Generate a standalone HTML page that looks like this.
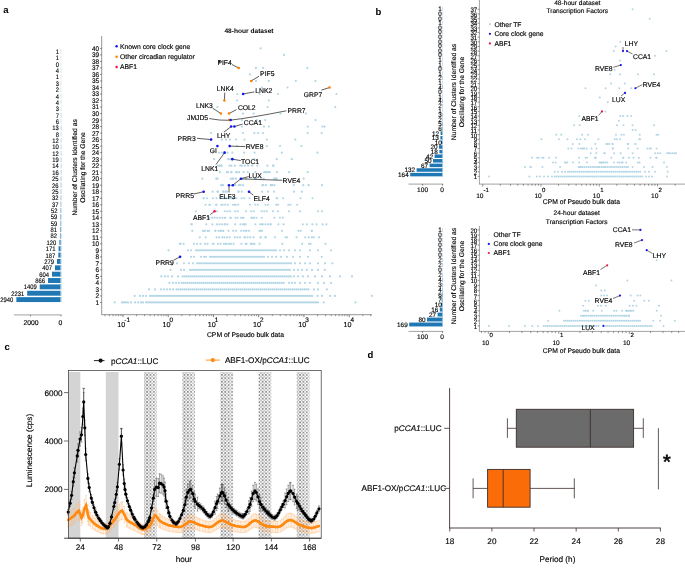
<!DOCTYPE html>
<html><head><meta charset="utf-8"><style>
html,body{margin:0;padding:0;background:#fff;}
svg{display:block;font-family:"Liberation Sans", sans-serif;will-change:transform;text-rendering:geometricPrecision;}
</style></head><body>
<svg width="685" height="570" viewBox="0 0 685 570">
<rect width="685" height="570" fill="#fff"/>
<text x="3.30" y="13.20" font-size="9.5" text-anchor="start" font-weight="bold" fill="#000" >a</text>
<text x="375.50" y="15.30" font-size="9.5" text-anchor="start" font-weight="bold" fill="#000" >b</text>
<text x="4.60" y="349.50" font-size="9.5" text-anchor="start" font-weight="bold" fill="#000" >c</text>
<text x="367.40" y="358.20" font-size="9.5" text-anchor="start" font-weight="bold" fill="#000" >d</text>
<rect x="61.18" y="49.11" width="0.02" height="4.90" fill="#1f77b4" />
<line x1="60.80" y1="49.26" x2="60.80" y2="53.86" stroke="#d6e6f3" stroke-width="0.8" />
<text x="58.98" y="54.01" font-size="6.6" text-anchor="end" font-weight="normal" fill="#000" stroke="#000" stroke-width="0.14" textLength="3.2" lengthAdjust="spacingAndGlyphs" >1</text>
<rect x="61.18" y="55.47" width="0.02" height="4.90" fill="#1f77b4" />
<line x1="60.80" y1="55.62" x2="60.80" y2="60.22" stroke="#d6e6f3" stroke-width="0.8" />
<text x="58.98" y="60.37" font-size="6.6" text-anchor="end" font-weight="normal" fill="#000" stroke="#000" stroke-width="0.14" textLength="3.2" lengthAdjust="spacingAndGlyphs" >1</text>
<line x1="60.80" y1="61.98" x2="60.80" y2="66.58" stroke="#d6e6f3" stroke-width="0.8" />
<text x="59.00" y="66.73" font-size="6.6" text-anchor="end" font-weight="normal" fill="#000" stroke="#000" stroke-width="0.14" textLength="3.2" lengthAdjust="spacingAndGlyphs" >0</text>
<rect x="61.14" y="68.19" width="0.06" height="4.90" fill="#1f77b4" />
<line x1="60.80" y1="68.34" x2="60.80" y2="72.94" stroke="#d6e6f3" stroke-width="0.8" />
<text x="58.94" y="73.09" font-size="6.6" text-anchor="end" font-weight="normal" fill="#000" stroke="#000" stroke-width="0.14" textLength="3.2" lengthAdjust="spacingAndGlyphs" >4</text>
<rect x="61.18" y="74.55" width="0.02" height="4.90" fill="#1f77b4" />
<line x1="60.80" y1="74.70" x2="60.80" y2="79.30" stroke="#d6e6f3" stroke-width="0.8" />
<text x="58.98" y="79.45" font-size="6.6" text-anchor="end" font-weight="normal" fill="#000" stroke="#000" stroke-width="0.14" textLength="3.2" lengthAdjust="spacingAndGlyphs" >1</text>
<rect x="61.15" y="80.91" width="0.05" height="4.90" fill="#1f77b4" />
<line x1="60.80" y1="81.06" x2="60.80" y2="85.66" stroke="#d6e6f3" stroke-width="0.8" />
<text x="58.95" y="85.81" font-size="6.6" text-anchor="end" font-weight="normal" fill="#000" stroke="#000" stroke-width="0.14" textLength="3.2" lengthAdjust="spacingAndGlyphs" >3</text>
<rect x="61.17" y="87.27" width="0.03" height="4.90" fill="#1f77b4" />
<line x1="60.80" y1="87.42" x2="60.80" y2="92.02" stroke="#d6e6f3" stroke-width="0.8" />
<text x="58.97" y="92.17" font-size="6.6" text-anchor="end" font-weight="normal" fill="#000" stroke="#000" stroke-width="0.14" textLength="3.2" lengthAdjust="spacingAndGlyphs" >2</text>
<rect x="61.14" y="93.63" width="0.06" height="4.90" fill="#1f77b4" />
<line x1="60.80" y1="93.78" x2="60.80" y2="98.38" stroke="#d6e6f3" stroke-width="0.8" />
<text x="58.94" y="98.53" font-size="6.6" text-anchor="end" font-weight="normal" fill="#000" stroke="#000" stroke-width="0.14" textLength="3.2" lengthAdjust="spacingAndGlyphs" >4</text>
<rect x="61.14" y="99.99" width="0.06" height="4.90" fill="#1f77b4" />
<line x1="60.80" y1="100.14" x2="60.80" y2="104.74" stroke="#d6e6f3" stroke-width="0.8" />
<text x="58.94" y="104.89" font-size="6.6" text-anchor="end" font-weight="normal" fill="#000" stroke="#000" stroke-width="0.14" textLength="3.2" lengthAdjust="spacingAndGlyphs" >4</text>
<rect x="61.15" y="106.35" width="0.05" height="4.90" fill="#1f77b4" />
<line x1="60.80" y1="106.50" x2="60.80" y2="111.10" stroke="#d6e6f3" stroke-width="0.8" />
<text x="58.95" y="111.25" font-size="6.6" text-anchor="end" font-weight="normal" fill="#000" stroke="#000" stroke-width="0.14" textLength="3.2" lengthAdjust="spacingAndGlyphs" >3</text>
<rect x="61.09" y="112.71" width="0.11" height="4.90" fill="#1f77b4" />
<line x1="60.80" y1="112.86" x2="60.80" y2="117.46" stroke="#d6e6f3" stroke-width="0.8" />
<text x="58.89" y="117.61" font-size="6.6" text-anchor="end" font-weight="normal" fill="#000" stroke="#000" stroke-width="0.14" textLength="3.2" lengthAdjust="spacingAndGlyphs" >7</text>
<rect x="61.11" y="119.07" width="0.09" height="4.90" fill="#1f77b4" />
<line x1="60.80" y1="119.22" x2="60.80" y2="123.82" stroke="#d6e6f3" stroke-width="0.8" />
<text x="58.91" y="123.97" font-size="6.6" text-anchor="end" font-weight="normal" fill="#000" stroke="#000" stroke-width="0.14" textLength="3.2" lengthAdjust="spacingAndGlyphs" >6</text>
<rect x="61.00" y="125.43" width="0.20" height="4.90" fill="#1f77b4" />
<line x1="60.80" y1="125.58" x2="60.80" y2="130.18" stroke="#d6e6f3" stroke-width="0.8" />
<text x="58.80" y="130.33" font-size="6.6" text-anchor="end" font-weight="normal" fill="#000" stroke="#000" stroke-width="0.14" textLength="6.5" lengthAdjust="spacingAndGlyphs" >13</text>
<rect x="61.08" y="131.79" width="0.12" height="4.90" fill="#1f77b4" />
<line x1="60.80" y1="131.94" x2="60.80" y2="136.54" stroke="#d6e6f3" stroke-width="0.8" />
<text x="58.88" y="136.69" font-size="6.6" text-anchor="end" font-weight="normal" fill="#000" stroke="#000" stroke-width="0.14" textLength="3.2" lengthAdjust="spacingAndGlyphs" >8</text>
<rect x="61.02" y="138.15" width="0.18" height="4.90" fill="#1f77b4" />
<line x1="60.80" y1="138.30" x2="60.80" y2="142.90" stroke="#d6e6f3" stroke-width="0.8" />
<text x="58.82" y="143.05" font-size="6.6" text-anchor="end" font-weight="normal" fill="#000" stroke="#000" stroke-width="0.14" textLength="6.5" lengthAdjust="spacingAndGlyphs" >12</text>
<rect x="61.05" y="144.51" width="0.15" height="4.90" fill="#1f77b4" />
<line x1="60.80" y1="144.66" x2="60.80" y2="149.26" stroke="#d6e6f3" stroke-width="0.8" />
<text x="58.85" y="149.41" font-size="6.6" text-anchor="end" font-weight="normal" fill="#000" stroke="#000" stroke-width="0.14" textLength="6.5" lengthAdjust="spacingAndGlyphs" >10</text>
<rect x="61.02" y="150.87" width="0.18" height="4.90" fill="#1f77b4" />
<line x1="60.80" y1="151.02" x2="60.80" y2="155.62" stroke="#d6e6f3" stroke-width="0.8" />
<text x="58.82" y="155.77" font-size="6.6" text-anchor="end" font-weight="normal" fill="#000" stroke="#000" stroke-width="0.14" textLength="6.5" lengthAdjust="spacingAndGlyphs" >12</text>
<rect x="60.91" y="157.23" width="0.29" height="4.90" fill="#1f77b4" />
<line x1="60.80" y1="157.38" x2="60.80" y2="161.98" stroke="#d6e6f3" stroke-width="0.8" />
<text x="58.71" y="162.13" font-size="6.6" text-anchor="end" font-weight="normal" fill="#000" stroke="#000" stroke-width="0.14" textLength="6.5" lengthAdjust="spacingAndGlyphs" >19</text>
<rect x="60.99" y="163.59" width="0.21" height="4.90" fill="#1f77b4" />
<line x1="60.80" y1="163.74" x2="60.80" y2="168.34" stroke="#d6e6f3" stroke-width="0.8" />
<text x="58.79" y="168.49" font-size="6.6" text-anchor="end" font-weight="normal" fill="#000" stroke="#000" stroke-width="0.14" textLength="6.5" lengthAdjust="spacingAndGlyphs" >14</text>
<rect x="60.96" y="169.95" width="0.24" height="4.90" fill="#1f77b4" />
<line x1="60.80" y1="170.10" x2="60.80" y2="174.70" stroke="#d6e6f3" stroke-width="0.8" />
<text x="58.76" y="174.85" font-size="6.6" text-anchor="end" font-weight="normal" fill="#000" stroke="#000" stroke-width="0.14" textLength="6.5" lengthAdjust="spacingAndGlyphs" >16</text>
<rect x="60.82" y="176.31" width="0.38" height="4.90" fill="#1f77b4" />
<line x1="60.80" y1="176.46" x2="60.80" y2="181.06" stroke="#d6e6f3" stroke-width="0.8" />
<text x="58.62" y="181.21" font-size="6.6" text-anchor="end" font-weight="normal" fill="#000" stroke="#000" stroke-width="0.14" textLength="6.5" lengthAdjust="spacingAndGlyphs" >25</text>
<rect x="60.80" y="182.67" width="0.40" height="4.90" fill="#1f77b4" />
<line x1="60.80" y1="182.82" x2="60.80" y2="187.42" stroke="#d6e6f3" stroke-width="0.8" />
<text x="58.60" y="187.57" font-size="6.6" text-anchor="end" font-weight="normal" fill="#000" stroke="#000" stroke-width="0.14" textLength="6.5" lengthAdjust="spacingAndGlyphs" >26</text>
<rect x="60.82" y="189.03" width="0.38" height="4.90" fill="#1f77b4" />
<line x1="60.80" y1="189.18" x2="60.80" y2="193.78" stroke="#d6e6f3" stroke-width="0.8" />
<text x="58.62" y="193.93" font-size="6.6" text-anchor="end" font-weight="normal" fill="#000" stroke="#000" stroke-width="0.14" textLength="6.5" lengthAdjust="spacingAndGlyphs" >25</text>
<rect x="60.71" y="195.39" width="0.49" height="4.90" fill="#1f77b4" />
<line x1="60.80" y1="195.54" x2="60.80" y2="200.14" stroke="#d6e6f3" stroke-width="0.8" />
<text x="58.51" y="200.29" font-size="6.6" text-anchor="end" font-weight="normal" fill="#000" stroke="#000" stroke-width="0.14" textLength="6.5" lengthAdjust="spacingAndGlyphs" >32</text>
<rect x="60.64" y="201.75" width="0.56" height="4.90" fill="#1f77b4" />
<line x1="60.80" y1="201.90" x2="60.80" y2="206.50" stroke="#d6e6f3" stroke-width="0.8" />
<text x="58.44" y="206.65" font-size="6.6" text-anchor="end" font-weight="normal" fill="#000" stroke="#000" stroke-width="0.14" textLength="6.5" lengthAdjust="spacingAndGlyphs" >37</text>
<rect x="60.41" y="208.11" width="0.79" height="4.90" fill="#1f77b4" />
<line x1="60.80" y1="208.26" x2="60.80" y2="212.86" stroke="#d6e6f3" stroke-width="0.8" />
<text x="57.41" y="213.01" font-size="6.6" text-anchor="end" font-weight="normal" fill="#000" stroke="#000" stroke-width="0.14" textLength="6.5" lengthAdjust="spacingAndGlyphs" >52</text>
<rect x="60.30" y="214.47" width="0.90" height="4.90" fill="#1f77b4" />
<line x1="60.80" y1="214.62" x2="60.80" y2="219.22" stroke="#d6e6f3" stroke-width="0.8" />
<text x="57.30" y="219.37" font-size="6.6" text-anchor="end" font-weight="normal" fill="#000" stroke="#000" stroke-width="0.14" textLength="6.5" lengthAdjust="spacingAndGlyphs" >59</text>
<rect x="60.30" y="220.83" width="0.90" height="4.90" fill="#1f77b4" />
<line x1="60.80" y1="220.98" x2="60.80" y2="225.58" stroke="#d6e6f3" stroke-width="0.8" />
<text x="57.30" y="225.73" font-size="6.6" text-anchor="end" font-weight="normal" fill="#000" stroke="#000" stroke-width="0.14" textLength="6.5" lengthAdjust="spacingAndGlyphs" >59</text>
<rect x="59.96" y="227.19" width="1.24" height="4.90" fill="#1f77b4" />
<line x1="60.80" y1="227.34" x2="60.80" y2="231.94" stroke="#d6e6f3" stroke-width="0.8" />
<text x="56.96" y="232.09" font-size="6.6" text-anchor="end" font-weight="normal" fill="#000" stroke="#000" stroke-width="0.14" textLength="6.5" lengthAdjust="spacingAndGlyphs" >81</text>
<rect x="59.95" y="233.55" width="1.25" height="4.90" fill="#1f77b4" />
<line x1="60.80" y1="233.70" x2="60.80" y2="238.30" stroke="#d6e6f3" stroke-width="0.8" />
<text x="56.95" y="238.45" font-size="6.6" text-anchor="end" font-weight="normal" fill="#000" stroke="#000" stroke-width="0.14" textLength="6.5" lengthAdjust="spacingAndGlyphs" >82</text>
<rect x="59.37" y="239.91" width="1.83" height="4.90" fill="#1f77b4" />
<line x1="60.80" y1="240.06" x2="60.80" y2="244.66" stroke="#d6e6f3" stroke-width="0.8" />
<text x="56.37" y="244.81" font-size="6.6" text-anchor="end" font-weight="normal" fill="#000" stroke="#000" stroke-width="0.14" textLength="9.8" lengthAdjust="spacingAndGlyphs" >120</text>
<rect x="58.59" y="246.27" width="2.61" height="4.90" fill="#1f77b4" />
<line x1="60.80" y1="246.42" x2="60.80" y2="251.02" stroke="#d6e6f3" stroke-width="0.8" />
<text x="55.59" y="251.17" font-size="6.6" text-anchor="end" font-weight="normal" fill="#000" stroke="#000" stroke-width="0.14" textLength="9.8" lengthAdjust="spacingAndGlyphs" >171</text>
<rect x="58.35" y="252.63" width="2.85" height="4.90" fill="#1f77b4" />
<line x1="60.80" y1="252.78" x2="60.80" y2="257.38" stroke="#d6e6f3" stroke-width="0.8" />
<text x="55.35" y="257.53" font-size="6.6" text-anchor="end" font-weight="normal" fill="#000" stroke="#000" stroke-width="0.14" textLength="9.8" lengthAdjust="spacingAndGlyphs" >187</text>
<rect x="56.95" y="258.99" width="4.25" height="4.90" fill="#1f77b4" />
<line x1="60.80" y1="259.14" x2="60.80" y2="263.74" stroke="#d6e6f3" stroke-width="0.8" />
<text x="53.95" y="263.89" font-size="6.6" text-anchor="end" font-weight="normal" fill="#000" stroke="#000" stroke-width="0.14" textLength="9.8" lengthAdjust="spacingAndGlyphs" >279</text>
<rect x="54.99" y="265.35" width="6.21" height="4.90" fill="#1f77b4" />
<line x1="60.80" y1="265.50" x2="60.80" y2="270.10" stroke="#d6e6f3" stroke-width="0.8" />
<text x="51.99" y="270.25" font-size="6.6" text-anchor="end" font-weight="normal" fill="#000" stroke="#000" stroke-width="0.14" textLength="9.8" lengthAdjust="spacingAndGlyphs" >407</text>
<rect x="51.99" y="271.71" width="9.21" height="4.90" fill="#1f77b4" />
<line x1="60.80" y1="271.86" x2="60.80" y2="276.46" stroke="#d6e6f3" stroke-width="0.8" />
<text x="48.99" y="276.61" font-size="6.6" text-anchor="end" font-weight="normal" fill="#000" stroke="#000" stroke-width="0.14" textLength="9.8" lengthAdjust="spacingAndGlyphs" >604</text>
<rect x="47.99" y="278.07" width="13.21" height="4.90" fill="#1f77b4" />
<line x1="60.80" y1="278.22" x2="60.80" y2="282.82" stroke="#d6e6f3" stroke-width="0.8" />
<text x="44.99" y="282.97" font-size="6.6" text-anchor="end" font-weight="normal" fill="#000" stroke="#000" stroke-width="0.14" textLength="9.8" lengthAdjust="spacingAndGlyphs" >866</text>
<rect x="39.71" y="284.43" width="21.49" height="4.90" fill="#1f77b4" />
<line x1="60.80" y1="284.58" x2="60.80" y2="289.18" stroke="#d6e6f3" stroke-width="0.8" />
<text x="36.71" y="289.33" font-size="6.6" text-anchor="end" font-weight="normal" fill="#000" stroke="#000" stroke-width="0.14" textLength="13.0" lengthAdjust="spacingAndGlyphs" >1409</text>
<rect x="27.18" y="290.79" width="34.02" height="4.90" fill="#1f77b4" />
<line x1="60.80" y1="290.94" x2="60.80" y2="295.54" stroke="#d6e6f3" stroke-width="0.8" />
<text x="24.18" y="295.69" font-size="6.6" text-anchor="end" font-weight="normal" fill="#000" stroke="#000" stroke-width="0.14" textLength="13.0" lengthAdjust="spacingAndGlyphs" >2231</text>
<rect x="16.37" y="297.15" width="44.84" height="4.90" fill="#1f77b4" />
<line x1="60.80" y1="297.30" x2="60.80" y2="301.90" stroke="#d6e6f3" stroke-width="0.8" />
<text x="13.37" y="302.05" font-size="6.6" text-anchor="end" font-weight="normal" fill="#000" stroke="#000" stroke-width="0.14" textLength="13.0" lengthAdjust="spacingAndGlyphs" >2940</text>
<line x1="13.90" y1="314.90" x2="61.50" y2="314.90" stroke="#8a8a8a" stroke-width="0.8" />
<line x1="30.50" y1="314.90" x2="30.50" y2="316.30" stroke="#333" stroke-width="0.6" />
<line x1="61.00" y1="314.90" x2="61.00" y2="316.30" stroke="#333" stroke-width="0.6" />
<text x="31.00" y="325.20" font-size="6.8" text-anchor="middle" font-weight="normal" fill="#000" stroke="#000" stroke-width="0.14" >2000</text>
<text x="60.50" y="325.20" font-size="6.8" text-anchor="middle" font-weight="normal" fill="#000" stroke="#000" stroke-width="0.14" >0</text>
<text transform="translate(76.8,167.4) rotate(-90)" font-size="6.75" text-anchor="middle" fill="#000" stroke="#000" stroke-width="0.14">Number of Clusters Identified as</text>
<text transform="translate(85.4,167.4) rotate(-90)" font-size="6.75" text-anchor="middle" fill="#000" stroke="#000" stroke-width="0.14">Oscillating for the Gene</text>
<line x1="101.70" y1="36.00" x2="101.70" y2="314.70" stroke="#8a8a8a" stroke-width="0.9" />
<line x1="101.30" y1="314.70" x2="372.00" y2="314.70" stroke="#8a8a8a" stroke-width="0.9" />
<line x1="100.10" y1="302.45" x2="101.70" y2="302.45" stroke="#333" stroke-width="0.6" />
<text x="99.20" y="304.90" font-size="6.7" text-anchor="end" font-weight="normal" fill="#000" stroke="#000" stroke-width="0.14" textLength="3.6" lengthAdjust="spacingAndGlyphs" >1</text>
<line x1="100.10" y1="295.94" x2="101.70" y2="295.94" stroke="#333" stroke-width="0.6" />
<text x="99.20" y="298.39" font-size="6.7" text-anchor="end" font-weight="normal" fill="#000" stroke="#000" stroke-width="0.14" textLength="3.6" lengthAdjust="spacingAndGlyphs" >2</text>
<line x1="100.10" y1="289.42" x2="101.70" y2="289.42" stroke="#333" stroke-width="0.6" />
<text x="99.20" y="291.87" font-size="6.7" text-anchor="end" font-weight="normal" fill="#000" stroke="#000" stroke-width="0.14" textLength="3.6" lengthAdjust="spacingAndGlyphs" >3</text>
<line x1="100.10" y1="282.91" x2="101.70" y2="282.91" stroke="#333" stroke-width="0.6" />
<text x="99.20" y="285.36" font-size="6.7" text-anchor="end" font-weight="normal" fill="#000" stroke="#000" stroke-width="0.14" textLength="3.6" lengthAdjust="spacingAndGlyphs" >4</text>
<line x1="100.10" y1="276.39" x2="101.70" y2="276.39" stroke="#333" stroke-width="0.6" />
<text x="99.20" y="278.84" font-size="6.7" text-anchor="end" font-weight="normal" fill="#000" stroke="#000" stroke-width="0.14" textLength="3.6" lengthAdjust="spacingAndGlyphs" >5</text>
<line x1="100.10" y1="269.88" x2="101.70" y2="269.88" stroke="#333" stroke-width="0.6" />
<text x="99.20" y="272.33" font-size="6.7" text-anchor="end" font-weight="normal" fill="#000" stroke="#000" stroke-width="0.14" textLength="3.6" lengthAdjust="spacingAndGlyphs" >6</text>
<line x1="100.10" y1="263.37" x2="101.70" y2="263.37" stroke="#333" stroke-width="0.6" />
<text x="99.20" y="265.82" font-size="6.7" text-anchor="end" font-weight="normal" fill="#000" stroke="#000" stroke-width="0.14" textLength="3.6" lengthAdjust="spacingAndGlyphs" >7</text>
<line x1="100.10" y1="256.85" x2="101.70" y2="256.85" stroke="#333" stroke-width="0.6" />
<text x="99.20" y="259.30" font-size="6.7" text-anchor="end" font-weight="normal" fill="#000" stroke="#000" stroke-width="0.14" textLength="3.6" lengthAdjust="spacingAndGlyphs" >8</text>
<line x1="100.10" y1="250.34" x2="101.70" y2="250.34" stroke="#333" stroke-width="0.6" />
<text x="99.20" y="252.79" font-size="6.7" text-anchor="end" font-weight="normal" fill="#000" stroke="#000" stroke-width="0.14" textLength="3.6" lengthAdjust="spacingAndGlyphs" >9</text>
<line x1="100.10" y1="243.82" x2="101.70" y2="243.82" stroke="#333" stroke-width="0.6" />
<text x="99.20" y="246.27" font-size="6.7" text-anchor="end" font-weight="normal" fill="#000" stroke="#000" stroke-width="0.14" textLength="7.2" lengthAdjust="spacingAndGlyphs" >10</text>
<line x1="100.10" y1="237.31" x2="101.70" y2="237.31" stroke="#333" stroke-width="0.6" />
<text x="99.20" y="239.76" font-size="6.7" text-anchor="end" font-weight="normal" fill="#000" stroke="#000" stroke-width="0.14" textLength="7.2" lengthAdjust="spacingAndGlyphs" >11</text>
<line x1="100.10" y1="230.80" x2="101.70" y2="230.80" stroke="#333" stroke-width="0.6" />
<text x="99.20" y="233.25" font-size="6.7" text-anchor="end" font-weight="normal" fill="#000" stroke="#000" stroke-width="0.14" textLength="7.2" lengthAdjust="spacingAndGlyphs" >12</text>
<line x1="100.10" y1="224.28" x2="101.70" y2="224.28" stroke="#333" stroke-width="0.6" />
<text x="99.20" y="226.73" font-size="6.7" text-anchor="end" font-weight="normal" fill="#000" stroke="#000" stroke-width="0.14" textLength="7.2" lengthAdjust="spacingAndGlyphs" >13</text>
<line x1="100.10" y1="217.77" x2="101.70" y2="217.77" stroke="#333" stroke-width="0.6" />
<text x="99.20" y="220.22" font-size="6.7" text-anchor="end" font-weight="normal" fill="#000" stroke="#000" stroke-width="0.14" textLength="7.2" lengthAdjust="spacingAndGlyphs" >14</text>
<line x1="100.10" y1="211.25" x2="101.70" y2="211.25" stroke="#333" stroke-width="0.6" />
<text x="99.20" y="213.70" font-size="6.7" text-anchor="end" font-weight="normal" fill="#000" stroke="#000" stroke-width="0.14" textLength="7.2" lengthAdjust="spacingAndGlyphs" >15</text>
<line x1="100.10" y1="204.74" x2="101.70" y2="204.74" stroke="#333" stroke-width="0.6" />
<text x="99.20" y="207.19" font-size="6.7" text-anchor="end" font-weight="normal" fill="#000" stroke="#000" stroke-width="0.14" textLength="7.2" lengthAdjust="spacingAndGlyphs" >16</text>
<line x1="100.10" y1="198.23" x2="101.70" y2="198.23" stroke="#333" stroke-width="0.6" />
<text x="99.20" y="200.68" font-size="6.7" text-anchor="end" font-weight="normal" fill="#000" stroke="#000" stroke-width="0.14" textLength="7.2" lengthAdjust="spacingAndGlyphs" >17</text>
<line x1="100.10" y1="191.71" x2="101.70" y2="191.71" stroke="#333" stroke-width="0.6" />
<text x="99.20" y="194.16" font-size="6.7" text-anchor="end" font-weight="normal" fill="#000" stroke="#000" stroke-width="0.14" textLength="7.2" lengthAdjust="spacingAndGlyphs" >18</text>
<line x1="100.10" y1="185.20" x2="101.70" y2="185.20" stroke="#333" stroke-width="0.6" />
<text x="99.20" y="187.65" font-size="6.7" text-anchor="end" font-weight="normal" fill="#000" stroke="#000" stroke-width="0.14" textLength="7.2" lengthAdjust="spacingAndGlyphs" >19</text>
<line x1="100.10" y1="178.68" x2="101.70" y2="178.68" stroke="#333" stroke-width="0.6" />
<text x="99.20" y="181.13" font-size="6.7" text-anchor="end" font-weight="normal" fill="#000" stroke="#000" stroke-width="0.14" textLength="7.2" lengthAdjust="spacingAndGlyphs" >20</text>
<line x1="100.10" y1="172.17" x2="101.70" y2="172.17" stroke="#333" stroke-width="0.6" />
<text x="99.20" y="174.62" font-size="6.7" text-anchor="end" font-weight="normal" fill="#000" stroke="#000" stroke-width="0.14" textLength="7.2" lengthAdjust="spacingAndGlyphs" >21</text>
<line x1="100.10" y1="165.66" x2="101.70" y2="165.66" stroke="#333" stroke-width="0.6" />
<text x="99.20" y="168.11" font-size="6.7" text-anchor="end" font-weight="normal" fill="#000" stroke="#000" stroke-width="0.14" textLength="7.2" lengthAdjust="spacingAndGlyphs" >22</text>
<line x1="100.10" y1="159.14" x2="101.70" y2="159.14" stroke="#333" stroke-width="0.6" />
<text x="99.20" y="161.59" font-size="6.7" text-anchor="end" font-weight="normal" fill="#000" stroke="#000" stroke-width="0.14" textLength="7.2" lengthAdjust="spacingAndGlyphs" >23</text>
<line x1="100.10" y1="152.63" x2="101.70" y2="152.63" stroke="#333" stroke-width="0.6" />
<text x="99.20" y="155.08" font-size="6.7" text-anchor="end" font-weight="normal" fill="#000" stroke="#000" stroke-width="0.14" textLength="7.2" lengthAdjust="spacingAndGlyphs" >24</text>
<line x1="100.10" y1="146.11" x2="101.70" y2="146.11" stroke="#333" stroke-width="0.6" />
<text x="99.20" y="148.56" font-size="6.7" text-anchor="end" font-weight="normal" fill="#000" stroke="#000" stroke-width="0.14" textLength="7.2" lengthAdjust="spacingAndGlyphs" >25</text>
<line x1="100.10" y1="139.60" x2="101.70" y2="139.60" stroke="#333" stroke-width="0.6" />
<text x="99.20" y="142.05" font-size="6.7" text-anchor="end" font-weight="normal" fill="#000" stroke="#000" stroke-width="0.14" textLength="7.2" lengthAdjust="spacingAndGlyphs" >26</text>
<line x1="100.10" y1="133.09" x2="101.70" y2="133.09" stroke="#333" stroke-width="0.6" />
<text x="99.20" y="135.54" font-size="6.7" text-anchor="end" font-weight="normal" fill="#000" stroke="#000" stroke-width="0.14" textLength="7.2" lengthAdjust="spacingAndGlyphs" >27</text>
<line x1="100.10" y1="126.57" x2="101.70" y2="126.57" stroke="#333" stroke-width="0.6" />
<text x="99.20" y="129.02" font-size="6.7" text-anchor="end" font-weight="normal" fill="#000" stroke="#000" stroke-width="0.14" textLength="7.2" lengthAdjust="spacingAndGlyphs" >28</text>
<line x1="100.10" y1="120.06" x2="101.70" y2="120.06" stroke="#333" stroke-width="0.6" />
<text x="99.20" y="122.51" font-size="6.7" text-anchor="end" font-weight="normal" fill="#000" stroke="#000" stroke-width="0.14" textLength="7.2" lengthAdjust="spacingAndGlyphs" >29</text>
<line x1="100.10" y1="113.54" x2="101.70" y2="113.54" stroke="#333" stroke-width="0.6" />
<text x="99.20" y="115.99" font-size="6.7" text-anchor="end" font-weight="normal" fill="#000" stroke="#000" stroke-width="0.14" textLength="7.2" lengthAdjust="spacingAndGlyphs" >30</text>
<line x1="100.10" y1="107.03" x2="101.70" y2="107.03" stroke="#333" stroke-width="0.6" />
<text x="99.20" y="109.48" font-size="6.7" text-anchor="end" font-weight="normal" fill="#000" stroke="#000" stroke-width="0.14" textLength="7.2" lengthAdjust="spacingAndGlyphs" >31</text>
<line x1="100.10" y1="100.52" x2="101.70" y2="100.52" stroke="#333" stroke-width="0.6" />
<text x="99.20" y="102.97" font-size="6.7" text-anchor="end" font-weight="normal" fill="#000" stroke="#000" stroke-width="0.14" textLength="7.2" lengthAdjust="spacingAndGlyphs" >32</text>
<line x1="100.10" y1="94.00" x2="101.70" y2="94.00" stroke="#333" stroke-width="0.6" />
<text x="99.20" y="96.45" font-size="6.7" text-anchor="end" font-weight="normal" fill="#000" stroke="#000" stroke-width="0.14" textLength="7.2" lengthAdjust="spacingAndGlyphs" >33</text>
<line x1="100.10" y1="87.49" x2="101.70" y2="87.49" stroke="#333" stroke-width="0.6" />
<text x="99.20" y="89.94" font-size="6.7" text-anchor="end" font-weight="normal" fill="#000" stroke="#000" stroke-width="0.14" textLength="7.2" lengthAdjust="spacingAndGlyphs" >34</text>
<line x1="100.10" y1="80.97" x2="101.70" y2="80.97" stroke="#333" stroke-width="0.6" />
<text x="99.20" y="83.42" font-size="6.7" text-anchor="end" font-weight="normal" fill="#000" stroke="#000" stroke-width="0.14" textLength="7.2" lengthAdjust="spacingAndGlyphs" >35</text>
<line x1="100.10" y1="74.46" x2="101.70" y2="74.46" stroke="#333" stroke-width="0.6" />
<text x="99.20" y="76.91" font-size="6.7" text-anchor="end" font-weight="normal" fill="#000" stroke="#000" stroke-width="0.14" textLength="7.2" lengthAdjust="spacingAndGlyphs" >36</text>
<line x1="100.10" y1="67.95" x2="101.70" y2="67.95" stroke="#333" stroke-width="0.6" />
<text x="99.20" y="70.40" font-size="6.7" text-anchor="end" font-weight="normal" fill="#000" stroke="#000" stroke-width="0.14" textLength="7.2" lengthAdjust="spacingAndGlyphs" >37</text>
<line x1="100.10" y1="61.43" x2="101.70" y2="61.43" stroke="#333" stroke-width="0.6" />
<text x="99.20" y="63.88" font-size="6.7" text-anchor="end" font-weight="normal" fill="#000" stroke="#000" stroke-width="0.14" textLength="7.2" lengthAdjust="spacingAndGlyphs" >38</text>
<line x1="100.10" y1="54.92" x2="101.70" y2="54.92" stroke="#333" stroke-width="0.6" />
<text x="99.20" y="57.37" font-size="6.7" text-anchor="end" font-weight="normal" fill="#000" stroke="#000" stroke-width="0.14" textLength="7.2" lengthAdjust="spacingAndGlyphs" >39</text>
<line x1="100.10" y1="48.40" x2="101.70" y2="48.40" stroke="#333" stroke-width="0.6" />
<text x="99.20" y="50.85" font-size="6.7" text-anchor="end" font-weight="normal" fill="#000" stroke="#000" stroke-width="0.14" textLength="7.2" lengthAdjust="spacingAndGlyphs" >40</text>
<line x1="104.94" y1="314.70" x2="104.94" y2="316.20" stroke="#333" stroke-width="0.5" />
<line x1="109.33" y1="314.70" x2="109.33" y2="316.20" stroke="#333" stroke-width="0.5" />
<line x1="112.91" y1="314.70" x2="112.91" y2="316.20" stroke="#333" stroke-width="0.5" />
<line x1="115.94" y1="314.70" x2="115.94" y2="316.20" stroke="#333" stroke-width="0.5" />
<line x1="118.56" y1="314.70" x2="118.56" y2="316.20" stroke="#333" stroke-width="0.5" />
<line x1="120.88" y1="314.70" x2="120.88" y2="316.20" stroke="#333" stroke-width="0.5" />
<line x1="122.95" y1="314.70" x2="122.95" y2="317.20" stroke="#333" stroke-width="0.6" />
<line x1="136.57" y1="314.70" x2="136.57" y2="316.20" stroke="#333" stroke-width="0.5" />
<line x1="144.54" y1="314.70" x2="144.54" y2="316.20" stroke="#333" stroke-width="0.5" />
<line x1="150.19" y1="314.70" x2="150.19" y2="316.20" stroke="#333" stroke-width="0.5" />
<line x1="154.58" y1="314.70" x2="154.58" y2="316.20" stroke="#333" stroke-width="0.5" />
<line x1="158.16" y1="314.70" x2="158.16" y2="316.20" stroke="#333" stroke-width="0.5" />
<line x1="161.19" y1="314.70" x2="161.19" y2="316.20" stroke="#333" stroke-width="0.5" />
<line x1="163.81" y1="314.70" x2="163.81" y2="316.20" stroke="#333" stroke-width="0.5" />
<line x1="166.13" y1="314.70" x2="166.13" y2="316.20" stroke="#333" stroke-width="0.5" />
<line x1="168.20" y1="314.70" x2="168.20" y2="317.20" stroke="#333" stroke-width="0.6" />
<line x1="181.82" y1="314.70" x2="181.82" y2="316.20" stroke="#333" stroke-width="0.5" />
<line x1="189.79" y1="314.70" x2="189.79" y2="316.20" stroke="#333" stroke-width="0.5" />
<line x1="195.44" y1="314.70" x2="195.44" y2="316.20" stroke="#333" stroke-width="0.5" />
<line x1="199.83" y1="314.70" x2="199.83" y2="316.20" stroke="#333" stroke-width="0.5" />
<line x1="203.41" y1="314.70" x2="203.41" y2="316.20" stroke="#333" stroke-width="0.5" />
<line x1="206.44" y1="314.70" x2="206.44" y2="316.20" stroke="#333" stroke-width="0.5" />
<line x1="209.06" y1="314.70" x2="209.06" y2="316.20" stroke="#333" stroke-width="0.5" />
<line x1="211.38" y1="314.70" x2="211.38" y2="316.20" stroke="#333" stroke-width="0.5" />
<line x1="213.45" y1="314.70" x2="213.45" y2="317.20" stroke="#333" stroke-width="0.6" />
<line x1="227.07" y1="314.70" x2="227.07" y2="316.20" stroke="#333" stroke-width="0.5" />
<line x1="235.04" y1="314.70" x2="235.04" y2="316.20" stroke="#333" stroke-width="0.5" />
<line x1="240.69" y1="314.70" x2="240.69" y2="316.20" stroke="#333" stroke-width="0.5" />
<line x1="245.08" y1="314.70" x2="245.08" y2="316.20" stroke="#333" stroke-width="0.5" />
<line x1="248.66" y1="314.70" x2="248.66" y2="316.20" stroke="#333" stroke-width="0.5" />
<line x1="251.69" y1="314.70" x2="251.69" y2="316.20" stroke="#333" stroke-width="0.5" />
<line x1="254.31" y1="314.70" x2="254.31" y2="316.20" stroke="#333" stroke-width="0.5" />
<line x1="256.63" y1="314.70" x2="256.63" y2="316.20" stroke="#333" stroke-width="0.5" />
<line x1="258.70" y1="314.70" x2="258.70" y2="317.20" stroke="#333" stroke-width="0.6" />
<line x1="272.32" y1="314.70" x2="272.32" y2="316.20" stroke="#333" stroke-width="0.5" />
<line x1="280.29" y1="314.70" x2="280.29" y2="316.20" stroke="#333" stroke-width="0.5" />
<line x1="285.94" y1="314.70" x2="285.94" y2="316.20" stroke="#333" stroke-width="0.5" />
<line x1="290.33" y1="314.70" x2="290.33" y2="316.20" stroke="#333" stroke-width="0.5" />
<line x1="293.91" y1="314.70" x2="293.91" y2="316.20" stroke="#333" stroke-width="0.5" />
<line x1="296.94" y1="314.70" x2="296.94" y2="316.20" stroke="#333" stroke-width="0.5" />
<line x1="299.56" y1="314.70" x2="299.56" y2="316.20" stroke="#333" stroke-width="0.5" />
<line x1="301.88" y1="314.70" x2="301.88" y2="316.20" stroke="#333" stroke-width="0.5" />
<line x1="303.95" y1="314.70" x2="303.95" y2="317.20" stroke="#333" stroke-width="0.6" />
<line x1="317.57" y1="314.70" x2="317.57" y2="316.20" stroke="#333" stroke-width="0.5" />
<line x1="325.54" y1="314.70" x2="325.54" y2="316.20" stroke="#333" stroke-width="0.5" />
<line x1="331.19" y1="314.70" x2="331.19" y2="316.20" stroke="#333" stroke-width="0.5" />
<line x1="335.58" y1="314.70" x2="335.58" y2="316.20" stroke="#333" stroke-width="0.5" />
<line x1="339.16" y1="314.70" x2="339.16" y2="316.20" stroke="#333" stroke-width="0.5" />
<line x1="342.19" y1="314.70" x2="342.19" y2="316.20" stroke="#333" stroke-width="0.5" />
<line x1="344.81" y1="314.70" x2="344.81" y2="316.20" stroke="#333" stroke-width="0.5" />
<line x1="347.13" y1="314.70" x2="347.13" y2="316.20" stroke="#333" stroke-width="0.5" />
<line x1="349.20" y1="314.70" x2="349.20" y2="317.20" stroke="#333" stroke-width="0.6" />
<line x1="362.82" y1="314.70" x2="362.82" y2="316.20" stroke="#333" stroke-width="0.5" />
<line x1="370.79" y1="314.70" x2="370.79" y2="316.20" stroke="#333" stroke-width="0.5" />
<text x="125.35" y="327.10" font-size="7.2" text-anchor="end" font-weight="normal" fill="#000" stroke="#000" stroke-width="0.14" >10</text>
<text x="124.25" y="321.90" font-size="6.4" text-anchor="start" font-weight="normal" fill="#000" stroke="#000" stroke-width="0.14" >-1</text>
<text x="170.60" y="327.10" font-size="7.2" text-anchor="end" font-weight="normal" fill="#000" stroke="#000" stroke-width="0.14" >10</text>
<text x="169.50" y="321.90" font-size="6.4" text-anchor="start" font-weight="normal" fill="#000" stroke="#000" stroke-width="0.14" >0</text>
<text x="215.85" y="327.10" font-size="7.2" text-anchor="end" font-weight="normal" fill="#000" stroke="#000" stroke-width="0.14" >10</text>
<text x="214.75" y="321.90" font-size="6.4" text-anchor="start" font-weight="normal" fill="#000" stroke="#000" stroke-width="0.14" >1</text>
<text x="261.10" y="327.10" font-size="7.2" text-anchor="end" font-weight="normal" fill="#000" stroke="#000" stroke-width="0.14" >10</text>
<text x="260.00" y="321.90" font-size="6.4" text-anchor="start" font-weight="normal" fill="#000" stroke="#000" stroke-width="0.14" >2</text>
<text x="306.35" y="327.10" font-size="7.2" text-anchor="end" font-weight="normal" fill="#000" stroke="#000" stroke-width="0.14" >10</text>
<text x="305.25" y="321.90" font-size="6.4" text-anchor="start" font-weight="normal" fill="#000" stroke="#000" stroke-width="0.14" >3</text>
<text x="351.60" y="327.10" font-size="7.2" text-anchor="end" font-weight="normal" fill="#000" stroke="#000" stroke-width="0.14" >10</text>
<text x="350.50" y="321.90" font-size="6.4" text-anchor="start" font-weight="normal" fill="#000" stroke="#000" stroke-width="0.14" >4</text>
<text x="245.50" y="337.20" font-size="6.8" text-anchor="middle" font-weight="normal" fill="#000" stroke="#000" stroke-width="0.14" >CPM of Pseudo bulk data</text>
<text x="249.00" y="33.40" font-size="6.6" text-anchor="middle" font-weight="bold" fill="#000" >48-hour dataset</text>
<circle cx="116.60" cy="46.30" r="1.25" fill="#1414e6" />
<text x="120.00" y="48.70" font-size="6.8" text-anchor="start" font-weight="normal" fill="#000" stroke="#000" stroke-width="0.14" >Known core clock gene</text>
<circle cx="116.60" cy="56.70" r="1.25" fill="#ff8000" />
<text x="120.00" y="59.10" font-size="6.8" text-anchor="start" font-weight="normal" fill="#000" stroke="#000" stroke-width="0.14" >Other circadian regulator</text>
<circle cx="116.60" cy="67.00" r="1.25" fill="#f0143c" />
<text x="120.00" y="69.40" font-size="6.8" text-anchor="start" font-weight="normal" fill="#000" stroke="#000" stroke-width="0.14" >ABF1</text>
<circle cx="146.00" cy="302.45" r="1.1" fill="#b3d6e6" />
<circle cx="148.00" cy="302.45" r="1.1" fill="#b3d6e6" />
<circle cx="150.00" cy="302.45" r="1.1" fill="#b3d6e6" />
<circle cx="152.00" cy="302.45" r="1.1" fill="#b3d6e6" />
<circle cx="154.00" cy="302.45" r="1.1" fill="#b3d6e6" />
<circle cx="156.00" cy="302.45" r="1.1" fill="#b3d6e6" />
<circle cx="158.00" cy="302.45" r="1.1" fill="#b3d6e6" />
<circle cx="160.00" cy="302.45" r="1.1" fill="#b3d6e6" />
<circle cx="162.00" cy="302.45" r="1.1" fill="#b3d6e6" />
<circle cx="164.00" cy="302.45" r="1.1" fill="#b3d6e6" />
<circle cx="166.00" cy="302.45" r="1.1" fill="#b3d6e6" />
<circle cx="168.00" cy="302.45" r="1.1" fill="#b3d6e6" />
<circle cx="170.00" cy="302.45" r="1.1" fill="#b3d6e6" />
<circle cx="172.00" cy="302.45" r="1.1" fill="#b3d6e6" />
<circle cx="174.00" cy="302.45" r="1.1" fill="#b3d6e6" />
<circle cx="176.00" cy="302.45" r="1.1" fill="#b3d6e6" />
<circle cx="178.00" cy="302.45" r="1.1" fill="#b3d6e6" />
<circle cx="180.00" cy="302.45" r="1.1" fill="#b3d6e6" />
<circle cx="182.00" cy="302.45" r="1.1" fill="#b3d6e6" />
<circle cx="184.00" cy="302.45" r="1.1" fill="#b3d6e6" />
<circle cx="186.00" cy="302.45" r="1.1" fill="#b3d6e6" />
<circle cx="188.00" cy="302.45" r="1.1" fill="#b3d6e6" />
<circle cx="190.00" cy="302.45" r="1.1" fill="#b3d6e6" />
<circle cx="192.00" cy="302.45" r="1.1" fill="#b3d6e6" />
<circle cx="194.00" cy="302.45" r="1.1" fill="#b3d6e6" />
<circle cx="196.00" cy="302.45" r="1.1" fill="#b3d6e6" />
<circle cx="198.00" cy="302.45" r="1.1" fill="#b3d6e6" />
<circle cx="200.00" cy="302.45" r="1.1" fill="#b3d6e6" />
<circle cx="202.00" cy="302.45" r="1.1" fill="#b3d6e6" />
<circle cx="204.00" cy="302.45" r="1.1" fill="#b3d6e6" />
<circle cx="206.00" cy="302.45" r="1.1" fill="#b3d6e6" />
<circle cx="208.00" cy="302.45" r="1.1" fill="#b3d6e6" />
<circle cx="210.00" cy="302.45" r="1.1" fill="#b3d6e6" />
<circle cx="212.00" cy="302.45" r="1.1" fill="#b3d6e6" />
<circle cx="214.00" cy="302.45" r="1.1" fill="#b3d6e6" />
<circle cx="216.00" cy="302.45" r="1.1" fill="#b3d6e6" />
<circle cx="218.00" cy="302.45" r="1.1" fill="#b3d6e6" />
<circle cx="220.00" cy="302.45" r="1.1" fill="#b3d6e6" />
<circle cx="222.00" cy="302.45" r="1.1" fill="#b3d6e6" />
<circle cx="224.00" cy="302.45" r="1.1" fill="#b3d6e6" />
<circle cx="226.00" cy="302.45" r="1.1" fill="#b3d6e6" />
<circle cx="228.00" cy="302.45" r="1.1" fill="#b3d6e6" />
<circle cx="230.00" cy="302.45" r="1.1" fill="#b3d6e6" />
<circle cx="232.00" cy="302.45" r="1.1" fill="#b3d6e6" />
<circle cx="234.00" cy="302.45" r="1.1" fill="#b3d6e6" />
<circle cx="236.00" cy="302.45" r="1.1" fill="#b3d6e6" />
<circle cx="238.00" cy="302.45" r="1.1" fill="#b3d6e6" />
<circle cx="240.00" cy="302.45" r="1.1" fill="#b3d6e6" />
<circle cx="242.00" cy="302.45" r="1.1" fill="#b3d6e6" />
<circle cx="244.00" cy="302.45" r="1.1" fill="#b3d6e6" />
<circle cx="246.00" cy="302.45" r="1.1" fill="#b3d6e6" />
<circle cx="248.00" cy="302.45" r="1.1" fill="#b3d6e6" />
<circle cx="250.00" cy="302.45" r="1.1" fill="#b3d6e6" />
<circle cx="252.00" cy="302.45" r="1.1" fill="#b3d6e6" />
<circle cx="254.00" cy="302.45" r="1.1" fill="#b3d6e6" />
<circle cx="256.00" cy="302.45" r="1.1" fill="#b3d6e6" />
<circle cx="258.00" cy="302.45" r="1.1" fill="#b3d6e6" />
<circle cx="260.00" cy="302.45" r="1.1" fill="#b3d6e6" />
<circle cx="262.00" cy="302.45" r="1.1" fill="#b3d6e6" />
<circle cx="264.00" cy="302.45" r="1.1" fill="#b3d6e6" />
<circle cx="266.00" cy="302.45" r="1.1" fill="#b3d6e6" />
<circle cx="268.00" cy="302.45" r="1.1" fill="#b3d6e6" />
<circle cx="270.00" cy="302.45" r="1.1" fill="#b3d6e6" />
<circle cx="272.00" cy="302.45" r="1.1" fill="#b3d6e6" />
<circle cx="274.00" cy="302.45" r="1.1" fill="#b3d6e6" />
<circle cx="276.00" cy="302.45" r="1.1" fill="#b3d6e6" />
<circle cx="278.00" cy="302.45" r="1.1" fill="#b3d6e6" />
<circle cx="280.00" cy="302.45" r="1.1" fill="#b3d6e6" />
<circle cx="282.00" cy="302.45" r="1.1" fill="#b3d6e6" />
<circle cx="284.00" cy="302.45" r="1.1" fill="#b3d6e6" />
<circle cx="286.00" cy="302.45" r="1.1" fill="#b3d6e6" />
<circle cx="288.00" cy="302.45" r="1.1" fill="#b3d6e6" />
<circle cx="290.00" cy="302.45" r="1.1" fill="#b3d6e6" />
<circle cx="292.00" cy="302.45" r="1.1" fill="#b3d6e6" />
<circle cx="294.00" cy="302.45" r="1.1" fill="#b3d6e6" />
<circle cx="296.00" cy="302.45" r="1.1" fill="#b3d6e6" />
<circle cx="298.00" cy="302.45" r="1.1" fill="#b3d6e6" />
<circle cx="300.00" cy="302.45" r="1.1" fill="#b3d6e6" />
<circle cx="302.00" cy="302.45" r="1.1" fill="#b3d6e6" />
<circle cx="304.00" cy="302.45" r="1.1" fill="#b3d6e6" />
<circle cx="306.00" cy="302.45" r="1.1" fill="#b3d6e6" />
<circle cx="308.00" cy="302.45" r="1.1" fill="#b3d6e6" />
<circle cx="310.00" cy="302.45" r="1.1" fill="#b3d6e6" />
<circle cx="312.00" cy="302.45" r="1.1" fill="#b3d6e6" />
<circle cx="314.00" cy="302.45" r="1.1" fill="#b3d6e6" />
<circle cx="316.00" cy="302.45" r="1.1" fill="#b3d6e6" />
<circle cx="318.00" cy="302.45" r="1.1" fill="#b3d6e6" />
<circle cx="114.70" cy="302.45" r="1.1" fill="#b3d6e6" />
<circle cx="122.00" cy="302.45" r="1.1" fill="#b3d6e6" />
<circle cx="124.00" cy="302.45" r="1.1" fill="#b3d6e6" />
<circle cx="126.00" cy="302.45" r="1.1" fill="#b3d6e6" />
<circle cx="128.00" cy="302.45" r="1.1" fill="#b3d6e6" />
<circle cx="131.00" cy="302.45" r="1.1" fill="#b3d6e6" />
<circle cx="135.00" cy="302.45" r="1.1" fill="#b3d6e6" />
<circle cx="138.00" cy="302.45" r="1.1" fill="#b3d6e6" />
<circle cx="141.00" cy="302.45" r="1.1" fill="#b3d6e6" />
<circle cx="143.00" cy="302.45" r="1.1" fill="#b3d6e6" />
<circle cx="323.80" cy="302.45" r="1.1" fill="#b3d6e6" />
<circle cx="355.50" cy="302.45" r="1.1" fill="#b3d6e6" />
<circle cx="150.00" cy="295.94" r="1.1" fill="#b3d6e6" />
<circle cx="152.00" cy="295.94" r="1.1" fill="#b3d6e6" />
<circle cx="154.00" cy="295.94" r="1.1" fill="#b3d6e6" />
<circle cx="156.00" cy="295.94" r="1.1" fill="#b3d6e6" />
<circle cx="158.00" cy="295.94" r="1.1" fill="#b3d6e6" />
<circle cx="160.00" cy="295.94" r="1.1" fill="#b3d6e6" />
<circle cx="162.00" cy="295.94" r="1.1" fill="#b3d6e6" />
<circle cx="164.00" cy="295.94" r="1.1" fill="#b3d6e6" />
<circle cx="166.00" cy="295.94" r="1.1" fill="#b3d6e6" />
<circle cx="168.00" cy="295.94" r="1.1" fill="#b3d6e6" />
<circle cx="170.00" cy="295.94" r="1.1" fill="#b3d6e6" />
<circle cx="172.00" cy="295.94" r="1.1" fill="#b3d6e6" />
<circle cx="174.00" cy="295.94" r="1.1" fill="#b3d6e6" />
<circle cx="176.00" cy="295.94" r="1.1" fill="#b3d6e6" />
<circle cx="178.00" cy="295.94" r="1.1" fill="#b3d6e6" />
<circle cx="180.00" cy="295.94" r="1.1" fill="#b3d6e6" />
<circle cx="182.00" cy="295.94" r="1.1" fill="#b3d6e6" />
<circle cx="184.00" cy="295.94" r="1.1" fill="#b3d6e6" />
<circle cx="186.00" cy="295.94" r="1.1" fill="#b3d6e6" />
<circle cx="188.00" cy="295.94" r="1.1" fill="#b3d6e6" />
<circle cx="190.00" cy="295.94" r="1.1" fill="#b3d6e6" />
<circle cx="192.00" cy="295.94" r="1.1" fill="#b3d6e6" />
<circle cx="194.00" cy="295.94" r="1.1" fill="#b3d6e6" />
<circle cx="196.00" cy="295.94" r="1.1" fill="#b3d6e6" />
<circle cx="198.00" cy="295.94" r="1.1" fill="#b3d6e6" />
<circle cx="200.00" cy="295.94" r="1.1" fill="#b3d6e6" />
<circle cx="202.00" cy="295.94" r="1.1" fill="#b3d6e6" />
<circle cx="204.00" cy="295.94" r="1.1" fill="#b3d6e6" />
<circle cx="206.00" cy="295.94" r="1.1" fill="#b3d6e6" />
<circle cx="208.00" cy="295.94" r="1.1" fill="#b3d6e6" />
<circle cx="210.00" cy="295.94" r="1.1" fill="#b3d6e6" />
<circle cx="212.00" cy="295.94" r="1.1" fill="#b3d6e6" />
<circle cx="214.00" cy="295.94" r="1.1" fill="#b3d6e6" />
<circle cx="216.00" cy="295.94" r="1.1" fill="#b3d6e6" />
<circle cx="218.00" cy="295.94" r="1.1" fill="#b3d6e6" />
<circle cx="220.00" cy="295.94" r="1.1" fill="#b3d6e6" />
<circle cx="222.00" cy="295.94" r="1.1" fill="#b3d6e6" />
<circle cx="224.00" cy="295.94" r="1.1" fill="#b3d6e6" />
<circle cx="226.00" cy="295.94" r="1.1" fill="#b3d6e6" />
<circle cx="228.00" cy="295.94" r="1.1" fill="#b3d6e6" />
<circle cx="230.00" cy="295.94" r="1.1" fill="#b3d6e6" />
<circle cx="232.00" cy="295.94" r="1.1" fill="#b3d6e6" />
<circle cx="234.00" cy="295.94" r="1.1" fill="#b3d6e6" />
<circle cx="236.00" cy="295.94" r="1.1" fill="#b3d6e6" />
<circle cx="238.00" cy="295.94" r="1.1" fill="#b3d6e6" />
<circle cx="240.00" cy="295.94" r="1.1" fill="#b3d6e6" />
<circle cx="242.00" cy="295.94" r="1.1" fill="#b3d6e6" />
<circle cx="244.00" cy="295.94" r="1.1" fill="#b3d6e6" />
<circle cx="246.00" cy="295.94" r="1.1" fill="#b3d6e6" />
<circle cx="248.00" cy="295.94" r="1.1" fill="#b3d6e6" />
<circle cx="250.00" cy="295.94" r="1.1" fill="#b3d6e6" />
<circle cx="252.00" cy="295.94" r="1.1" fill="#b3d6e6" />
<circle cx="254.00" cy="295.94" r="1.1" fill="#b3d6e6" />
<circle cx="256.00" cy="295.94" r="1.1" fill="#b3d6e6" />
<circle cx="258.00" cy="295.94" r="1.1" fill="#b3d6e6" />
<circle cx="260.00" cy="295.94" r="1.1" fill="#b3d6e6" />
<circle cx="262.00" cy="295.94" r="1.1" fill="#b3d6e6" />
<circle cx="264.00" cy="295.94" r="1.1" fill="#b3d6e6" />
<circle cx="266.00" cy="295.94" r="1.1" fill="#b3d6e6" />
<circle cx="268.00" cy="295.94" r="1.1" fill="#b3d6e6" />
<circle cx="270.00" cy="295.94" r="1.1" fill="#b3d6e6" />
<circle cx="272.00" cy="295.94" r="1.1" fill="#b3d6e6" />
<circle cx="274.00" cy="295.94" r="1.1" fill="#b3d6e6" />
<circle cx="276.00" cy="295.94" r="1.1" fill="#b3d6e6" />
<circle cx="278.00" cy="295.94" r="1.1" fill="#b3d6e6" />
<circle cx="280.00" cy="295.94" r="1.1" fill="#b3d6e6" />
<circle cx="282.00" cy="295.94" r="1.1" fill="#b3d6e6" />
<circle cx="284.00" cy="295.94" r="1.1" fill="#b3d6e6" />
<circle cx="286.00" cy="295.94" r="1.1" fill="#b3d6e6" />
<circle cx="288.00" cy="295.94" r="1.1" fill="#b3d6e6" />
<circle cx="290.00" cy="295.94" r="1.1" fill="#b3d6e6" />
<circle cx="292.00" cy="295.94" r="1.1" fill="#b3d6e6" />
<circle cx="294.00" cy="295.94" r="1.1" fill="#b3d6e6" />
<circle cx="296.00" cy="295.94" r="1.1" fill="#b3d6e6" />
<circle cx="298.00" cy="295.94" r="1.1" fill="#b3d6e6" />
<circle cx="300.00" cy="295.94" r="1.1" fill="#b3d6e6" />
<circle cx="302.00" cy="295.94" r="1.1" fill="#b3d6e6" />
<circle cx="304.00" cy="295.94" r="1.1" fill="#b3d6e6" />
<circle cx="306.00" cy="295.94" r="1.1" fill="#b3d6e6" />
<circle cx="308.00" cy="295.94" r="1.1" fill="#b3d6e6" />
<circle cx="310.00" cy="295.94" r="1.1" fill="#b3d6e6" />
<circle cx="312.00" cy="295.94" r="1.1" fill="#b3d6e6" />
<circle cx="134.70" cy="295.94" r="1.1" fill="#b3d6e6" />
<circle cx="140.00" cy="295.94" r="1.1" fill="#b3d6e6" />
<circle cx="143.00" cy="295.94" r="1.1" fill="#b3d6e6" />
<circle cx="146.00" cy="295.94" r="1.1" fill="#b3d6e6" />
<circle cx="317.70" cy="295.94" r="1.1" fill="#b3d6e6" />
<circle cx="322.00" cy="295.94" r="1.1" fill="#b3d6e6" />
<circle cx="330.00" cy="295.94" r="1.1" fill="#b3d6e6" />
<circle cx="335.00" cy="295.94" r="1.1" fill="#b3d6e6" />
<circle cx="371.80" cy="295.94" r="1.1" fill="#b3d6e6" />
<circle cx="176.60" cy="289.42" r="1.1" fill="#b3d6e6" />
<circle cx="178.60" cy="289.42" r="1.1" fill="#b3d6e6" />
<circle cx="180.60" cy="289.42" r="1.1" fill="#b3d6e6" />
<circle cx="182.60" cy="289.42" r="1.1" fill="#b3d6e6" />
<circle cx="184.60" cy="289.42" r="1.1" fill="#b3d6e6" />
<circle cx="186.60" cy="289.42" r="1.1" fill="#b3d6e6" />
<circle cx="188.60" cy="289.42" r="1.1" fill="#b3d6e6" />
<circle cx="190.60" cy="289.42" r="1.1" fill="#b3d6e6" />
<circle cx="192.60" cy="289.42" r="1.1" fill="#b3d6e6" />
<circle cx="194.60" cy="289.42" r="1.1" fill="#b3d6e6" />
<circle cx="196.60" cy="289.42" r="1.1" fill="#b3d6e6" />
<circle cx="198.60" cy="289.42" r="1.1" fill="#b3d6e6" />
<circle cx="200.60" cy="289.42" r="1.1" fill="#b3d6e6" />
<circle cx="202.60" cy="289.42" r="1.1" fill="#b3d6e6" />
<circle cx="204.60" cy="289.42" r="1.1" fill="#b3d6e6" />
<circle cx="206.60" cy="289.42" r="1.1" fill="#b3d6e6" />
<circle cx="208.60" cy="289.42" r="1.1" fill="#b3d6e6" />
<circle cx="210.60" cy="289.42" r="1.1" fill="#b3d6e6" />
<circle cx="212.60" cy="289.42" r="1.1" fill="#b3d6e6" />
<circle cx="214.60" cy="289.42" r="1.1" fill="#b3d6e6" />
<circle cx="216.60" cy="289.42" r="1.1" fill="#b3d6e6" />
<circle cx="218.60" cy="289.42" r="1.1" fill="#b3d6e6" />
<circle cx="220.60" cy="289.42" r="1.1" fill="#b3d6e6" />
<circle cx="222.60" cy="289.42" r="1.1" fill="#b3d6e6" />
<circle cx="224.60" cy="289.42" r="1.1" fill="#b3d6e6" />
<circle cx="226.60" cy="289.42" r="1.1" fill="#b3d6e6" />
<circle cx="228.60" cy="289.42" r="1.1" fill="#b3d6e6" />
<circle cx="230.60" cy="289.42" r="1.1" fill="#b3d6e6" />
<circle cx="232.60" cy="289.42" r="1.1" fill="#b3d6e6" />
<circle cx="234.60" cy="289.42" r="1.1" fill="#b3d6e6" />
<circle cx="236.60" cy="289.42" r="1.1" fill="#b3d6e6" />
<circle cx="238.60" cy="289.42" r="1.1" fill="#b3d6e6" />
<circle cx="240.60" cy="289.42" r="1.1" fill="#b3d6e6" />
<circle cx="242.60" cy="289.42" r="1.1" fill="#b3d6e6" />
<circle cx="244.60" cy="289.42" r="1.1" fill="#b3d6e6" />
<circle cx="246.60" cy="289.42" r="1.1" fill="#b3d6e6" />
<circle cx="248.60" cy="289.42" r="1.1" fill="#b3d6e6" />
<circle cx="250.60" cy="289.42" r="1.1" fill="#b3d6e6" />
<circle cx="252.60" cy="289.42" r="1.1" fill="#b3d6e6" />
<circle cx="254.60" cy="289.42" r="1.1" fill="#b3d6e6" />
<circle cx="256.60" cy="289.42" r="1.1" fill="#b3d6e6" />
<circle cx="258.60" cy="289.42" r="1.1" fill="#b3d6e6" />
<circle cx="260.60" cy="289.42" r="1.1" fill="#b3d6e6" />
<circle cx="262.60" cy="289.42" r="1.1" fill="#b3d6e6" />
<circle cx="264.60" cy="289.42" r="1.1" fill="#b3d6e6" />
<circle cx="266.60" cy="289.42" r="1.1" fill="#b3d6e6" />
<circle cx="268.60" cy="289.42" r="1.1" fill="#b3d6e6" />
<circle cx="270.60" cy="289.42" r="1.1" fill="#b3d6e6" />
<circle cx="272.60" cy="289.42" r="1.1" fill="#b3d6e6" />
<circle cx="274.60" cy="289.42" r="1.1" fill="#b3d6e6" />
<circle cx="276.60" cy="289.42" r="1.1" fill="#b3d6e6" />
<circle cx="278.60" cy="289.42" r="1.1" fill="#b3d6e6" />
<circle cx="280.60" cy="289.42" r="1.1" fill="#b3d6e6" />
<circle cx="282.60" cy="289.42" r="1.1" fill="#b3d6e6" />
<circle cx="284.60" cy="289.42" r="1.1" fill="#b3d6e6" />
<circle cx="286.60" cy="289.42" r="1.1" fill="#b3d6e6" />
<circle cx="288.60" cy="289.42" r="1.1" fill="#b3d6e6" />
<circle cx="290.60" cy="289.42" r="1.1" fill="#b3d6e6" />
<circle cx="292.60" cy="289.42" r="1.1" fill="#b3d6e6" />
<circle cx="294.60" cy="289.42" r="1.1" fill="#b3d6e6" />
<circle cx="296.60" cy="289.42" r="1.1" fill="#b3d6e6" />
<circle cx="298.60" cy="289.42" r="1.1" fill="#b3d6e6" />
<circle cx="300.60" cy="289.42" r="1.1" fill="#b3d6e6" />
<circle cx="302.60" cy="289.42" r="1.1" fill="#b3d6e6" />
<circle cx="304.60" cy="289.42" r="1.1" fill="#b3d6e6" />
<circle cx="306.60" cy="289.42" r="1.1" fill="#b3d6e6" />
<circle cx="308.60" cy="289.42" r="1.1" fill="#b3d6e6" />
<circle cx="149.00" cy="289.42" r="1.1" fill="#b3d6e6" />
<circle cx="155.00" cy="289.42" r="1.1" fill="#b3d6e6" />
<circle cx="161.00" cy="289.42" r="1.1" fill="#b3d6e6" />
<circle cx="164.00" cy="289.42" r="1.1" fill="#b3d6e6" />
<circle cx="167.00" cy="289.42" r="1.1" fill="#b3d6e6" />
<circle cx="170.00" cy="289.42" r="1.1" fill="#b3d6e6" />
<circle cx="173.00" cy="289.42" r="1.1" fill="#b3d6e6" />
<circle cx="314.00" cy="289.42" r="1.1" fill="#b3d6e6" />
<circle cx="318.00" cy="289.42" r="1.1" fill="#b3d6e6" />
<circle cx="326.90" cy="289.42" r="1.1" fill="#b3d6e6" />
<circle cx="181.70" cy="282.91" r="1.1" fill="#b3d6e6" />
<circle cx="183.70" cy="282.91" r="1.1" fill="#b3d6e6" />
<circle cx="185.70" cy="282.91" r="1.1" fill="#b3d6e6" />
<circle cx="187.70" cy="282.91" r="1.1" fill="#b3d6e6" />
<circle cx="189.70" cy="282.91" r="1.1" fill="#b3d6e6" />
<circle cx="191.70" cy="282.91" r="1.1" fill="#b3d6e6" />
<circle cx="193.70" cy="282.91" r="1.1" fill="#b3d6e6" />
<circle cx="195.70" cy="282.91" r="1.1" fill="#b3d6e6" />
<circle cx="197.70" cy="282.91" r="1.1" fill="#b3d6e6" />
<circle cx="199.70" cy="282.91" r="1.1" fill="#b3d6e6" />
<circle cx="201.70" cy="282.91" r="1.1" fill="#b3d6e6" />
<circle cx="203.70" cy="282.91" r="1.1" fill="#b3d6e6" />
<circle cx="205.70" cy="282.91" r="1.1" fill="#b3d6e6" />
<circle cx="207.70" cy="282.91" r="1.1" fill="#b3d6e6" />
<circle cx="209.70" cy="282.91" r="1.1" fill="#b3d6e6" />
<circle cx="211.70" cy="282.91" r="1.1" fill="#b3d6e6" />
<circle cx="213.70" cy="282.91" r="1.1" fill="#b3d6e6" />
<circle cx="215.70" cy="282.91" r="1.1" fill="#b3d6e6" />
<circle cx="217.70" cy="282.91" r="1.1" fill="#b3d6e6" />
<circle cx="219.70" cy="282.91" r="1.1" fill="#b3d6e6" />
<circle cx="221.70" cy="282.91" r="1.1" fill="#b3d6e6" />
<circle cx="223.70" cy="282.91" r="1.1" fill="#b3d6e6" />
<circle cx="225.70" cy="282.91" r="1.1" fill="#b3d6e6" />
<circle cx="227.70" cy="282.91" r="1.1" fill="#b3d6e6" />
<circle cx="229.70" cy="282.91" r="1.1" fill="#b3d6e6" />
<circle cx="231.70" cy="282.91" r="1.1" fill="#b3d6e6" />
<circle cx="233.70" cy="282.91" r="1.1" fill="#b3d6e6" />
<circle cx="235.70" cy="282.91" r="1.1" fill="#b3d6e6" />
<circle cx="237.70" cy="282.91" r="1.1" fill="#b3d6e6" />
<circle cx="239.70" cy="282.91" r="1.1" fill="#b3d6e6" />
<circle cx="241.70" cy="282.91" r="1.1" fill="#b3d6e6" />
<circle cx="243.70" cy="282.91" r="1.1" fill="#b3d6e6" />
<circle cx="245.70" cy="282.91" r="1.1" fill="#b3d6e6" />
<circle cx="247.70" cy="282.91" r="1.1" fill="#b3d6e6" />
<circle cx="249.70" cy="282.91" r="1.1" fill="#b3d6e6" />
<circle cx="251.70" cy="282.91" r="1.1" fill="#b3d6e6" />
<circle cx="253.70" cy="282.91" r="1.1" fill="#b3d6e6" />
<circle cx="255.70" cy="282.91" r="1.1" fill="#b3d6e6" />
<circle cx="257.70" cy="282.91" r="1.1" fill="#b3d6e6" />
<circle cx="259.70" cy="282.91" r="1.1" fill="#b3d6e6" />
<circle cx="261.70" cy="282.91" r="1.1" fill="#b3d6e6" />
<circle cx="263.70" cy="282.91" r="1.1" fill="#b3d6e6" />
<circle cx="265.70" cy="282.91" r="1.1" fill="#b3d6e6" />
<circle cx="267.70" cy="282.91" r="1.1" fill="#b3d6e6" />
<circle cx="269.70" cy="282.91" r="1.1" fill="#b3d6e6" />
<circle cx="271.70" cy="282.91" r="1.1" fill="#b3d6e6" />
<circle cx="273.70" cy="282.91" r="1.1" fill="#b3d6e6" />
<circle cx="275.70" cy="282.91" r="1.1" fill="#b3d6e6" />
<circle cx="277.70" cy="282.91" r="1.1" fill="#b3d6e6" />
<circle cx="279.70" cy="282.91" r="1.1" fill="#b3d6e6" />
<circle cx="281.70" cy="282.91" r="1.1" fill="#b3d6e6" />
<circle cx="283.70" cy="282.91" r="1.1" fill="#b3d6e6" />
<circle cx="169.50" cy="282.91" r="1.1" fill="#b3d6e6" />
<circle cx="173.00" cy="282.91" r="1.1" fill="#b3d6e6" />
<circle cx="176.00" cy="282.91" r="1.1" fill="#b3d6e6" />
<circle cx="179.00" cy="282.91" r="1.1" fill="#b3d6e6" />
<circle cx="289.00" cy="282.91" r="1.1" fill="#b3d6e6" />
<circle cx="292.00" cy="282.91" r="1.1" fill="#b3d6e6" />
<circle cx="295.00" cy="282.91" r="1.1" fill="#b3d6e6" />
<circle cx="300.00" cy="282.91" r="1.1" fill="#b3d6e6" />
<circle cx="305.00" cy="282.91" r="1.1" fill="#b3d6e6" />
<circle cx="310.00" cy="282.91" r="1.1" fill="#b3d6e6" />
<circle cx="318.00" cy="282.91" r="1.1" fill="#b3d6e6" />
<circle cx="324.00" cy="282.91" r="1.1" fill="#b3d6e6" />
<circle cx="331.00" cy="282.91" r="1.1" fill="#b3d6e6" />
<circle cx="182.80" cy="276.39" r="1.1" fill="#b3d6e6" />
<circle cx="184.80" cy="276.39" r="1.1" fill="#b3d6e6" />
<circle cx="186.80" cy="276.39" r="1.1" fill="#b3d6e6" />
<circle cx="188.80" cy="276.39" r="1.1" fill="#b3d6e6" />
<circle cx="190.80" cy="276.39" r="1.1" fill="#b3d6e6" />
<circle cx="192.80" cy="276.39" r="1.1" fill="#b3d6e6" />
<circle cx="194.80" cy="276.39" r="1.1" fill="#b3d6e6" />
<circle cx="196.80" cy="276.39" r="1.1" fill="#b3d6e6" />
<circle cx="198.80" cy="276.39" r="1.1" fill="#b3d6e6" />
<circle cx="200.80" cy="276.39" r="1.1" fill="#b3d6e6" />
<circle cx="202.80" cy="276.39" r="1.1" fill="#b3d6e6" />
<circle cx="204.80" cy="276.39" r="1.1" fill="#b3d6e6" />
<circle cx="206.80" cy="276.39" r="1.1" fill="#b3d6e6" />
<circle cx="208.80" cy="276.39" r="1.1" fill="#b3d6e6" />
<circle cx="210.80" cy="276.39" r="1.1" fill="#b3d6e6" />
<circle cx="212.80" cy="276.39" r="1.1" fill="#b3d6e6" />
<circle cx="214.80" cy="276.39" r="1.1" fill="#b3d6e6" />
<circle cx="216.80" cy="276.39" r="1.1" fill="#b3d6e6" />
<circle cx="218.80" cy="276.39" r="1.1" fill="#b3d6e6" />
<circle cx="220.80" cy="276.39" r="1.1" fill="#b3d6e6" />
<circle cx="222.80" cy="276.39" r="1.1" fill="#b3d6e6" />
<circle cx="224.80" cy="276.39" r="1.1" fill="#b3d6e6" />
<circle cx="226.80" cy="276.39" r="1.1" fill="#b3d6e6" />
<circle cx="228.80" cy="276.39" r="1.1" fill="#b3d6e6" />
<circle cx="230.80" cy="276.39" r="1.1" fill="#b3d6e6" />
<circle cx="232.80" cy="276.39" r="1.1" fill="#b3d6e6" />
<circle cx="234.80" cy="276.39" r="1.1" fill="#b3d6e6" />
<circle cx="236.80" cy="276.39" r="1.1" fill="#b3d6e6" />
<circle cx="238.80" cy="276.39" r="1.1" fill="#b3d6e6" />
<circle cx="240.80" cy="276.39" r="1.1" fill="#b3d6e6" />
<circle cx="242.80" cy="276.39" r="1.1" fill="#b3d6e6" />
<circle cx="244.80" cy="276.39" r="1.1" fill="#b3d6e6" />
<circle cx="246.80" cy="276.39" r="1.1" fill="#b3d6e6" />
<circle cx="248.80" cy="276.39" r="1.1" fill="#b3d6e6" />
<circle cx="250.80" cy="276.39" r="1.1" fill="#b3d6e6" />
<circle cx="252.80" cy="276.39" r="1.1" fill="#b3d6e6" />
<circle cx="254.80" cy="276.39" r="1.1" fill="#b3d6e6" />
<circle cx="256.80" cy="276.39" r="1.1" fill="#b3d6e6" />
<circle cx="258.80" cy="276.39" r="1.1" fill="#b3d6e6" />
<circle cx="260.80" cy="276.39" r="1.1" fill="#b3d6e6" />
<circle cx="262.80" cy="276.39" r="1.1" fill="#b3d6e6" />
<circle cx="264.80" cy="276.39" r="1.1" fill="#b3d6e6" />
<circle cx="266.80" cy="276.39" r="1.1" fill="#b3d6e6" />
<circle cx="268.80" cy="276.39" r="1.1" fill="#b3d6e6" />
<circle cx="270.80" cy="276.39" r="1.1" fill="#b3d6e6" />
<circle cx="272.80" cy="276.39" r="1.1" fill="#b3d6e6" />
<circle cx="274.80" cy="276.39" r="1.1" fill="#b3d6e6" />
<circle cx="276.80" cy="276.39" r="1.1" fill="#b3d6e6" />
<circle cx="278.80" cy="276.39" r="1.1" fill="#b3d6e6" />
<circle cx="280.80" cy="276.39" r="1.1" fill="#b3d6e6" />
<circle cx="282.80" cy="276.39" r="1.1" fill="#b3d6e6" />
<circle cx="284.80" cy="276.39" r="1.1" fill="#b3d6e6" />
<circle cx="286.80" cy="276.39" r="1.1" fill="#b3d6e6" />
<circle cx="288.80" cy="276.39" r="1.1" fill="#b3d6e6" />
<circle cx="290.80" cy="276.39" r="1.1" fill="#b3d6e6" />
<circle cx="161.30" cy="276.39" r="1.1" fill="#b3d6e6" />
<circle cx="165.00" cy="276.39" r="1.1" fill="#b3d6e6" />
<circle cx="168.00" cy="276.39" r="1.1" fill="#b3d6e6" />
<circle cx="172.00" cy="276.39" r="1.1" fill="#b3d6e6" />
<circle cx="178.00" cy="276.39" r="1.1" fill="#b3d6e6" />
<circle cx="294.00" cy="276.39" r="1.1" fill="#b3d6e6" />
<circle cx="298.00" cy="276.39" r="1.1" fill="#b3d6e6" />
<circle cx="303.00" cy="276.39" r="1.1" fill="#b3d6e6" />
<circle cx="308.00" cy="276.39" r="1.1" fill="#b3d6e6" />
<circle cx="315.00" cy="276.39" r="1.1" fill="#b3d6e6" />
<circle cx="322.00" cy="276.39" r="1.1" fill="#b3d6e6" />
<circle cx="330.00" cy="276.39" r="1.1" fill="#b3d6e6" />
<circle cx="340.00" cy="276.39" r="1.1" fill="#b3d6e6" />
<circle cx="352.00" cy="276.39" r="1.1" fill="#b3d6e6" />
<circle cx="190.00" cy="269.88" r="1.1" fill="#b3d6e6" />
<circle cx="192.00" cy="269.88" r="1.1" fill="#b3d6e6" />
<circle cx="194.00" cy="269.88" r="1.1" fill="#b3d6e6" />
<circle cx="196.00" cy="269.88" r="1.1" fill="#b3d6e6" />
<circle cx="198.00" cy="269.88" r="1.1" fill="#b3d6e6" />
<circle cx="200.00" cy="269.88" r="1.1" fill="#b3d6e6" />
<circle cx="202.00" cy="269.88" r="1.1" fill="#b3d6e6" />
<circle cx="204.00" cy="269.88" r="1.1" fill="#b3d6e6" />
<circle cx="206.00" cy="269.88" r="1.1" fill="#b3d6e6" />
<circle cx="208.00" cy="269.88" r="1.1" fill="#b3d6e6" />
<circle cx="210.00" cy="269.88" r="1.1" fill="#b3d6e6" />
<circle cx="212.00" cy="269.88" r="1.1" fill="#b3d6e6" />
<circle cx="214.00" cy="269.88" r="1.1" fill="#b3d6e6" />
<circle cx="216.00" cy="269.88" r="1.1" fill="#b3d6e6" />
<circle cx="218.00" cy="269.88" r="1.1" fill="#b3d6e6" />
<circle cx="220.00" cy="269.88" r="1.1" fill="#b3d6e6" />
<circle cx="222.00" cy="269.88" r="1.1" fill="#b3d6e6" />
<circle cx="224.00" cy="269.88" r="1.1" fill="#b3d6e6" />
<circle cx="226.00" cy="269.88" r="1.1" fill="#b3d6e6" />
<circle cx="228.00" cy="269.88" r="1.1" fill="#b3d6e6" />
<circle cx="230.00" cy="269.88" r="1.1" fill="#b3d6e6" />
<circle cx="232.00" cy="269.88" r="1.1" fill="#b3d6e6" />
<circle cx="234.00" cy="269.88" r="1.1" fill="#b3d6e6" />
<circle cx="236.00" cy="269.88" r="1.1" fill="#b3d6e6" />
<circle cx="238.00" cy="269.88" r="1.1" fill="#b3d6e6" />
<circle cx="240.00" cy="269.88" r="1.1" fill="#b3d6e6" />
<circle cx="242.00" cy="269.88" r="1.1" fill="#b3d6e6" />
<circle cx="244.00" cy="269.88" r="1.1" fill="#b3d6e6" />
<circle cx="246.00" cy="269.88" r="1.1" fill="#b3d6e6" />
<circle cx="248.00" cy="269.88" r="1.1" fill="#b3d6e6" />
<circle cx="250.00" cy="269.88" r="1.1" fill="#b3d6e6" />
<circle cx="252.00" cy="269.88" r="1.1" fill="#b3d6e6" />
<circle cx="254.00" cy="269.88" r="1.1" fill="#b3d6e6" />
<circle cx="256.00" cy="269.88" r="1.1" fill="#b3d6e6" />
<circle cx="258.00" cy="269.88" r="1.1" fill="#b3d6e6" />
<circle cx="260.00" cy="269.88" r="1.1" fill="#b3d6e6" />
<circle cx="262.00" cy="269.88" r="1.1" fill="#b3d6e6" />
<circle cx="264.00" cy="269.88" r="1.1" fill="#b3d6e6" />
<circle cx="266.00" cy="269.88" r="1.1" fill="#b3d6e6" />
<circle cx="268.00" cy="269.88" r="1.1" fill="#b3d6e6" />
<circle cx="270.00" cy="269.88" r="1.1" fill="#b3d6e6" />
<circle cx="272.00" cy="269.88" r="1.1" fill="#b3d6e6" />
<circle cx="274.00" cy="269.88" r="1.1" fill="#b3d6e6" />
<circle cx="276.00" cy="269.88" r="1.1" fill="#b3d6e6" />
<circle cx="278.00" cy="269.88" r="1.1" fill="#b3d6e6" />
<circle cx="280.00" cy="269.88" r="1.1" fill="#b3d6e6" />
<circle cx="282.00" cy="269.88" r="1.1" fill="#b3d6e6" />
<circle cx="284.00" cy="269.88" r="1.1" fill="#b3d6e6" />
<circle cx="286.00" cy="269.88" r="1.1" fill="#b3d6e6" />
<circle cx="288.00" cy="269.88" r="1.1" fill="#b3d6e6" />
<circle cx="290.00" cy="269.88" r="1.1" fill="#b3d6e6" />
<circle cx="170.50" cy="269.88" r="1.1" fill="#b3d6e6" />
<circle cx="181.00" cy="269.88" r="1.1" fill="#b3d6e6" />
<circle cx="184.00" cy="269.88" r="1.1" fill="#b3d6e6" />
<circle cx="294.00" cy="269.88" r="1.1" fill="#b3d6e6" />
<circle cx="298.00" cy="269.88" r="1.1" fill="#b3d6e6" />
<circle cx="302.00" cy="269.88" r="1.1" fill="#b3d6e6" />
<circle cx="307.00" cy="269.88" r="1.1" fill="#b3d6e6" />
<circle cx="312.00" cy="269.88" r="1.1" fill="#b3d6e6" />
<circle cx="318.00" cy="269.88" r="1.1" fill="#b3d6e6" />
<circle cx="324.80" cy="269.88" r="1.1" fill="#b3d6e6" />
<circle cx="197.00" cy="263.37" r="1.1" fill="#b3d6e6" />
<circle cx="199.00" cy="263.37" r="1.1" fill="#b3d6e6" />
<circle cx="201.00" cy="263.37" r="1.1" fill="#b3d6e6" />
<circle cx="203.00" cy="263.37" r="1.1" fill="#b3d6e6" />
<circle cx="205.00" cy="263.37" r="1.1" fill="#b3d6e6" />
<circle cx="207.00" cy="263.37" r="1.1" fill="#b3d6e6" />
<circle cx="209.00" cy="263.37" r="1.1" fill="#b3d6e6" />
<circle cx="211.00" cy="263.37" r="1.1" fill="#b3d6e6" />
<circle cx="213.00" cy="263.37" r="1.1" fill="#b3d6e6" />
<circle cx="215.00" cy="263.37" r="1.1" fill="#b3d6e6" />
<circle cx="217.00" cy="263.37" r="1.1" fill="#b3d6e6" />
<circle cx="219.00" cy="263.37" r="1.1" fill="#b3d6e6" />
<circle cx="221.00" cy="263.37" r="1.1" fill="#b3d6e6" />
<circle cx="223.00" cy="263.37" r="1.1" fill="#b3d6e6" />
<circle cx="225.00" cy="263.37" r="1.1" fill="#b3d6e6" />
<circle cx="227.00" cy="263.37" r="1.1" fill="#b3d6e6" />
<circle cx="229.00" cy="263.37" r="1.1" fill="#b3d6e6" />
<circle cx="231.00" cy="263.37" r="1.1" fill="#b3d6e6" />
<circle cx="233.00" cy="263.37" r="1.1" fill="#b3d6e6" />
<circle cx="235.00" cy="263.37" r="1.1" fill="#b3d6e6" />
<circle cx="237.00" cy="263.37" r="1.1" fill="#b3d6e6" />
<circle cx="239.00" cy="263.37" r="1.1" fill="#b3d6e6" />
<circle cx="241.00" cy="263.37" r="1.1" fill="#b3d6e6" />
<circle cx="243.00" cy="263.37" r="1.1" fill="#b3d6e6" />
<circle cx="245.00" cy="263.37" r="1.1" fill="#b3d6e6" />
<circle cx="247.00" cy="263.37" r="1.1" fill="#b3d6e6" />
<circle cx="249.00" cy="263.37" r="1.1" fill="#b3d6e6" />
<circle cx="251.00" cy="263.37" r="1.1" fill="#b3d6e6" />
<circle cx="253.00" cy="263.37" r="1.1" fill="#b3d6e6" />
<circle cx="255.00" cy="263.37" r="1.1" fill="#b3d6e6" />
<circle cx="257.00" cy="263.37" r="1.1" fill="#b3d6e6" />
<circle cx="259.00" cy="263.37" r="1.1" fill="#b3d6e6" />
<circle cx="261.00" cy="263.37" r="1.1" fill="#b3d6e6" />
<circle cx="263.00" cy="263.37" r="1.1" fill="#b3d6e6" />
<circle cx="265.00" cy="263.37" r="1.1" fill="#b3d6e6" />
<circle cx="267.00" cy="263.37" r="1.1" fill="#b3d6e6" />
<circle cx="269.00" cy="263.37" r="1.1" fill="#b3d6e6" />
<circle cx="271.00" cy="263.37" r="1.1" fill="#b3d6e6" />
<circle cx="273.00" cy="263.37" r="1.1" fill="#b3d6e6" />
<circle cx="275.00" cy="263.37" r="1.1" fill="#b3d6e6" />
<circle cx="277.00" cy="263.37" r="1.1" fill="#b3d6e6" />
<circle cx="279.00" cy="263.37" r="1.1" fill="#b3d6e6" />
<circle cx="281.00" cy="263.37" r="1.1" fill="#b3d6e6" />
<circle cx="283.00" cy="263.37" r="1.1" fill="#b3d6e6" />
<circle cx="285.00" cy="263.37" r="1.1" fill="#b3d6e6" />
<circle cx="287.00" cy="263.37" r="1.1" fill="#b3d6e6" />
<circle cx="289.00" cy="263.37" r="1.1" fill="#b3d6e6" />
<circle cx="291.00" cy="263.37" r="1.1" fill="#b3d6e6" />
<circle cx="177.00" cy="263.37" r="1.1" fill="#b3d6e6" />
<circle cx="184.00" cy="263.37" r="1.1" fill="#b3d6e6" />
<circle cx="189.00" cy="263.37" r="1.1" fill="#b3d6e6" />
<circle cx="193.00" cy="263.37" r="1.1" fill="#b3d6e6" />
<circle cx="295.00" cy="263.37" r="1.1" fill="#b3d6e6" />
<circle cx="300.00" cy="263.37" r="1.1" fill="#b3d6e6" />
<circle cx="305.00" cy="263.37" r="1.1" fill="#b3d6e6" />
<circle cx="310.00" cy="263.37" r="1.1" fill="#b3d6e6" />
<circle cx="318.00" cy="263.37" r="1.1" fill="#b3d6e6" />
<circle cx="325.00" cy="263.37" r="1.1" fill="#b3d6e6" />
<circle cx="332.40" cy="263.37" r="1.1" fill="#b3d6e6" />
<circle cx="210.00" cy="256.85" r="1.1" fill="#b3d6e6" />
<circle cx="212.00" cy="256.85" r="1.1" fill="#b3d6e6" />
<circle cx="214.00" cy="256.85" r="1.1" fill="#b3d6e6" />
<circle cx="216.00" cy="256.85" r="1.1" fill="#b3d6e6" />
<circle cx="218.00" cy="256.85" r="1.1" fill="#b3d6e6" />
<circle cx="220.00" cy="256.85" r="1.1" fill="#b3d6e6" />
<circle cx="222.00" cy="256.85" r="1.1" fill="#b3d6e6" />
<circle cx="224.00" cy="256.85" r="1.1" fill="#b3d6e6" />
<circle cx="226.00" cy="256.85" r="1.1" fill="#b3d6e6" />
<circle cx="228.00" cy="256.85" r="1.1" fill="#b3d6e6" />
<circle cx="230.00" cy="256.85" r="1.1" fill="#b3d6e6" />
<circle cx="232.00" cy="256.85" r="1.1" fill="#b3d6e6" />
<circle cx="234.00" cy="256.85" r="1.1" fill="#b3d6e6" />
<circle cx="236.00" cy="256.85" r="1.1" fill="#b3d6e6" />
<circle cx="238.00" cy="256.85" r="1.1" fill="#b3d6e6" />
<circle cx="240.00" cy="256.85" r="1.1" fill="#b3d6e6" />
<circle cx="242.00" cy="256.85" r="1.1" fill="#b3d6e6" />
<circle cx="244.00" cy="256.85" r="1.1" fill="#b3d6e6" />
<circle cx="246.00" cy="256.85" r="1.1" fill="#b3d6e6" />
<circle cx="248.00" cy="256.85" r="1.1" fill="#b3d6e6" />
<circle cx="250.00" cy="256.85" r="1.1" fill="#b3d6e6" />
<circle cx="252.00" cy="256.85" r="1.1" fill="#b3d6e6" />
<circle cx="254.00" cy="256.85" r="1.1" fill="#b3d6e6" />
<circle cx="256.00" cy="256.85" r="1.1" fill="#b3d6e6" />
<circle cx="258.00" cy="256.85" r="1.1" fill="#b3d6e6" />
<circle cx="260.00" cy="256.85" r="1.1" fill="#b3d6e6" />
<circle cx="262.00" cy="256.85" r="1.1" fill="#b3d6e6" />
<circle cx="264.00" cy="256.85" r="1.1" fill="#b3d6e6" />
<circle cx="191.00" cy="256.85" r="1.1" fill="#b3d6e6" />
<circle cx="194.00" cy="256.85" r="1.1" fill="#b3d6e6" />
<circle cx="201.00" cy="256.85" r="1.1" fill="#b3d6e6" />
<circle cx="204.00" cy="256.85" r="1.1" fill="#b3d6e6" />
<circle cx="206.00" cy="256.85" r="1.1" fill="#b3d6e6" />
<circle cx="268.00" cy="256.85" r="1.1" fill="#b3d6e6" />
<circle cx="272.00" cy="256.85" r="1.1" fill="#b3d6e6" />
<circle cx="276.00" cy="256.85" r="1.1" fill="#b3d6e6" />
<circle cx="281.00" cy="256.85" r="1.1" fill="#b3d6e6" />
<circle cx="287.00" cy="256.85" r="1.1" fill="#b3d6e6" />
<circle cx="293.00" cy="256.85" r="1.1" fill="#b3d6e6" />
<circle cx="300.00" cy="256.85" r="1.1" fill="#b3d6e6" />
<circle cx="308.00" cy="256.85" r="1.1" fill="#b3d6e6" />
<circle cx="321.70" cy="256.85" r="1.1" fill="#b3d6e6" />
<circle cx="196.00" cy="250.34" r="1.1" fill="#b3d6e6" />
<circle cx="198.00" cy="250.34" r="1.1" fill="#b3d6e6" />
<circle cx="200.00" cy="250.34" r="1.1" fill="#b3d6e6" />
<circle cx="202.00" cy="250.34" r="1.1" fill="#b3d6e6" />
<circle cx="204.00" cy="250.34" r="1.1" fill="#b3d6e6" />
<circle cx="206.00" cy="250.34" r="1.1" fill="#b3d6e6" />
<circle cx="208.00" cy="250.34" r="1.1" fill="#b3d6e6" />
<circle cx="210.00" cy="250.34" r="1.1" fill="#b3d6e6" />
<circle cx="212.00" cy="250.34" r="1.1" fill="#b3d6e6" />
<circle cx="214.00" cy="250.34" r="1.1" fill="#b3d6e6" />
<circle cx="216.00" cy="250.34" r="1.1" fill="#b3d6e6" />
<circle cx="218.00" cy="250.34" r="1.1" fill="#b3d6e6" />
<circle cx="220.00" cy="250.34" r="1.1" fill="#b3d6e6" />
<circle cx="222.00" cy="250.34" r="1.1" fill="#b3d6e6" />
<circle cx="224.00" cy="250.34" r="1.1" fill="#b3d6e6" />
<circle cx="226.00" cy="250.34" r="1.1" fill="#b3d6e6" />
<circle cx="228.00" cy="250.34" r="1.1" fill="#b3d6e6" />
<circle cx="230.00" cy="250.34" r="1.1" fill="#b3d6e6" />
<circle cx="232.00" cy="250.34" r="1.1" fill="#b3d6e6" />
<circle cx="234.00" cy="250.34" r="1.1" fill="#b3d6e6" />
<circle cx="236.00" cy="250.34" r="1.1" fill="#b3d6e6" />
<circle cx="238.00" cy="250.34" r="1.1" fill="#b3d6e6" />
<circle cx="240.00" cy="250.34" r="1.1" fill="#b3d6e6" />
<circle cx="242.00" cy="250.34" r="1.1" fill="#b3d6e6" />
<circle cx="244.00" cy="250.34" r="1.1" fill="#b3d6e6" />
<circle cx="246.00" cy="250.34" r="1.1" fill="#b3d6e6" />
<circle cx="248.00" cy="250.34" r="1.1" fill="#b3d6e6" />
<circle cx="250.00" cy="250.34" r="1.1" fill="#b3d6e6" />
<circle cx="252.00" cy="250.34" r="1.1" fill="#b3d6e6" />
<circle cx="254.00" cy="250.34" r="1.1" fill="#b3d6e6" />
<circle cx="256.00" cy="250.34" r="1.1" fill="#b3d6e6" />
<circle cx="258.00" cy="250.34" r="1.1" fill="#b3d6e6" />
<circle cx="260.00" cy="250.34" r="1.1" fill="#b3d6e6" />
<circle cx="262.00" cy="250.34" r="1.1" fill="#b3d6e6" />
<circle cx="264.00" cy="250.34" r="1.1" fill="#b3d6e6" />
<circle cx="266.00" cy="250.34" r="1.1" fill="#b3d6e6" />
<circle cx="268.00" cy="250.34" r="1.1" fill="#b3d6e6" />
<circle cx="270.00" cy="250.34" r="1.1" fill="#b3d6e6" />
<circle cx="272.00" cy="250.34" r="1.1" fill="#b3d6e6" />
<circle cx="274.00" cy="250.34" r="1.1" fill="#b3d6e6" />
<circle cx="276.00" cy="250.34" r="1.1" fill="#b3d6e6" />
<circle cx="168.50" cy="250.34" r="1.1" fill="#b3d6e6" />
<circle cx="188.00" cy="250.34" r="1.1" fill="#b3d6e6" />
<circle cx="191.00" cy="250.34" r="1.1" fill="#b3d6e6" />
<circle cx="280.00" cy="250.34" r="1.1" fill="#b3d6e6" />
<circle cx="284.00" cy="250.34" r="1.1" fill="#b3d6e6" />
<circle cx="289.00" cy="250.34" r="1.1" fill="#b3d6e6" />
<circle cx="295.00" cy="250.34" r="1.1" fill="#b3d6e6" />
<circle cx="300.00" cy="250.34" r="1.1" fill="#b3d6e6" />
<circle cx="310.00" cy="250.34" r="1.1" fill="#b3d6e6" />
<circle cx="318.00" cy="250.34" r="1.1" fill="#b3d6e6" />
<circle cx="331.00" cy="250.34" r="1.1" fill="#b3d6e6" />
<circle cx="205.00" cy="243.82" r="1.1" fill="#b3d6e6" />
<circle cx="207.60" cy="243.82" r="1.1" fill="#b3d6e6" />
<circle cx="212.80" cy="243.82" r="1.1" fill="#b3d6e6" />
<circle cx="218.00" cy="243.82" r="1.1" fill="#b3d6e6" />
<circle cx="220.60" cy="243.82" r="1.1" fill="#b3d6e6" />
<circle cx="225.80" cy="243.82" r="1.1" fill="#b3d6e6" />
<circle cx="228.40" cy="243.82" r="1.1" fill="#b3d6e6" />
<circle cx="231.00" cy="243.82" r="1.1" fill="#b3d6e6" />
<circle cx="233.60" cy="243.82" r="1.1" fill="#b3d6e6" />
<circle cx="241.40" cy="243.82" r="1.1" fill="#b3d6e6" />
<circle cx="246.60" cy="243.82" r="1.1" fill="#b3d6e6" />
<circle cx="251.80" cy="243.82" r="1.1" fill="#b3d6e6" />
<circle cx="254.40" cy="243.82" r="1.1" fill="#b3d6e6" />
<circle cx="259.60" cy="243.82" r="1.1" fill="#b3d6e6" />
<circle cx="253.97" cy="243.82" r="1.1" fill="#b3d6e6" />
<circle cx="308.95" cy="243.82" r="1.1" fill="#b3d6e6" />
<circle cx="282.27" cy="243.82" r="1.1" fill="#b3d6e6" />
<circle cx="213.64" cy="243.82" r="1.1" fill="#b3d6e6" />
<circle cx="310.53" cy="243.82" r="1.1" fill="#b3d6e6" />
<circle cx="250.68" cy="243.82" r="1.1" fill="#b3d6e6" />
<circle cx="183.61" cy="243.82" r="1.1" fill="#b3d6e6" />
<circle cx="180.52" cy="243.82" r="1.1" fill="#b3d6e6" />
<circle cx="251.49" cy="243.82" r="1.1" fill="#b3d6e6" />
<circle cx="245.54" cy="243.82" r="1.1" fill="#b3d6e6" />
<circle cx="223.90" cy="243.82" r="1.1" fill="#b3d6e6" />
<circle cx="200.46" cy="243.82" r="1.1" fill="#b3d6e6" />
<circle cx="230.01" cy="243.82" r="1.1" fill="#b3d6e6" />
<circle cx="225.96" cy="243.82" r="1.1" fill="#b3d6e6" />
<circle cx="302.17" cy="243.82" r="1.1" fill="#b3d6e6" />
<circle cx="180.25" cy="243.82" r="1.1" fill="#b3d6e6" />
<circle cx="180.00" cy="243.82" r="1.1" fill="#b3d6e6" />
<circle cx="194.00" cy="243.82" r="1.1" fill="#b3d6e6" />
<circle cx="197.00" cy="243.82" r="1.1" fill="#b3d6e6" />
<circle cx="325.40" cy="243.82" r="1.1" fill="#b3d6e6" />
<circle cx="216.60" cy="237.31" r="1.1" fill="#b3d6e6" />
<circle cx="219.20" cy="237.31" r="1.1" fill="#b3d6e6" />
<circle cx="224.40" cy="237.31" r="1.1" fill="#b3d6e6" />
<circle cx="227.00" cy="237.31" r="1.1" fill="#b3d6e6" />
<circle cx="229.60" cy="237.31" r="1.1" fill="#b3d6e6" />
<circle cx="234.80" cy="237.31" r="1.1" fill="#b3d6e6" />
<circle cx="237.40" cy="237.31" r="1.1" fill="#b3d6e6" />
<circle cx="240.00" cy="237.31" r="1.1" fill="#b3d6e6" />
<circle cx="245.00" cy="237.31" r="1.1" fill="#b3d6e6" />
<circle cx="247.60" cy="237.31" r="1.1" fill="#b3d6e6" />
<circle cx="250.20" cy="237.31" r="1.1" fill="#b3d6e6" />
<circle cx="260.60" cy="237.31" r="1.1" fill="#b3d6e6" />
<circle cx="265.80" cy="237.31" r="1.1" fill="#b3d6e6" />
<circle cx="260.71" cy="237.31" r="1.1" fill="#b3d6e6" />
<circle cx="222.43" cy="237.31" r="1.1" fill="#b3d6e6" />
<circle cx="244.30" cy="237.31" r="1.1" fill="#b3d6e6" />
<circle cx="313.77" cy="237.31" r="1.1" fill="#b3d6e6" />
<circle cx="305.20" cy="237.31" r="1.1" fill="#b3d6e6" />
<circle cx="296.59" cy="237.31" r="1.1" fill="#b3d6e6" />
<circle cx="275.00" cy="237.31" r="1.1" fill="#b3d6e6" />
<circle cx="308.68" cy="237.31" r="1.1" fill="#b3d6e6" />
<circle cx="311.93" cy="237.31" r="1.1" fill="#b3d6e6" />
<circle cx="265.27" cy="237.31" r="1.1" fill="#b3d6e6" />
<circle cx="285.57" cy="237.31" r="1.1" fill="#b3d6e6" />
<circle cx="205.70" cy="237.31" r="1.1" fill="#b3d6e6" />
<circle cx="287.10" cy="237.31" r="1.1" fill="#b3d6e6" />
<circle cx="253.54" cy="237.31" r="1.1" fill="#b3d6e6" />
<circle cx="199.80" cy="237.31" r="1.1" fill="#b3d6e6" />
<circle cx="319.00" cy="237.31" r="1.1" fill="#b3d6e6" />
<circle cx="205.00" cy="230.80" r="1.1" fill="#b3d6e6" />
<circle cx="207.60" cy="230.80" r="1.1" fill="#b3d6e6" />
<circle cx="215.40" cy="230.80" r="1.1" fill="#b3d6e6" />
<circle cx="220.60" cy="230.80" r="1.1" fill="#b3d6e6" />
<circle cx="223.20" cy="230.80" r="1.1" fill="#b3d6e6" />
<circle cx="228.40" cy="230.80" r="1.1" fill="#b3d6e6" />
<circle cx="236.00" cy="230.80" r="1.1" fill="#b3d6e6" />
<circle cx="241.20" cy="230.80" r="1.1" fill="#b3d6e6" />
<circle cx="243.80" cy="230.80" r="1.1" fill="#b3d6e6" />
<circle cx="246.40" cy="230.80" r="1.1" fill="#b3d6e6" />
<circle cx="249.00" cy="230.80" r="1.1" fill="#b3d6e6" />
<circle cx="259.40" cy="230.80" r="1.1" fill="#b3d6e6" />
<circle cx="262.00" cy="230.80" r="1.1" fill="#b3d6e6" />
<circle cx="218.64" cy="230.80" r="1.1" fill="#b3d6e6" />
<circle cx="300.78" cy="230.80" r="1.1" fill="#b3d6e6" />
<circle cx="311.58" cy="230.80" r="1.1" fill="#b3d6e6" />
<circle cx="246.16" cy="230.80" r="1.1" fill="#b3d6e6" />
<circle cx="209.01" cy="230.80" r="1.1" fill="#b3d6e6" />
<circle cx="215.33" cy="230.80" r="1.1" fill="#b3d6e6" />
<circle cx="203.16" cy="230.80" r="1.1" fill="#b3d6e6" />
<circle cx="233.23" cy="230.80" r="1.1" fill="#b3d6e6" />
<circle cx="203.20" cy="230.80" r="1.1" fill="#b3d6e6" />
<circle cx="220.92" cy="230.80" r="1.1" fill="#b3d6e6" />
<circle cx="223.23" cy="230.80" r="1.1" fill="#b3d6e6" />
<circle cx="260.48" cy="230.80" r="1.1" fill="#b3d6e6" />
<circle cx="298.50" cy="230.80" r="1.1" fill="#b3d6e6" />
<circle cx="282.03" cy="230.80" r="1.1" fill="#b3d6e6" />
<circle cx="192.30" cy="230.80" r="1.1" fill="#b3d6e6" />
<circle cx="312.00" cy="230.80" r="1.1" fill="#b3d6e6" />
<circle cx="217.00" cy="224.28" r="1.1" fill="#b3d6e6" />
<circle cx="219.60" cy="224.28" r="1.1" fill="#b3d6e6" />
<circle cx="222.20" cy="224.28" r="1.1" fill="#b3d6e6" />
<circle cx="224.80" cy="224.28" r="1.1" fill="#b3d6e6" />
<circle cx="227.40" cy="224.28" r="1.1" fill="#b3d6e6" />
<circle cx="235.20" cy="224.28" r="1.1" fill="#b3d6e6" />
<circle cx="240.40" cy="224.28" r="1.1" fill="#b3d6e6" />
<circle cx="243.00" cy="224.28" r="1.1" fill="#b3d6e6" />
<circle cx="245.60" cy="224.28" r="1.1" fill="#b3d6e6" />
<circle cx="260.20" cy="224.28" r="1.1" fill="#b3d6e6" />
<circle cx="262.80" cy="224.28" r="1.1" fill="#b3d6e6" />
<circle cx="265.40" cy="224.28" r="1.1" fill="#b3d6e6" />
<circle cx="268.00" cy="224.28" r="1.1" fill="#b3d6e6" />
<circle cx="270.60" cy="224.28" r="1.1" fill="#b3d6e6" />
<circle cx="278.40" cy="224.28" r="1.1" fill="#b3d6e6" />
<circle cx="312.34" cy="224.28" r="1.1" fill="#b3d6e6" />
<circle cx="255.40" cy="224.28" r="1.1" fill="#b3d6e6" />
<circle cx="270.75" cy="224.28" r="1.1" fill="#b3d6e6" />
<circle cx="191.62" cy="224.28" r="1.1" fill="#b3d6e6" />
<circle cx="244.38" cy="224.28" r="1.1" fill="#b3d6e6" />
<circle cx="316.54" cy="224.28" r="1.1" fill="#b3d6e6" />
<circle cx="302.89" cy="224.28" r="1.1" fill="#b3d6e6" />
<circle cx="306.92" cy="224.28" r="1.1" fill="#b3d6e6" />
<circle cx="322.66" cy="224.28" r="1.1" fill="#b3d6e6" />
<circle cx="225.09" cy="224.28" r="1.1" fill="#b3d6e6" />
<circle cx="206.30" cy="224.28" r="1.1" fill="#b3d6e6" />
<circle cx="212.41" cy="224.28" r="1.1" fill="#b3d6e6" />
<circle cx="262.01" cy="224.28" r="1.1" fill="#b3d6e6" />
<circle cx="283.54" cy="224.28" r="1.1" fill="#b3d6e6" />
<circle cx="191.60" cy="224.28" r="1.1" fill="#b3d6e6" />
<circle cx="326.40" cy="224.28" r="1.1" fill="#b3d6e6" />
<circle cx="212.00" cy="217.77" r="1.1" fill="#b3d6e6" />
<circle cx="214.60" cy="217.77" r="1.1" fill="#b3d6e6" />
<circle cx="217.20" cy="217.77" r="1.1" fill="#b3d6e6" />
<circle cx="219.80" cy="217.77" r="1.1" fill="#b3d6e6" />
<circle cx="222.40" cy="217.77" r="1.1" fill="#b3d6e6" />
<circle cx="225.00" cy="217.77" r="1.1" fill="#b3d6e6" />
<circle cx="230.20" cy="217.77" r="1.1" fill="#b3d6e6" />
<circle cx="235.40" cy="217.77" r="1.1" fill="#b3d6e6" />
<circle cx="241.00" cy="217.77" r="1.1" fill="#b3d6e6" />
<circle cx="243.60" cy="217.77" r="1.1" fill="#b3d6e6" />
<circle cx="251.40" cy="217.77" r="1.1" fill="#b3d6e6" />
<circle cx="254.00" cy="217.77" r="1.1" fill="#b3d6e6" />
<circle cx="261.80" cy="217.77" r="1.1" fill="#b3d6e6" />
<circle cx="251.93" cy="217.77" r="1.1" fill="#b3d6e6" />
<circle cx="237.41" cy="217.77" r="1.1" fill="#b3d6e6" />
<circle cx="225.16" cy="217.77" r="1.1" fill="#b3d6e6" />
<circle cx="253.28" cy="217.77" r="1.1" fill="#b3d6e6" />
<circle cx="209.28" cy="217.77" r="1.1" fill="#b3d6e6" />
<circle cx="230.96" cy="217.77" r="1.1" fill="#b3d6e6" />
<circle cx="242.82" cy="217.77" r="1.1" fill="#b3d6e6" />
<circle cx="279.94" cy="217.77" r="1.1" fill="#b3d6e6" />
<circle cx="256.52" cy="217.77" r="1.1" fill="#b3d6e6" />
<circle cx="274.34" cy="217.77" r="1.1" fill="#b3d6e6" />
<circle cx="208.50" cy="217.77" r="1.1" fill="#b3d6e6" />
<circle cx="283.00" cy="217.77" r="1.1" fill="#b3d6e6" />
<circle cx="217.00" cy="211.25" r="1.1" fill="#b3d6e6" />
<circle cx="224.80" cy="211.25" r="1.1" fill="#b3d6e6" />
<circle cx="227.40" cy="211.25" r="1.1" fill="#b3d6e6" />
<circle cx="230.00" cy="211.25" r="1.1" fill="#b3d6e6" />
<circle cx="235.20" cy="211.25" r="1.1" fill="#b3d6e6" />
<circle cx="237.80" cy="211.25" r="1.1" fill="#b3d6e6" />
<circle cx="246.00" cy="211.25" r="1.1" fill="#b3d6e6" />
<circle cx="251.20" cy="211.25" r="1.1" fill="#b3d6e6" />
<circle cx="253.80" cy="211.25" r="1.1" fill="#b3d6e6" />
<circle cx="261.60" cy="211.25" r="1.1" fill="#b3d6e6" />
<circle cx="264.20" cy="211.25" r="1.1" fill="#b3d6e6" />
<circle cx="266.80" cy="211.25" r="1.1" fill="#b3d6e6" />
<circle cx="196.00" cy="211.25" r="1.1" fill="#b3d6e6" />
<circle cx="289.00" cy="211.25" r="1.1" fill="#b3d6e6" />
<circle cx="300.00" cy="211.25" r="1.1" fill="#b3d6e6" />
<circle cx="318.00" cy="211.25" r="1.1" fill="#b3d6e6" />
<circle cx="322.00" cy="211.25" r="1.1" fill="#b3d6e6" />
<circle cx="273.00" cy="211.25" r="1.1" fill="#b3d6e6" />
<circle cx="278.00" cy="211.25" r="1.1" fill="#b3d6e6" />
<circle cx="222.60" cy="204.74" r="1.1" fill="#b3d6e6" />
<circle cx="225.20" cy="204.74" r="1.1" fill="#b3d6e6" />
<circle cx="227.80" cy="204.74" r="1.1" fill="#b3d6e6" />
<circle cx="233.00" cy="204.74" r="1.1" fill="#b3d6e6" />
<circle cx="235.60" cy="204.74" r="1.1" fill="#b3d6e6" />
<circle cx="238.20" cy="204.74" r="1.1" fill="#b3d6e6" />
<circle cx="250.00" cy="204.74" r="1.1" fill="#b3d6e6" />
<circle cx="255.20" cy="204.74" r="1.1" fill="#b3d6e6" />
<circle cx="257.80" cy="204.74" r="1.1" fill="#b3d6e6" />
<circle cx="265.60" cy="204.74" r="1.1" fill="#b3d6e6" />
<circle cx="268.20" cy="204.74" r="1.1" fill="#b3d6e6" />
<circle cx="276.18" cy="204.74" r="1.1" fill="#b3d6e6" />
<circle cx="216.41" cy="204.74" r="1.1" fill="#b3d6e6" />
<circle cx="234.81" cy="204.74" r="1.1" fill="#b3d6e6" />
<circle cx="221.36" cy="204.74" r="1.1" fill="#b3d6e6" />
<circle cx="278.07" cy="204.74" r="1.1" fill="#b3d6e6" />
<circle cx="216.07" cy="204.74" r="1.1" fill="#b3d6e6" />
<circle cx="209.36" cy="204.74" r="1.1" fill="#b3d6e6" />
<circle cx="209.98" cy="204.74" r="1.1" fill="#b3d6e6" />
<circle cx="205.50" cy="204.74" r="1.1" fill="#b3d6e6" />
<circle cx="288.40" cy="204.74" r="1.1" fill="#b3d6e6" />
<circle cx="290.40" cy="204.74" r="1.1" fill="#b3d6e6" />
<circle cx="297.20" cy="204.74" r="1.1" fill="#b3d6e6" />
<circle cx="220.90" cy="198.23" r="1.1" fill="#b3d6e6" />
<circle cx="223.50" cy="198.23" r="1.1" fill="#b3d6e6" />
<circle cx="226.10" cy="198.23" r="1.1" fill="#b3d6e6" />
<circle cx="228.70" cy="198.23" r="1.1" fill="#b3d6e6" />
<circle cx="231.30" cy="198.23" r="1.1" fill="#b3d6e6" />
<circle cx="233.90" cy="198.23" r="1.1" fill="#b3d6e6" />
<circle cx="236.50" cy="198.23" r="1.1" fill="#b3d6e6" />
<circle cx="241.70" cy="198.23" r="1.1" fill="#b3d6e6" />
<circle cx="244.30" cy="198.23" r="1.1" fill="#b3d6e6" />
<circle cx="249.50" cy="198.23" r="1.1" fill="#b3d6e6" />
<circle cx="232.46" cy="198.23" r="1.1" fill="#b3d6e6" />
<circle cx="232.10" cy="198.23" r="1.1" fill="#b3d6e6" />
<circle cx="228.87" cy="198.23" r="1.1" fill="#b3d6e6" />
<circle cx="216.45" cy="198.23" r="1.1" fill="#b3d6e6" />
<circle cx="203.72" cy="198.23" r="1.1" fill="#b3d6e6" />
<circle cx="224.91" cy="198.23" r="1.1" fill="#b3d6e6" />
<circle cx="230.39" cy="198.23" r="1.1" fill="#b3d6e6" />
<circle cx="276.60" cy="198.23" r="1.1" fill="#b3d6e6" />
<circle cx="212.96" cy="198.23" r="1.1" fill="#b3d6e6" />
<circle cx="277.27" cy="198.23" r="1.1" fill="#b3d6e6" />
<circle cx="203.50" cy="198.23" r="1.1" fill="#b3d6e6" />
<circle cx="207.00" cy="198.23" r="1.1" fill="#b3d6e6" />
<circle cx="283.20" cy="198.23" r="1.1" fill="#b3d6e6" />
<circle cx="300.50" cy="198.23" r="1.1" fill="#b3d6e6" />
<circle cx="312.50" cy="198.23" r="1.1" fill="#b3d6e6" />
<circle cx="217.95" cy="191.71" r="1.1" fill="#b3d6e6" />
<circle cx="222.95" cy="191.71" r="1.1" fill="#b3d6e6" />
<circle cx="238.52" cy="191.71" r="1.1" fill="#b3d6e6" />
<circle cx="238.54" cy="191.71" r="1.1" fill="#b3d6e6" />
<circle cx="225.49" cy="191.71" r="1.1" fill="#b3d6e6" />
<circle cx="212.65" cy="191.71" r="1.1" fill="#b3d6e6" />
<circle cx="226.86" cy="191.71" r="1.1" fill="#b3d6e6" />
<circle cx="223.49" cy="191.71" r="1.1" fill="#b3d6e6" />
<circle cx="241.80" cy="191.71" r="1.1" fill="#b3d6e6" />
<circle cx="217.47" cy="191.71" r="1.1" fill="#b3d6e6" />
<circle cx="274.00" cy="191.71" r="1.1" fill="#b3d6e6" />
<circle cx="262.00" cy="191.71" r="1.1" fill="#b3d6e6" />
<circle cx="268.00" cy="191.71" r="1.1" fill="#b3d6e6" />
<circle cx="294.00" cy="191.71" r="1.1" fill="#b3d6e6" />
<circle cx="301.90" cy="191.71" r="1.1" fill="#b3d6e6" />
<circle cx="240.40" cy="185.20" r="1.1" fill="#b3d6e6" />
<circle cx="270.82" cy="185.20" r="1.1" fill="#b3d6e6" />
<circle cx="221.33" cy="185.20" r="1.1" fill="#b3d6e6" />
<circle cx="243.06" cy="185.20" r="1.1" fill="#b3d6e6" />
<circle cx="265.96" cy="185.20" r="1.1" fill="#b3d6e6" />
<circle cx="263.38" cy="185.20" r="1.1" fill="#b3d6e6" />
<circle cx="221.92" cy="185.20" r="1.1" fill="#b3d6e6" />
<circle cx="221.59" cy="185.20" r="1.1" fill="#b3d6e6" />
<circle cx="223.17" cy="185.20" r="1.1" fill="#b3d6e6" />
<circle cx="272.14" cy="185.20" r="1.1" fill="#b3d6e6" />
<circle cx="234.28" cy="185.20" r="1.1" fill="#b3d6e6" />
<circle cx="262.27" cy="185.20" r="1.1" fill="#b3d6e6" />
<circle cx="270.91" cy="185.20" r="1.1" fill="#b3d6e6" />
<circle cx="238.96" cy="185.20" r="1.1" fill="#b3d6e6" />
<circle cx="235.15" cy="185.20" r="1.1" fill="#b3d6e6" />
<circle cx="274.28" cy="185.20" r="1.1" fill="#b3d6e6" />
<circle cx="293.70" cy="185.20" r="1.1" fill="#b3d6e6" />
<circle cx="303.30" cy="185.20" r="1.1" fill="#b3d6e6" />
<circle cx="308.60" cy="185.20" r="1.1" fill="#b3d6e6" />
<circle cx="322.10" cy="185.20" r="1.1" fill="#b3d6e6" />
<circle cx="254.99" cy="178.68" r="1.1" fill="#b3d6e6" />
<circle cx="232.57" cy="178.68" r="1.1" fill="#b3d6e6" />
<circle cx="261.29" cy="178.68" r="1.1" fill="#b3d6e6" />
<circle cx="236.00" cy="178.68" r="1.1" fill="#b3d6e6" />
<circle cx="233.42" cy="178.68" r="1.1" fill="#b3d6e6" />
<circle cx="216.24" cy="178.68" r="1.1" fill="#b3d6e6" />
<circle cx="263.76" cy="178.68" r="1.1" fill="#b3d6e6" />
<circle cx="273.92" cy="178.68" r="1.1" fill="#b3d6e6" />
<circle cx="256.07" cy="178.68" r="1.1" fill="#b3d6e6" />
<circle cx="275.61" cy="178.68" r="1.1" fill="#b3d6e6" />
<circle cx="217.53" cy="178.68" r="1.1" fill="#b3d6e6" />
<circle cx="230.78" cy="178.68" r="1.1" fill="#b3d6e6" />
<circle cx="246.03" cy="178.68" r="1.1" fill="#b3d6e6" />
<circle cx="276.47" cy="178.68" r="1.1" fill="#b3d6e6" />
<circle cx="276.29" cy="178.68" r="1.1" fill="#b3d6e6" />
<circle cx="240.43" cy="178.68" r="1.1" fill="#b3d6e6" />
<circle cx="202.30" cy="178.68" r="1.1" fill="#b3d6e6" />
<circle cx="303.70" cy="178.68" r="1.1" fill="#b3d6e6" />
<circle cx="231.52" cy="172.17" r="1.1" fill="#b3d6e6" />
<circle cx="243.51" cy="172.17" r="1.1" fill="#b3d6e6" />
<circle cx="247.76" cy="172.17" r="1.1" fill="#b3d6e6" />
<circle cx="276.88" cy="172.17" r="1.1" fill="#b3d6e6" />
<circle cx="226.96" cy="172.17" r="1.1" fill="#b3d6e6" />
<circle cx="268.47" cy="172.17" r="1.1" fill="#b3d6e6" />
<circle cx="264.18" cy="172.17" r="1.1" fill="#b3d6e6" />
<circle cx="269.82" cy="172.17" r="1.1" fill="#b3d6e6" />
<circle cx="266.48" cy="172.17" r="1.1" fill="#b3d6e6" />
<circle cx="255.39" cy="172.17" r="1.1" fill="#b3d6e6" />
<circle cx="236.66" cy="172.17" r="1.1" fill="#b3d6e6" />
<circle cx="236.11" cy="172.17" r="1.1" fill="#b3d6e6" />
<circle cx="238.94" cy="172.17" r="1.1" fill="#b3d6e6" />
<circle cx="267.11" cy="172.17" r="1.1" fill="#b3d6e6" />
<circle cx="219.99" cy="172.17" r="1.1" fill="#b3d6e6" />
<circle cx="227.92" cy="172.17" r="1.1" fill="#b3d6e6" />
<circle cx="265.14" cy="172.17" r="1.1" fill="#b3d6e6" />
<circle cx="231.27" cy="172.17" r="1.1" fill="#b3d6e6" />
<circle cx="289.10" cy="172.17" r="1.1" fill="#b3d6e6" />
<circle cx="307.70" cy="172.17" r="1.1" fill="#b3d6e6" />
<circle cx="219.77" cy="165.66" r="1.1" fill="#b3d6e6" />
<circle cx="217.97" cy="165.66" r="1.1" fill="#b3d6e6" />
<circle cx="248.16" cy="165.66" r="1.1" fill="#b3d6e6" />
<circle cx="234.96" cy="165.66" r="1.1" fill="#b3d6e6" />
<circle cx="273.05" cy="165.66" r="1.1" fill="#b3d6e6" />
<circle cx="267.42" cy="165.66" r="1.1" fill="#b3d6e6" />
<circle cx="273.49" cy="165.66" r="1.1" fill="#b3d6e6" />
<circle cx="231.42" cy="165.66" r="1.1" fill="#b3d6e6" />
<circle cx="220.89" cy="165.66" r="1.1" fill="#b3d6e6" />
<circle cx="221.61" cy="165.66" r="1.1" fill="#b3d6e6" />
<circle cx="245.01" cy="165.66" r="1.1" fill="#b3d6e6" />
<circle cx="257.31" cy="165.66" r="1.1" fill="#b3d6e6" />
<circle cx="242.01" cy="165.66" r="1.1" fill="#b3d6e6" />
<circle cx="229.63" cy="165.66" r="1.1" fill="#b3d6e6" />
<circle cx="240.26" cy="165.66" r="1.1" fill="#b3d6e6" />
<circle cx="252.10" cy="165.66" r="1.1" fill="#b3d6e6" />
<circle cx="228.53" cy="159.14" r="1.1" fill="#b3d6e6" />
<circle cx="230.45" cy="159.14" r="1.1" fill="#b3d6e6" />
<circle cx="233.02" cy="159.14" r="1.1" fill="#b3d6e6" />
<circle cx="228.28" cy="159.14" r="1.1" fill="#b3d6e6" />
<circle cx="214.15" cy="159.14" r="1.1" fill="#b3d6e6" />
<circle cx="232.86" cy="159.14" r="1.1" fill="#b3d6e6" />
<circle cx="254.40" cy="159.14" r="1.1" fill="#b3d6e6" />
<circle cx="276.70" cy="159.14" r="1.1" fill="#b3d6e6" />
<circle cx="291.80" cy="159.14" r="1.1" fill="#b3d6e6" />
<circle cx="227.56" cy="152.63" r="1.1" fill="#b3d6e6" />
<circle cx="244.17" cy="152.63" r="1.1" fill="#b3d6e6" />
<circle cx="232.38" cy="152.63" r="1.1" fill="#b3d6e6" />
<circle cx="254.57" cy="152.63" r="1.1" fill="#b3d6e6" />
<circle cx="221.81" cy="152.63" r="1.1" fill="#b3d6e6" />
<circle cx="224.74" cy="152.63" r="1.1" fill="#b3d6e6" />
<circle cx="224.62" cy="152.63" r="1.1" fill="#b3d6e6" />
<circle cx="219.02" cy="152.63" r="1.1" fill="#b3d6e6" />
<circle cx="281.80" cy="152.63" r="1.1" fill="#b3d6e6" />
<circle cx="317.40" cy="152.63" r="1.1" fill="#b3d6e6" />
<circle cx="237.00" cy="146.11" r="1.1" fill="#b3d6e6" />
<circle cx="266.80" cy="146.11" r="1.1" fill="#b3d6e6" />
<circle cx="280.00" cy="146.11" r="1.1" fill="#b3d6e6" />
<circle cx="301.40" cy="146.11" r="1.1" fill="#b3d6e6" />
<circle cx="222.00" cy="139.60" r="1.1" fill="#b3d6e6" />
<circle cx="226.00" cy="139.60" r="1.1" fill="#b3d6e6" />
<circle cx="230.00" cy="139.60" r="1.1" fill="#b3d6e6" />
<circle cx="236.00" cy="139.60" r="1.1" fill="#b3d6e6" />
<circle cx="244.50" cy="139.60" r="1.1" fill="#b3d6e6" />
<circle cx="266.80" cy="139.60" r="1.1" fill="#b3d6e6" />
<circle cx="295.40" cy="139.60" r="1.1" fill="#b3d6e6" />
<circle cx="211.00" cy="133.09" r="1.1" fill="#b3d6e6" />
<circle cx="243.00" cy="133.09" r="1.1" fill="#b3d6e6" />
<circle cx="254.40" cy="133.09" r="1.1" fill="#b3d6e6" />
<circle cx="258.00" cy="133.09" r="1.1" fill="#b3d6e6" />
<circle cx="263.00" cy="133.09" r="1.1" fill="#b3d6e6" />
<circle cx="307.70" cy="133.09" r="1.1" fill="#b3d6e6" />
<circle cx="321.60" cy="133.09" r="1.1" fill="#b3d6e6" />
<circle cx="242.00" cy="126.57" r="1.1" fill="#b3d6e6" />
<circle cx="264.00" cy="126.57" r="1.1" fill="#b3d6e6" />
<circle cx="268.80" cy="126.57" r="1.1" fill="#b3d6e6" />
<circle cx="307.70" cy="126.57" r="1.1" fill="#b3d6e6" />
<circle cx="322.50" cy="126.57" r="1.1" fill="#b3d6e6" />
<circle cx="324.50" cy="126.57" r="1.1" fill="#b3d6e6" />
<circle cx="242.00" cy="120.06" r="1.1" fill="#b3d6e6" />
<circle cx="257.00" cy="120.06" r="1.1" fill="#b3d6e6" />
<circle cx="265.30" cy="120.06" r="1.1" fill="#b3d6e6" />
<circle cx="315.50" cy="120.06" r="1.1" fill="#b3d6e6" />
<circle cx="243.00" cy="113.54" r="1.1" fill="#b3d6e6" />
<circle cx="253.60" cy="113.54" r="1.1" fill="#b3d6e6" />
<circle cx="280.40" cy="113.54" r="1.1" fill="#b3d6e6" />
<circle cx="306.00" cy="113.54" r="1.1" fill="#b3d6e6" />
<circle cx="217.40" cy="107.03" r="1.1" fill="#b3d6e6" />
<circle cx="267.60" cy="107.03" r="1.1" fill="#b3d6e6" />
<circle cx="335.30" cy="107.03" r="1.1" fill="#b3d6e6" />
<circle cx="237.20" cy="100.52" r="1.1" fill="#b3d6e6" />
<circle cx="268.80" cy="100.52" r="1.1" fill="#b3d6e6" />
<circle cx="237.20" cy="94.00" r="1.1" fill="#b3d6e6" />
<circle cx="259.40" cy="94.00" r="1.1" fill="#b3d6e6" />
<circle cx="278.00" cy="94.00" r="1.1" fill="#b3d6e6" />
<circle cx="336.50" cy="94.00" r="1.1" fill="#b3d6e6" />
<circle cx="261.80" cy="87.49" r="1.1" fill="#b3d6e6" />
<circle cx="287.50" cy="87.49" r="1.1" fill="#b3d6e6" />
<circle cx="256.00" cy="80.97" r="1.1" fill="#b3d6e6" />
<circle cx="268.80" cy="80.97" r="1.1" fill="#b3d6e6" />
<circle cx="295.80" cy="80.97" r="1.1" fill="#b3d6e6" />
<circle cx="315.50" cy="80.97" r="1.1" fill="#b3d6e6" />
<circle cx="250.00" cy="74.46" r="1.1" fill="#b3d6e6" />
<circle cx="261.80" cy="74.46" r="1.1" fill="#b3d6e6" />
<circle cx="273.40" cy="74.46" r="1.1" fill="#b3d6e6" />
<circle cx="255.90" cy="67.95" r="1.1" fill="#b3d6e6" />
<circle cx="263.00" cy="67.95" r="1.1" fill="#b3d6e6" />
<circle cx="307.30" cy="67.95" r="1.1" fill="#b3d6e6" />
<circle cx="284.00" cy="54.92" r="1.1" fill="#b3d6e6" />
<circle cx="260.60" cy="48.40" r="1.1" fill="#b3d6e6" />
<line x1="231.90" y1="64.50" x2="238.70" y2="67.95" stroke="#1a1a1a" stroke-width="0.7" />
<line x1="259.00" y1="76.20" x2="251.20" y2="80.97" stroke="#1a1a1a" stroke-width="0.7" />
<line x1="224.80" y1="92.60" x2="224.40" y2="100.52" stroke="#1a1a1a" stroke-width="0.7" />
<line x1="254.30" y1="91.90" x2="243.10" y2="94.00" stroke="#1a1a1a" stroke-width="0.7" />
<line x1="321.30" y1="90.20" x2="329.50" y2="87.49" stroke="#1a1a1a" stroke-width="0.7" />
<line x1="212.70" y1="108.20" x2="220.90" y2="113.54" stroke="#1a1a1a" stroke-width="0.7" />
<line x1="236.50" y1="109.60" x2="229.00" y2="113.54" stroke="#1a1a1a" stroke-width="0.7" />
<path d="M209.2,118.6 Q220,120.6 229.1,120.3 Q250,118 286.3,110.8" fill="none" stroke="#1a1a1a" stroke-width="0.7"/>
<line x1="242.60" y1="124.10" x2="234.40" y2="126.57" stroke="#1a1a1a" stroke-width="0.7" />
<line x1="224.00" y1="132.00" x2="231.20" y2="126.57" stroke="#1a1a1a" stroke-width="0.7" />
<line x1="197.00" y1="138.30" x2="211.10" y2="139.60" stroke="#1a1a1a" stroke-width="0.7" />
<line x1="245.30" y1="146.60" x2="229.70" y2="146.11" stroke="#1a1a1a" stroke-width="0.7" />
<line x1="216.00" y1="164.50" x2="224.60" y2="152.63" stroke="#1a1a1a" stroke-width="0.7" />
<line x1="240.80" y1="160.60" x2="232.30" y2="159.14" stroke="#1a1a1a" stroke-width="0.7" />
<line x1="248.80" y1="176.50" x2="241.00" y2="178.68" stroke="#1a1a1a" stroke-width="0.7" />
<line x1="282.30" y1="180.30" x2="241.00" y2="178.88" stroke="#1a1a1a" stroke-width="0.7" />
<line x1="241.00" y1="178.68" x2="232.70" y2="185.20" stroke="#1a1a1a" stroke-width="0.7" />
<line x1="229.00" y1="192.50" x2="229.00" y2="185.20" stroke="#1a1a1a" stroke-width="0.7" />
<line x1="253.30" y1="195.20" x2="249.00" y2="191.71" stroke="#1a1a1a" stroke-width="0.7" />
<line x1="193.80" y1="194.00" x2="203.70" y2="191.71" stroke="#1a1a1a" stroke-width="0.7" />
<line x1="210.30" y1="214.60" x2="214.60" y2="211.25" stroke="#1a1a1a" stroke-width="0.7" />
<line x1="173.40" y1="260.30" x2="180.10" y2="256.85" stroke="#1a1a1a" stroke-width="0.7" />
<circle cx="238.70" cy="67.95" r="1.3" fill="#ff8000" />
<circle cx="251.20" cy="80.97" r="1.3" fill="#ff8000" />
<circle cx="224.40" cy="100.52" r="1.3" fill="#ff8000" />
<circle cx="243.10" cy="94.00" r="1.3" fill="#1414e6" />
<circle cx="329.50" cy="87.49" r="1.3" fill="#ff8000" />
<circle cx="220.90" cy="113.54" r="1.3" fill="#ff8000" />
<circle cx="229.00" cy="113.54" r="1.3" fill="#ff8000" />
<circle cx="229.10" cy="120.06" r="1.3" fill="#ff8000" />
<circle cx="230.60" cy="120.06" r="1.3" fill="#1414e6" />
<circle cx="231.20" cy="126.57" r="1.3" fill="#1414e6" />
<circle cx="234.40" cy="126.57" r="1.3" fill="#1414e6" />
<circle cx="211.10" cy="139.60" r="1.3" fill="#1414e6" />
<circle cx="217.40" cy="146.11" r="1.3" fill="#1414e6" />
<circle cx="229.70" cy="146.11" r="1.3" fill="#1414e6" />
<circle cx="224.60" cy="152.63" r="1.3" fill="#1414e6" />
<circle cx="232.30" cy="159.14" r="1.3" fill="#1414e6" />
<circle cx="241.00" cy="178.68" r="1.3" fill="#1414e6" />
<circle cx="229.00" cy="185.20" r="1.3" fill="#1414e6" />
<circle cx="232.70" cy="185.20" r="1.3" fill="#1414e6" />
<circle cx="249.00" cy="191.71" r="1.3" fill="#1414e6" />
<circle cx="203.70" cy="191.71" r="1.3" fill="#1414e6" />
<circle cx="214.60" cy="211.25" r="1.3" fill="#f0143c" />
<circle cx="180.10" cy="256.85" r="1.3" fill="#1414e6" />
<circle cx="219.40" cy="61.40" r="1.0" fill="#111" />
<text x="217.40" y="65.15" font-size="6.8" text-anchor="start" font-weight="normal" fill="#000" stroke="#000" stroke-width="0.14" >PIF4</text>
<text x="260.10" y="76.35" font-size="6.8" text-anchor="start" font-weight="normal" fill="#000" stroke="#000" stroke-width="0.14" >PIF5</text>
<text x="216.70" y="91.45" font-size="6.8" text-anchor="start" font-weight="normal" fill="#000" stroke="#000" stroke-width="0.14" >LNK4</text>
<text x="255.20" y="93.15" font-size="6.8" text-anchor="start" font-weight="normal" fill="#000" stroke="#000" stroke-width="0.14" >LNK2</text>
<text x="303.80" y="96.85" font-size="6.8" text-anchor="start" font-weight="normal" fill="#000" stroke="#000" stroke-width="0.14" >GRP7</text>
<text x="195.90" y="108.35" font-size="6.8" text-anchor="start" font-weight="normal" fill="#000" stroke="#000" stroke-width="0.14" >LNK3</text>
<text x="237.90" y="110.15" font-size="6.8" text-anchor="start" font-weight="normal" fill="#000" stroke="#000" stroke-width="0.14" >COL2</text>
<text x="187.00" y="120.05" font-size="6.8" text-anchor="start" font-weight="normal" fill="#000" stroke="#000" stroke-width="0.14" >JMJD5</text>
<text x="287.50" y="112.95" font-size="6.8" text-anchor="start" font-weight="normal" fill="#000" stroke="#000" stroke-width="0.14" >PRR7</text>
<text x="243.80" y="125.35" font-size="6.8" text-anchor="start" font-weight="normal" fill="#000" stroke="#000" stroke-width="0.14" >CCA1</text>
<text x="217.00" y="137.65" font-size="6.8" text-anchor="start" font-weight="normal" fill="#000" stroke="#000" stroke-width="0.14" >LHY</text>
<text x="177.60" y="140.55" font-size="6.8" text-anchor="start" font-weight="normal" fill="#000" stroke="#000" stroke-width="0.14" >PRR3</text>
<text x="209.80" y="152.85" font-size="6.8" text-anchor="start" font-weight="normal" fill="#000" stroke="#000" stroke-width="0.14" >GI</text>
<text x="245.80" y="149.45" font-size="6.8" text-anchor="start" font-weight="normal" fill="#000" stroke="#000" stroke-width="0.14" >RVE8</text>
<text x="201.30" y="171.05" font-size="6.8" text-anchor="start" font-weight="normal" fill="#000" stroke="#000" stroke-width="0.14" >LNK1</text>
<text x="241.10" y="163.85" font-size="6.8" text-anchor="start" font-weight="normal" fill="#000" stroke="#000" stroke-width="0.14" >TOC1</text>
<text x="248.50" y="177.95" font-size="6.8" text-anchor="start" font-weight="normal" fill="#000" stroke="#000" stroke-width="0.14" >LUX</text>
<text x="282.60" y="182.95" font-size="6.8" text-anchor="start" font-weight="normal" fill="#000" stroke="#000" stroke-width="0.14" >RVE4</text>
<text x="219.30" y="198.85" font-size="6.8" text-anchor="start" font-weight="normal" fill="#000" stroke="#000" stroke-width="0.14" >ELF3</text>
<text x="253.50" y="200.75" font-size="6.8" text-anchor="start" font-weight="normal" fill="#000" stroke="#000" stroke-width="0.14" >ELF4</text>
<text x="175.80" y="198.25" font-size="6.8" text-anchor="start" font-weight="normal" fill="#000" stroke="#000" stroke-width="0.14" >PRR5</text>
<text x="193.00" y="219.65" font-size="6.8" text-anchor="start" font-weight="normal" fill="#000" stroke="#000" stroke-width="0.14" >ABF1</text>
<text x="155.60" y="264.95" font-size="6.8" text-anchor="start" font-weight="normal" fill="#000" stroke="#000" stroke-width="0.14" >PRR9</text>
<rect x="410.20" y="172.85" width="32.80" height="3.50" fill="#1f77b4" />
<line x1="442.60" y1="172.85" x2="442.60" y2="176.35" stroke="#c7dcef" stroke-width="0.8" />
<text x="408.70" y="176.90" font-size="6.4" text-anchor="end" font-weight="normal" fill="#000" stroke="#000" stroke-width="0.14" textLength="10.6" lengthAdjust="spacingAndGlyphs" >164</text>
<rect x="416.60" y="168.25" width="26.40" height="3.50" fill="#1f77b4" />
<line x1="442.60" y1="168.25" x2="442.60" y2="171.75" stroke="#c7dcef" stroke-width="0.8" />
<text x="415.10" y="172.30" font-size="6.4" text-anchor="end" font-weight="normal" fill="#000" stroke="#000" stroke-width="0.14" textLength="10.6" lengthAdjust="spacingAndGlyphs" >132</text>
<rect x="429.60" y="163.65" width="13.40" height="3.50" fill="#1f77b4" />
<line x1="442.60" y1="163.65" x2="442.60" y2="167.15" stroke="#c7dcef" stroke-width="0.8" />
<text x="428.10" y="167.70" font-size="6.4" text-anchor="end" font-weight="normal" fill="#000" stroke="#000" stroke-width="0.14" textLength="7.1" lengthAdjust="spacingAndGlyphs" >67</text>
<rect x="433.00" y="159.05" width="10.00" height="3.50" fill="#1f77b4" />
<line x1="442.60" y1="159.05" x2="442.60" y2="162.55" stroke="#c7dcef" stroke-width="0.8" />
<text x="431.50" y="163.10" font-size="6.4" text-anchor="end" font-weight="normal" fill="#000" stroke="#000" stroke-width="0.14" textLength="7.1" lengthAdjust="spacingAndGlyphs" >50</text>
<rect x="434.60" y="154.45" width="8.40" height="3.50" fill="#1f77b4" />
<line x1="442.60" y1="154.45" x2="442.60" y2="157.95" stroke="#c7dcef" stroke-width="0.8" />
<text x="433.10" y="158.50" font-size="6.4" text-anchor="end" font-weight="normal" fill="#000" stroke="#000" stroke-width="0.14" textLength="7.1" lengthAdjust="spacingAndGlyphs" >42</text>
<rect x="439.40" y="149.85" width="3.60" height="3.50" fill="#1f77b4" />
<line x1="442.60" y1="149.85" x2="442.60" y2="153.35" stroke="#c7dcef" stroke-width="0.8" />
<text x="437.90" y="153.90" font-size="6.4" text-anchor="end" font-weight="normal" fill="#000" stroke="#000" stroke-width="0.14" textLength="7.1" lengthAdjust="spacingAndGlyphs" >18</text>
<rect x="439.00" y="145.25" width="4.00" height="3.50" fill="#1f77b4" />
<line x1="442.60" y1="145.25" x2="442.60" y2="148.75" stroke="#c7dcef" stroke-width="0.8" />
<text x="437.50" y="149.30" font-size="6.4" text-anchor="end" font-weight="normal" fill="#000" stroke="#000" stroke-width="0.14" textLength="7.1" lengthAdjust="spacingAndGlyphs" >20</text>
<rect x="441.00" y="140.65" width="2.00" height="3.50" fill="#1f77b4" />
<line x1="442.60" y1="140.65" x2="442.60" y2="144.15" stroke="#c7dcef" stroke-width="0.8" />
<text x="441.80" y="144.70" font-size="6.4" text-anchor="end" font-weight="normal" fill="#000" stroke="#000" stroke-width="0.14" textLength="7.1" lengthAdjust="spacingAndGlyphs" >10</text>
<rect x="440.40" y="136.05" width="2.60" height="3.50" fill="#1f77b4" />
<line x1="442.60" y1="136.05" x2="442.60" y2="139.55" stroke="#c7dcef" stroke-width="0.8" />
<text x="438.90" y="140.10" font-size="6.4" text-anchor="end" font-weight="normal" fill="#000" stroke="#000" stroke-width="0.14" textLength="7.1" lengthAdjust="spacingAndGlyphs" >13</text>
<rect x="440.60" y="131.45" width="2.40" height="3.50" fill="#1f77b4" />
<line x1="442.60" y1="131.45" x2="442.60" y2="134.95" stroke="#c7dcef" stroke-width="0.8" />
<text x="439.10" y="135.50" font-size="6.4" text-anchor="end" font-weight="normal" fill="#000" stroke="#000" stroke-width="0.14" textLength="7.1" lengthAdjust="spacingAndGlyphs" >12</text>
<rect x="441.80" y="126.85" width="1.20" height="3.50" fill="#1f77b4" />
<line x1="442.60" y1="126.85" x2="442.60" y2="130.35" stroke="#c7dcef" stroke-width="0.8" />
<text x="441.80" y="130.90" font-size="6.4" text-anchor="end" font-weight="normal" fill="#000" stroke="#000" stroke-width="0.14" textLength="3.5" lengthAdjust="spacingAndGlyphs" >6</text>
<rect x="442.00" y="122.25" width="1.00" height="3.50" fill="#1f77b4" />
<line x1="442.60" y1="122.25" x2="442.60" y2="125.75" stroke="#c7dcef" stroke-width="0.8" />
<text x="441.80" y="126.30" font-size="6.4" text-anchor="end" font-weight="normal" fill="#000" stroke="#000" stroke-width="0.14" textLength="3.5" lengthAdjust="spacingAndGlyphs" >5</text>
<rect x="442.60" y="117.65" width="0.40" height="3.50" fill="#1f77b4" />
<line x1="442.60" y1="117.65" x2="442.60" y2="121.15" stroke="#c7dcef" stroke-width="0.8" />
<text x="441.80" y="121.70" font-size="6.4" text-anchor="end" font-weight="normal" fill="#000" stroke="#000" stroke-width="0.14" textLength="3.5" lengthAdjust="spacingAndGlyphs" >2</text>
<rect x="442.40" y="113.05" width="0.60" height="3.50" fill="#1f77b4" />
<line x1="442.60" y1="113.05" x2="442.60" y2="116.55" stroke="#c7dcef" stroke-width="0.8" />
<text x="441.80" y="117.10" font-size="6.4" text-anchor="end" font-weight="normal" fill="#000" stroke="#000" stroke-width="0.14" textLength="3.5" lengthAdjust="spacingAndGlyphs" >3</text>
<rect x="442.80" y="108.45" width="0.20" height="3.50" fill="#1f77b4" />
<line x1="442.60" y1="108.45" x2="442.60" y2="111.95" stroke="#c7dcef" stroke-width="0.8" />
<text x="441.80" y="112.50" font-size="6.4" text-anchor="end" font-weight="normal" fill="#000" stroke="#000" stroke-width="0.14" textLength="3.5" lengthAdjust="spacingAndGlyphs" >1</text>
<rect x="442.60" y="103.85" width="0.40" height="3.50" fill="#1f77b4" />
<line x1="442.60" y1="103.85" x2="442.60" y2="107.35" stroke="#c7dcef" stroke-width="0.8" />
<text x="441.80" y="107.90" font-size="6.4" text-anchor="end" font-weight="normal" fill="#000" stroke="#000" stroke-width="0.14" textLength="3.5" lengthAdjust="spacingAndGlyphs" >2</text>
<rect x="442.20" y="99.25" width="0.80" height="3.50" fill="#1f77b4" />
<line x1="442.60" y1="99.25" x2="442.60" y2="102.75" stroke="#c7dcef" stroke-width="0.8" />
<text x="441.80" y="103.30" font-size="6.4" text-anchor="end" font-weight="normal" fill="#000" stroke="#000" stroke-width="0.14" textLength="3.5" lengthAdjust="spacingAndGlyphs" >4</text>
<rect x="442.80" y="94.65" width="0.20" height="3.50" fill="#1f77b4" />
<line x1="442.60" y1="94.65" x2="442.60" y2="98.15" stroke="#c7dcef" stroke-width="0.8" />
<text x="441.80" y="98.70" font-size="6.4" text-anchor="end" font-weight="normal" fill="#000" stroke="#000" stroke-width="0.14" textLength="3.5" lengthAdjust="spacingAndGlyphs" >1</text>
<line x1="442.60" y1="90.05" x2="442.60" y2="93.55" stroke="#c7dcef" stroke-width="0.8" />
<text x="441.80" y="94.10" font-size="6.4" text-anchor="end" font-weight="normal" fill="#000" stroke="#000" stroke-width="0.14" textLength="3.5" lengthAdjust="spacingAndGlyphs" >0</text>
<rect x="442.20" y="85.45" width="0.80" height="3.50" fill="#1f77b4" />
<line x1="442.60" y1="85.45" x2="442.60" y2="88.95" stroke="#c7dcef" stroke-width="0.8" />
<text x="441.80" y="89.50" font-size="6.4" text-anchor="end" font-weight="normal" fill="#000" stroke="#000" stroke-width="0.14" textLength="3.5" lengthAdjust="spacingAndGlyphs" >4</text>
<rect x="442.80" y="80.85" width="0.20" height="3.50" fill="#1f77b4" />
<line x1="442.60" y1="80.85" x2="442.60" y2="84.35" stroke="#c7dcef" stroke-width="0.8" />
<text x="441.80" y="84.90" font-size="6.4" text-anchor="end" font-weight="normal" fill="#000" stroke="#000" stroke-width="0.14" textLength="3.5" lengthAdjust="spacingAndGlyphs" >1</text>
<rect x="442.60" y="76.25" width="0.40" height="3.50" fill="#1f77b4" />
<line x1="442.60" y1="76.25" x2="442.60" y2="79.75" stroke="#c7dcef" stroke-width="0.8" />
<text x="441.80" y="80.30" font-size="6.4" text-anchor="end" font-weight="normal" fill="#000" stroke="#000" stroke-width="0.14" textLength="3.5" lengthAdjust="spacingAndGlyphs" >2</text>
<rect x="442.80" y="71.65" width="0.20" height="3.50" fill="#1f77b4" />
<line x1="442.60" y1="71.65" x2="442.60" y2="75.15" stroke="#c7dcef" stroke-width="0.8" />
<text x="441.80" y="75.70" font-size="6.4" text-anchor="end" font-weight="normal" fill="#000" stroke="#000" stroke-width="0.14" textLength="3.5" lengthAdjust="spacingAndGlyphs" >1</text>
<line x1="442.60" y1="67.05" x2="442.60" y2="70.55" stroke="#c7dcef" stroke-width="0.8" />
<text x="441.80" y="71.10" font-size="6.4" text-anchor="end" font-weight="normal" fill="#000" stroke="#000" stroke-width="0.14" textLength="3.5" lengthAdjust="spacingAndGlyphs" >0</text>
<rect x="442.80" y="62.45" width="0.20" height="3.50" fill="#1f77b4" />
<line x1="442.60" y1="62.45" x2="442.60" y2="65.95" stroke="#c7dcef" stroke-width="0.8" />
<text x="441.80" y="66.50" font-size="6.4" text-anchor="end" font-weight="normal" fill="#000" stroke="#000" stroke-width="0.14" textLength="3.5" lengthAdjust="spacingAndGlyphs" >1</text>
<rect x="442.80" y="57.85" width="0.20" height="3.50" fill="#1f77b4" />
<line x1="442.60" y1="57.85" x2="442.60" y2="61.35" stroke="#c7dcef" stroke-width="0.8" />
<text x="441.80" y="61.90" font-size="6.4" text-anchor="end" font-weight="normal" fill="#000" stroke="#000" stroke-width="0.14" textLength="3.5" lengthAdjust="spacingAndGlyphs" >1</text>
<line x1="442.60" y1="53.25" x2="442.60" y2="56.75" stroke="#c7dcef" stroke-width="0.8" />
<text x="441.80" y="57.30" font-size="6.4" text-anchor="end" font-weight="normal" fill="#000" stroke="#000" stroke-width="0.14" textLength="3.5" lengthAdjust="spacingAndGlyphs" >0</text>
<line x1="442.60" y1="48.65" x2="442.60" y2="52.15" stroke="#c7dcef" stroke-width="0.8" />
<text x="441.80" y="52.70" font-size="6.4" text-anchor="end" font-weight="normal" fill="#000" stroke="#000" stroke-width="0.14" textLength="3.5" lengthAdjust="spacingAndGlyphs" >0</text>
<line x1="442.60" y1="44.05" x2="442.60" y2="47.55" stroke="#c7dcef" stroke-width="0.8" />
<text x="441.80" y="48.10" font-size="6.4" text-anchor="end" font-weight="normal" fill="#000" stroke="#000" stroke-width="0.14" textLength="3.5" lengthAdjust="spacingAndGlyphs" >0</text>
<line x1="442.60" y1="39.45" x2="442.60" y2="42.95" stroke="#c7dcef" stroke-width="0.8" />
<text x="441.80" y="43.50" font-size="6.4" text-anchor="end" font-weight="normal" fill="#000" stroke="#000" stroke-width="0.14" textLength="3.5" lengthAdjust="spacingAndGlyphs" >0</text>
<line x1="442.60" y1="34.85" x2="442.60" y2="38.35" stroke="#c7dcef" stroke-width="0.8" />
<text x="441.80" y="38.90" font-size="6.4" text-anchor="end" font-weight="normal" fill="#000" stroke="#000" stroke-width="0.14" textLength="3.5" lengthAdjust="spacingAndGlyphs" >0</text>
<line x1="442.60" y1="30.25" x2="442.60" y2="33.75" stroke="#c7dcef" stroke-width="0.8" />
<text x="441.80" y="34.30" font-size="6.4" text-anchor="end" font-weight="normal" fill="#000" stroke="#000" stroke-width="0.14" textLength="3.5" lengthAdjust="spacingAndGlyphs" >0</text>
<line x1="442.60" y1="25.65" x2="442.60" y2="29.15" stroke="#c7dcef" stroke-width="0.8" />
<text x="441.80" y="29.70" font-size="6.4" text-anchor="end" font-weight="normal" fill="#000" stroke="#000" stroke-width="0.14" textLength="3.5" lengthAdjust="spacingAndGlyphs" >0</text>
<rect x="442.80" y="21.05" width="0.20" height="3.50" fill="#1f77b4" />
<line x1="442.60" y1="21.05" x2="442.60" y2="24.55" stroke="#c7dcef" stroke-width="0.8" />
<text x="441.80" y="25.10" font-size="6.4" text-anchor="end" font-weight="normal" fill="#000" stroke="#000" stroke-width="0.14" textLength="3.5" lengthAdjust="spacingAndGlyphs" >1</text>
<line x1="442.60" y1="16.45" x2="442.60" y2="19.95" stroke="#c7dcef" stroke-width="0.8" />
<text x="441.80" y="20.50" font-size="6.4" text-anchor="end" font-weight="normal" fill="#000" stroke="#000" stroke-width="0.14" textLength="3.5" lengthAdjust="spacingAndGlyphs" >0</text>
<line x1="442.60" y1="11.85" x2="442.60" y2="15.35" stroke="#c7dcef" stroke-width="0.8" />
<text x="441.80" y="15.90" font-size="6.4" text-anchor="end" font-weight="normal" fill="#000" stroke="#000" stroke-width="0.14" textLength="3.5" lengthAdjust="spacingAndGlyphs" >0</text>
<rect x="442.80" y="7.25" width="0.20" height="3.50" fill="#1f77b4" />
<line x1="442.60" y1="7.25" x2="442.60" y2="10.75" stroke="#c7dcef" stroke-width="0.8" />
<text x="441.80" y="11.30" font-size="6.4" text-anchor="end" font-weight="normal" fill="#000" stroke="#000" stroke-width="0.14" textLength="3.5" lengthAdjust="spacingAndGlyphs" >1</text>
<line x1="408.50" y1="184.10" x2="443.30" y2="184.10" stroke="#8a8a8a" stroke-width="0.8" />
<line x1="422.60" y1="184.10" x2="422.60" y2="185.60" stroke="#333" stroke-width="0.6" />
<line x1="442.50" y1="184.10" x2="442.50" y2="185.60" stroke="#333" stroke-width="0.6" />
<text x="422.60" y="192.10" font-size="6.6" text-anchor="middle" font-weight="normal" fill="#000" stroke="#000" stroke-width="0.14" >100</text>
<text x="442.20" y="192.10" font-size="6.6" text-anchor="middle" font-weight="normal" fill="#000" stroke="#000" stroke-width="0.14" >0</text>
<rect x="409.20" y="322.55" width="33.80" height="3.90" fill="#1f77b4" />
<line x1="442.60" y1="322.55" x2="442.60" y2="326.45" stroke="#c7dcef" stroke-width="0.8" />
<text x="407.70" y="326.80" font-size="6.4" text-anchor="end" font-weight="normal" fill="#000" stroke="#000" stroke-width="0.14" textLength="10.6" lengthAdjust="spacingAndGlyphs" >169</text>
<rect x="427.00" y="317.58" width="16.00" height="3.90" fill="#1f77b4" />
<line x1="442.60" y1="317.58" x2="442.60" y2="321.48" stroke="#c7dcef" stroke-width="0.8" />
<text x="425.50" y="321.83" font-size="6.4" text-anchor="end" font-weight="normal" fill="#000" stroke="#000" stroke-width="0.14" textLength="7.1" lengthAdjust="spacingAndGlyphs" >80</text>
<rect x="437.60" y="312.61" width="5.40" height="3.90" fill="#1f77b4" />
<line x1="442.60" y1="312.61" x2="442.60" y2="316.51" stroke="#c7dcef" stroke-width="0.8" />
<text x="436.10" y="316.86" font-size="6.4" text-anchor="end" font-weight="normal" fill="#000" stroke="#000" stroke-width="0.14" textLength="7.1" lengthAdjust="spacingAndGlyphs" >27</text>
<rect x="439.80" y="307.64" width="3.20" height="3.90" fill="#1f77b4" />
<line x1="442.60" y1="307.64" x2="442.60" y2="311.54" stroke="#c7dcef" stroke-width="0.8" />
<text x="438.30" y="311.89" font-size="6.4" text-anchor="end" font-weight="normal" fill="#000" stroke="#000" stroke-width="0.14" textLength="7.1" lengthAdjust="spacingAndGlyphs" >16</text>
<rect x="441.00" y="302.67" width="2.00" height="3.90" fill="#1f77b4" />
<line x1="442.60" y1="302.67" x2="442.60" y2="306.57" stroke="#c7dcef" stroke-width="0.8" />
<text x="441.80" y="306.92" font-size="6.4" text-anchor="end" font-weight="normal" fill="#000" stroke="#000" stroke-width="0.14" textLength="7.1" lengthAdjust="spacingAndGlyphs" >10</text>
<rect x="441.60" y="297.70" width="1.40" height="3.90" fill="#1f77b4" />
<line x1="442.60" y1="297.70" x2="442.60" y2="301.60" stroke="#c7dcef" stroke-width="0.8" />
<text x="441.80" y="301.95" font-size="6.4" text-anchor="end" font-weight="normal" fill="#000" stroke="#000" stroke-width="0.14" textLength="3.5" lengthAdjust="spacingAndGlyphs" >7</text>
<rect x="441.80" y="292.73" width="1.20" height="3.90" fill="#1f77b4" />
<line x1="442.60" y1="292.73" x2="442.60" y2="296.63" stroke="#c7dcef" stroke-width="0.8" />
<text x="441.80" y="296.98" font-size="6.4" text-anchor="end" font-weight="normal" fill="#000" stroke="#000" stroke-width="0.14" textLength="3.5" lengthAdjust="spacingAndGlyphs" >6</text>
<rect x="442.20" y="287.76" width="0.80" height="3.90" fill="#1f77b4" />
<line x1="442.60" y1="287.76" x2="442.60" y2="291.66" stroke="#c7dcef" stroke-width="0.8" />
<text x="441.80" y="292.01" font-size="6.4" text-anchor="end" font-weight="normal" fill="#000" stroke="#000" stroke-width="0.14" textLength="3.5" lengthAdjust="spacingAndGlyphs" >4</text>
<rect x="442.40" y="282.79" width="0.60" height="3.90" fill="#1f77b4" />
<line x1="442.60" y1="282.79" x2="442.60" y2="286.69" stroke="#c7dcef" stroke-width="0.8" />
<text x="441.80" y="287.04" font-size="6.4" text-anchor="end" font-weight="normal" fill="#000" stroke="#000" stroke-width="0.14" textLength="3.5" lengthAdjust="spacingAndGlyphs" >3</text>
<rect x="442.20" y="277.82" width="0.80" height="3.90" fill="#1f77b4" />
<line x1="442.60" y1="277.82" x2="442.60" y2="281.72" stroke="#c7dcef" stroke-width="0.8" />
<text x="441.80" y="282.07" font-size="6.4" text-anchor="end" font-weight="normal" fill="#000" stroke="#000" stroke-width="0.14" textLength="3.5" lengthAdjust="spacingAndGlyphs" >4</text>
<rect x="442.60" y="272.85" width="0.40" height="3.90" fill="#1f77b4" />
<line x1="442.60" y1="272.85" x2="442.60" y2="276.75" stroke="#c7dcef" stroke-width="0.8" />
<text x="441.80" y="277.10" font-size="6.4" text-anchor="end" font-weight="normal" fill="#000" stroke="#000" stroke-width="0.14" textLength="3.5" lengthAdjust="spacingAndGlyphs" >2</text>
<line x1="442.60" y1="267.88" x2="442.60" y2="271.78" stroke="#c7dcef" stroke-width="0.8" />
<text x="441.80" y="272.13" font-size="6.4" text-anchor="end" font-weight="normal" fill="#000" stroke="#000" stroke-width="0.14" textLength="3.5" lengthAdjust="spacingAndGlyphs" >0</text>
<rect x="442.60" y="262.91" width="0.40" height="3.90" fill="#1f77b4" />
<line x1="442.60" y1="262.91" x2="442.60" y2="266.81" stroke="#c7dcef" stroke-width="0.8" />
<text x="441.80" y="267.16" font-size="6.4" text-anchor="end" font-weight="normal" fill="#000" stroke="#000" stroke-width="0.14" textLength="3.5" lengthAdjust="spacingAndGlyphs" >2</text>
<rect x="442.60" y="257.94" width="0.40" height="3.90" fill="#1f77b4" />
<line x1="442.60" y1="257.94" x2="442.60" y2="261.84" stroke="#c7dcef" stroke-width="0.8" />
<text x="441.80" y="262.19" font-size="6.4" text-anchor="end" font-weight="normal" fill="#000" stroke="#000" stroke-width="0.14" textLength="3.5" lengthAdjust="spacingAndGlyphs" >2</text>
<line x1="442.60" y1="252.97" x2="442.60" y2="256.87" stroke="#c7dcef" stroke-width="0.8" />
<text x="441.80" y="257.22" font-size="6.4" text-anchor="end" font-weight="normal" fill="#000" stroke="#000" stroke-width="0.14" textLength="3.5" lengthAdjust="spacingAndGlyphs" >0</text>
<line x1="442.60" y1="248.00" x2="442.60" y2="251.90" stroke="#c7dcef" stroke-width="0.8" />
<text x="441.80" y="252.25" font-size="6.4" text-anchor="end" font-weight="normal" fill="#000" stroke="#000" stroke-width="0.14" textLength="3.5" lengthAdjust="spacingAndGlyphs" >0</text>
<line x1="442.60" y1="243.03" x2="442.60" y2="246.93" stroke="#c7dcef" stroke-width="0.8" />
<text x="441.80" y="247.28" font-size="6.4" text-anchor="end" font-weight="normal" fill="#000" stroke="#000" stroke-width="0.14" textLength="3.5" lengthAdjust="spacingAndGlyphs" >0</text>
<line x1="442.60" y1="238.06" x2="442.60" y2="241.96" stroke="#c7dcef" stroke-width="0.8" />
<text x="441.80" y="242.31" font-size="6.4" text-anchor="end" font-weight="normal" fill="#000" stroke="#000" stroke-width="0.14" textLength="3.5" lengthAdjust="spacingAndGlyphs" >0</text>
<line x1="442.60" y1="233.09" x2="442.60" y2="236.99" stroke="#c7dcef" stroke-width="0.8" />
<text x="441.80" y="237.34" font-size="6.4" text-anchor="end" font-weight="normal" fill="#000" stroke="#000" stroke-width="0.14" textLength="3.5" lengthAdjust="spacingAndGlyphs" >0</text>
<rect x="442.80" y="228.12" width="0.20" height="3.90" fill="#1f77b4" />
<line x1="442.60" y1="228.12" x2="442.60" y2="232.02" stroke="#c7dcef" stroke-width="0.8" />
<text x="441.80" y="232.37" font-size="6.4" text-anchor="end" font-weight="normal" fill="#000" stroke="#000" stroke-width="0.14" textLength="3.5" lengthAdjust="spacingAndGlyphs" >1</text>
<line x1="408.50" y1="331.40" x2="443.30" y2="331.40" stroke="#8a8a8a" stroke-width="0.8" />
<line x1="422.60" y1="331.40" x2="422.60" y2="332.90" stroke="#333" stroke-width="0.6" />
<line x1="442.50" y1="331.40" x2="442.50" y2="332.90" stroke="#333" stroke-width="0.6" />
<text x="422.60" y="339.40" font-size="6.6" text-anchor="middle" font-weight="normal" fill="#000" stroke="#000" stroke-width="0.14" >100</text>
<text x="442.20" y="339.40" font-size="6.6" text-anchor="middle" font-weight="normal" fill="#000" stroke="#000" stroke-width="0.14" >0</text>
<text transform="translate(455.6,92.0) rotate(-90)" font-size="6.75" text-anchor="middle" fill="#000" stroke="#000" stroke-width="0.14">Number of Clusters Identified as</text>
<text transform="translate(464.3,92.0) rotate(-90)" font-size="6.75" text-anchor="middle" fill="#000" stroke="#000" stroke-width="0.14">Oscillating for the Gene</text>
<text transform="translate(455.6,276.0) rotate(-90)" font-size="6.75" text-anchor="middle" fill="#000" stroke="#000" stroke-width="0.14">Number of Clusters Identified as</text>
<text transform="translate(464.3,276.0) rotate(-90)" font-size="6.75" text-anchor="middle" fill="#000" stroke="#000" stroke-width="0.14">Oscillating for the Gene</text>
<line x1="479.40" y1="0.00" x2="479.40" y2="184.10" stroke="#8a8a8a" stroke-width="0.8" />
<line x1="479.00" y1="184.10" x2="685.00" y2="184.10" stroke="#8a8a8a" stroke-width="0.8" />
<line x1="477.60" y1="176.40" x2="479.40" y2="176.40" stroke="#333" stroke-width="0.5" />
<text x="477.20" y="179.30" font-size="6.4" text-anchor="end" font-weight="normal" fill="#000" stroke="#000" stroke-width="0.14" textLength="3.4" lengthAdjust="spacingAndGlyphs" >1</text>
<line x1="477.60" y1="171.76" x2="479.40" y2="171.76" stroke="#333" stroke-width="0.5" />
<text x="477.20" y="174.66" font-size="6.4" text-anchor="end" font-weight="normal" fill="#000" stroke="#000" stroke-width="0.14" textLength="3.4" lengthAdjust="spacingAndGlyphs" >2</text>
<line x1="477.60" y1="167.12" x2="479.40" y2="167.12" stroke="#333" stroke-width="0.5" />
<text x="477.20" y="170.02" font-size="6.4" text-anchor="end" font-weight="normal" fill="#000" stroke="#000" stroke-width="0.14" textLength="3.4" lengthAdjust="spacingAndGlyphs" >3</text>
<line x1="477.60" y1="162.48" x2="479.40" y2="162.48" stroke="#333" stroke-width="0.5" />
<text x="477.20" y="165.38" font-size="6.4" text-anchor="end" font-weight="normal" fill="#000" stroke="#000" stroke-width="0.14" textLength="3.4" lengthAdjust="spacingAndGlyphs" >4</text>
<line x1="477.60" y1="157.84" x2="479.40" y2="157.84" stroke="#333" stroke-width="0.5" />
<text x="477.20" y="160.74" font-size="6.4" text-anchor="end" font-weight="normal" fill="#000" stroke="#000" stroke-width="0.14" textLength="3.4" lengthAdjust="spacingAndGlyphs" >5</text>
<line x1="477.60" y1="153.20" x2="479.40" y2="153.20" stroke="#333" stroke-width="0.5" />
<text x="477.20" y="156.10" font-size="6.4" text-anchor="end" font-weight="normal" fill="#000" stroke="#000" stroke-width="0.14" textLength="3.4" lengthAdjust="spacingAndGlyphs" >6</text>
<line x1="477.60" y1="148.56" x2="479.40" y2="148.56" stroke="#333" stroke-width="0.5" />
<text x="477.20" y="151.46" font-size="6.4" text-anchor="end" font-weight="normal" fill="#000" stroke="#000" stroke-width="0.14" textLength="3.4" lengthAdjust="spacingAndGlyphs" >7</text>
<line x1="477.60" y1="143.92" x2="479.40" y2="143.92" stroke="#333" stroke-width="0.5" />
<text x="477.20" y="146.82" font-size="6.4" text-anchor="end" font-weight="normal" fill="#000" stroke="#000" stroke-width="0.14" textLength="3.4" lengthAdjust="spacingAndGlyphs" >8</text>
<line x1="477.60" y1="139.28" x2="479.40" y2="139.28" stroke="#333" stroke-width="0.5" />
<text x="477.20" y="142.18" font-size="6.4" text-anchor="end" font-weight="normal" fill="#000" stroke="#000" stroke-width="0.14" textLength="3.4" lengthAdjust="spacingAndGlyphs" >9</text>
<line x1="477.60" y1="134.64" x2="479.40" y2="134.64" stroke="#333" stroke-width="0.5" />
<text x="477.20" y="137.54" font-size="6.4" text-anchor="end" font-weight="normal" fill="#000" stroke="#000" stroke-width="0.14" textLength="6.8" lengthAdjust="spacingAndGlyphs" >10</text>
<line x1="477.60" y1="130.00" x2="479.40" y2="130.00" stroke="#333" stroke-width="0.5" />
<text x="477.20" y="132.90" font-size="6.4" text-anchor="end" font-weight="normal" fill="#000" stroke="#000" stroke-width="0.14" textLength="6.8" lengthAdjust="spacingAndGlyphs" >11</text>
<line x1="477.60" y1="125.36" x2="479.40" y2="125.36" stroke="#333" stroke-width="0.5" />
<text x="477.20" y="128.26" font-size="6.4" text-anchor="end" font-weight="normal" fill="#000" stroke="#000" stroke-width="0.14" textLength="6.8" lengthAdjust="spacingAndGlyphs" >12</text>
<line x1="477.60" y1="120.72" x2="479.40" y2="120.72" stroke="#333" stroke-width="0.5" />
<text x="477.20" y="123.62" font-size="6.4" text-anchor="end" font-weight="normal" fill="#000" stroke="#000" stroke-width="0.14" textLength="6.8" lengthAdjust="spacingAndGlyphs" >13</text>
<line x1="477.60" y1="116.08" x2="479.40" y2="116.08" stroke="#333" stroke-width="0.5" />
<text x="477.20" y="118.98" font-size="6.4" text-anchor="end" font-weight="normal" fill="#000" stroke="#000" stroke-width="0.14" textLength="6.8" lengthAdjust="spacingAndGlyphs" >14</text>
<line x1="477.60" y1="111.44" x2="479.40" y2="111.44" stroke="#333" stroke-width="0.5" />
<text x="477.20" y="114.34" font-size="6.4" text-anchor="end" font-weight="normal" fill="#000" stroke="#000" stroke-width="0.14" textLength="6.8" lengthAdjust="spacingAndGlyphs" >15</text>
<line x1="477.60" y1="106.80" x2="479.40" y2="106.80" stroke="#333" stroke-width="0.5" />
<text x="477.20" y="109.70" font-size="6.4" text-anchor="end" font-weight="normal" fill="#000" stroke="#000" stroke-width="0.14" textLength="6.8" lengthAdjust="spacingAndGlyphs" >16</text>
<line x1="477.60" y1="102.16" x2="479.40" y2="102.16" stroke="#333" stroke-width="0.5" />
<text x="477.20" y="105.06" font-size="6.4" text-anchor="end" font-weight="normal" fill="#000" stroke="#000" stroke-width="0.14" textLength="6.8" lengthAdjust="spacingAndGlyphs" >17</text>
<line x1="477.60" y1="97.52" x2="479.40" y2="97.52" stroke="#333" stroke-width="0.5" />
<text x="477.20" y="100.42" font-size="6.4" text-anchor="end" font-weight="normal" fill="#000" stroke="#000" stroke-width="0.14" textLength="6.8" lengthAdjust="spacingAndGlyphs" >18</text>
<line x1="477.60" y1="92.88" x2="479.40" y2="92.88" stroke="#333" stroke-width="0.5" />
<text x="477.20" y="95.78" font-size="6.4" text-anchor="end" font-weight="normal" fill="#000" stroke="#000" stroke-width="0.14" textLength="6.8" lengthAdjust="spacingAndGlyphs" >19</text>
<line x1="477.60" y1="88.24" x2="479.40" y2="88.24" stroke="#333" stroke-width="0.5" />
<text x="477.20" y="91.14" font-size="6.4" text-anchor="end" font-weight="normal" fill="#000" stroke="#000" stroke-width="0.14" textLength="6.8" lengthAdjust="spacingAndGlyphs" >20</text>
<line x1="477.60" y1="83.60" x2="479.40" y2="83.60" stroke="#333" stroke-width="0.5" />
<text x="477.20" y="86.50" font-size="6.4" text-anchor="end" font-weight="normal" fill="#000" stroke="#000" stroke-width="0.14" textLength="6.8" lengthAdjust="spacingAndGlyphs" >21</text>
<line x1="477.60" y1="78.96" x2="479.40" y2="78.96" stroke="#333" stroke-width="0.5" />
<text x="477.20" y="81.86" font-size="6.4" text-anchor="end" font-weight="normal" fill="#000" stroke="#000" stroke-width="0.14" textLength="6.8" lengthAdjust="spacingAndGlyphs" >22</text>
<line x1="477.60" y1="74.32" x2="479.40" y2="74.32" stroke="#333" stroke-width="0.5" />
<text x="477.20" y="77.22" font-size="6.4" text-anchor="end" font-weight="normal" fill="#000" stroke="#000" stroke-width="0.14" textLength="6.8" lengthAdjust="spacingAndGlyphs" >23</text>
<line x1="477.60" y1="69.68" x2="479.40" y2="69.68" stroke="#333" stroke-width="0.5" />
<text x="477.20" y="72.58" font-size="6.4" text-anchor="end" font-weight="normal" fill="#000" stroke="#000" stroke-width="0.14" textLength="6.8" lengthAdjust="spacingAndGlyphs" >24</text>
<line x1="477.60" y1="65.04" x2="479.40" y2="65.04" stroke="#333" stroke-width="0.5" />
<text x="477.20" y="67.94" font-size="6.4" text-anchor="end" font-weight="normal" fill="#000" stroke="#000" stroke-width="0.14" textLength="6.8" lengthAdjust="spacingAndGlyphs" >25</text>
<line x1="477.60" y1="60.40" x2="479.40" y2="60.40" stroke="#333" stroke-width="0.5" />
<text x="477.20" y="63.30" font-size="6.4" text-anchor="end" font-weight="normal" fill="#000" stroke="#000" stroke-width="0.14" textLength="6.8" lengthAdjust="spacingAndGlyphs" >26</text>
<line x1="477.60" y1="55.76" x2="479.40" y2="55.76" stroke="#333" stroke-width="0.5" />
<text x="477.20" y="58.66" font-size="6.4" text-anchor="end" font-weight="normal" fill="#000" stroke="#000" stroke-width="0.14" textLength="6.8" lengthAdjust="spacingAndGlyphs" >27</text>
<line x1="477.60" y1="51.12" x2="479.40" y2="51.12" stroke="#333" stroke-width="0.5" />
<text x="477.20" y="54.02" font-size="6.4" text-anchor="end" font-weight="normal" fill="#000" stroke="#000" stroke-width="0.14" textLength="6.8" lengthAdjust="spacingAndGlyphs" >28</text>
<line x1="477.60" y1="46.48" x2="479.40" y2="46.48" stroke="#333" stroke-width="0.5" />
<text x="477.20" y="49.38" font-size="6.4" text-anchor="end" font-weight="normal" fill="#000" stroke="#000" stroke-width="0.14" textLength="6.8" lengthAdjust="spacingAndGlyphs" >29</text>
<line x1="477.60" y1="41.84" x2="479.40" y2="41.84" stroke="#333" stroke-width="0.5" />
<text x="477.20" y="44.74" font-size="6.4" text-anchor="end" font-weight="normal" fill="#000" stroke="#000" stroke-width="0.14" textLength="6.8" lengthAdjust="spacingAndGlyphs" >30</text>
<line x1="477.60" y1="37.20" x2="479.40" y2="37.20" stroke="#333" stroke-width="0.5" />
<text x="477.20" y="40.10" font-size="6.4" text-anchor="end" font-weight="normal" fill="#000" stroke="#000" stroke-width="0.14" textLength="6.8" lengthAdjust="spacingAndGlyphs" >31</text>
<line x1="477.60" y1="32.56" x2="479.40" y2="32.56" stroke="#333" stroke-width="0.5" />
<text x="477.20" y="35.46" font-size="6.4" text-anchor="end" font-weight="normal" fill="#000" stroke="#000" stroke-width="0.14" textLength="6.8" lengthAdjust="spacingAndGlyphs" >32</text>
<line x1="477.60" y1="27.92" x2="479.40" y2="27.92" stroke="#333" stroke-width="0.5" />
<text x="477.20" y="30.82" font-size="6.4" text-anchor="end" font-weight="normal" fill="#000" stroke="#000" stroke-width="0.14" textLength="6.8" lengthAdjust="spacingAndGlyphs" >33</text>
<line x1="477.60" y1="23.28" x2="479.40" y2="23.28" stroke="#333" stroke-width="0.5" />
<text x="477.20" y="26.18" font-size="6.4" text-anchor="end" font-weight="normal" fill="#000" stroke="#000" stroke-width="0.14" textLength="6.8" lengthAdjust="spacingAndGlyphs" >34</text>
<line x1="477.60" y1="18.64" x2="479.40" y2="18.64" stroke="#333" stroke-width="0.5" />
<text x="477.20" y="21.54" font-size="6.4" text-anchor="end" font-weight="normal" fill="#000" stroke="#000" stroke-width="0.14" textLength="6.8" lengthAdjust="spacingAndGlyphs" >35</text>
<line x1="477.60" y1="14.00" x2="479.40" y2="14.00" stroke="#333" stroke-width="0.5" />
<text x="477.20" y="16.90" font-size="6.4" text-anchor="end" font-weight="normal" fill="#000" stroke="#000" stroke-width="0.14" textLength="6.8" lengthAdjust="spacingAndGlyphs" >36</text>
<line x1="477.60" y1="9.36" x2="479.40" y2="9.36" stroke="#333" stroke-width="0.5" />
<text x="477.20" y="12.26" font-size="6.4" text-anchor="end" font-weight="normal" fill="#000" stroke="#000" stroke-width="0.14" textLength="6.8" lengthAdjust="spacingAndGlyphs" >37</text>
<line x1="482.70" y1="184.10" x2="482.70" y2="186.60" stroke="#333" stroke-width="0.5" />
<line x1="500.25" y1="184.10" x2="500.25" y2="185.80" stroke="#333" stroke-width="0.5" />
<line x1="510.52" y1="184.10" x2="510.52" y2="185.80" stroke="#333" stroke-width="0.5" />
<line x1="517.80" y1="184.10" x2="517.80" y2="185.80" stroke="#333" stroke-width="0.5" />
<line x1="523.45" y1="184.10" x2="523.45" y2="185.80" stroke="#333" stroke-width="0.5" />
<line x1="528.07" y1="184.10" x2="528.07" y2="185.80" stroke="#333" stroke-width="0.5" />
<line x1="531.97" y1="184.10" x2="531.97" y2="185.80" stroke="#333" stroke-width="0.5" />
<line x1="535.35" y1="184.10" x2="535.35" y2="185.80" stroke="#333" stroke-width="0.5" />
<line x1="538.33" y1="184.10" x2="538.33" y2="185.80" stroke="#333" stroke-width="0.5" />
<line x1="541.00" y1="184.10" x2="541.00" y2="186.60" stroke="#333" stroke-width="0.5" />
<line x1="558.55" y1="184.10" x2="558.55" y2="185.80" stroke="#333" stroke-width="0.5" />
<line x1="568.82" y1="184.10" x2="568.82" y2="185.80" stroke="#333" stroke-width="0.5" />
<line x1="576.10" y1="184.10" x2="576.10" y2="185.80" stroke="#333" stroke-width="0.5" />
<line x1="581.75" y1="184.10" x2="581.75" y2="185.80" stroke="#333" stroke-width="0.5" />
<line x1="586.37" y1="184.10" x2="586.37" y2="185.80" stroke="#333" stroke-width="0.5" />
<line x1="590.27" y1="184.10" x2="590.27" y2="185.80" stroke="#333" stroke-width="0.5" />
<line x1="593.65" y1="184.10" x2="593.65" y2="185.80" stroke="#333" stroke-width="0.5" />
<line x1="596.63" y1="184.10" x2="596.63" y2="185.80" stroke="#333" stroke-width="0.5" />
<line x1="599.30" y1="184.10" x2="599.30" y2="186.60" stroke="#333" stroke-width="0.5" />
<line x1="616.85" y1="184.10" x2="616.85" y2="185.80" stroke="#333" stroke-width="0.5" />
<line x1="627.12" y1="184.10" x2="627.12" y2="185.80" stroke="#333" stroke-width="0.5" />
<line x1="634.40" y1="184.10" x2="634.40" y2="185.80" stroke="#333" stroke-width="0.5" />
<line x1="640.05" y1="184.10" x2="640.05" y2="185.80" stroke="#333" stroke-width="0.5" />
<line x1="644.67" y1="184.10" x2="644.67" y2="185.80" stroke="#333" stroke-width="0.5" />
<line x1="648.57" y1="184.10" x2="648.57" y2="185.80" stroke="#333" stroke-width="0.5" />
<line x1="651.95" y1="184.10" x2="651.95" y2="185.80" stroke="#333" stroke-width="0.5" />
<line x1="654.93" y1="184.10" x2="654.93" y2="185.80" stroke="#333" stroke-width="0.5" />
<line x1="657.60" y1="184.10" x2="657.60" y2="186.60" stroke="#333" stroke-width="0.5" />
<line x1="675.15" y1="184.10" x2="675.15" y2="185.80" stroke="#333" stroke-width="0.5" />
<text x="483.50" y="197.60" font-size="6.6" text-anchor="end" font-weight="normal" fill="#000" stroke="#000" stroke-width="0.14" >10</text>
<text x="483.60" y="192.30" font-size="6.0" text-anchor="start" font-weight="normal" fill="#000" stroke="#000" stroke-width="0.14" >-1</text>
<text x="541.80" y="197.60" font-size="6.6" text-anchor="end" font-weight="normal" fill="#000" stroke="#000" stroke-width="0.14" >10</text>
<text x="541.90" y="192.30" font-size="6.0" text-anchor="start" font-weight="normal" fill="#000" stroke="#000" stroke-width="0.14" >0</text>
<text x="600.10" y="197.60" font-size="6.6" text-anchor="end" font-weight="normal" fill="#000" stroke="#000" stroke-width="0.14" >10</text>
<text x="600.20" y="192.30" font-size="6.0" text-anchor="start" font-weight="normal" fill="#000" stroke="#000" stroke-width="0.14" >1</text>
<text x="658.40" y="197.60" font-size="6.6" text-anchor="end" font-weight="normal" fill="#000" stroke="#000" stroke-width="0.14" >10</text>
<text x="658.50" y="192.30" font-size="6.0" text-anchor="start" font-weight="normal" fill="#000" stroke="#000" stroke-width="0.14" >2</text>
<text x="581.40" y="203.90" font-size="6.8" text-anchor="middle" font-weight="normal" fill="#000" stroke="#000" stroke-width="0.14" >CPM of Pseudo bulk data</text>
<text x="577.30" y="4.50" font-size="6.6" text-anchor="middle" font-weight="normal" fill="#000" stroke="#000" stroke-width="0.14" >48-hour dataset</text>
<text x="577.30" y="12.90" font-size="6.6" text-anchor="middle" font-weight="normal" fill="#000" stroke="#000" stroke-width="0.14" >Transcription Factors</text>
<circle cx="489.90" cy="24.20" r="1.1" fill="#b3d6e6" />
<text x="494.40" y="26.60" font-size="6.8" text-anchor="start" font-weight="normal" fill="#000" stroke="#000" stroke-width="0.14" >Other TF</text>
<circle cx="489.90" cy="33.80" r="1.1" fill="#1414e6" />
<text x="494.40" y="36.20" font-size="6.8" text-anchor="start" font-weight="normal" fill="#000" stroke="#000" stroke-width="0.14" >Core clock gene</text>
<circle cx="489.90" cy="43.40" r="1.1" fill="#f0143c" />
<text x="494.40" y="45.80" font-size="6.8" text-anchor="start" font-weight="normal" fill="#000" stroke="#000" stroke-width="0.14" >ABF1</text>
<circle cx="554.80" cy="176.40" r="1.0" fill="#b3d6e6" />
<circle cx="556.70" cy="176.40" r="1.0" fill="#b3d6e6" />
<circle cx="558.60" cy="176.40" r="1.0" fill="#b3d6e6" />
<circle cx="560.50" cy="176.40" r="1.0" fill="#b3d6e6" />
<circle cx="562.40" cy="176.40" r="1.0" fill="#b3d6e6" />
<circle cx="564.30" cy="176.40" r="1.0" fill="#b3d6e6" />
<circle cx="566.20" cy="176.40" r="1.0" fill="#b3d6e6" />
<circle cx="568.10" cy="176.40" r="1.0" fill="#b3d6e6" />
<circle cx="570.00" cy="176.40" r="1.0" fill="#b3d6e6" />
<circle cx="571.90" cy="176.40" r="1.0" fill="#b3d6e6" />
<circle cx="573.80" cy="176.40" r="1.0" fill="#b3d6e6" />
<circle cx="575.70" cy="176.40" r="1.0" fill="#b3d6e6" />
<circle cx="577.60" cy="176.40" r="1.0" fill="#b3d6e6" />
<circle cx="579.50" cy="176.40" r="1.0" fill="#b3d6e6" />
<circle cx="581.40" cy="176.40" r="1.0" fill="#b3d6e6" />
<circle cx="583.30" cy="176.40" r="1.0" fill="#b3d6e6" />
<circle cx="585.20" cy="176.40" r="1.0" fill="#b3d6e6" />
<circle cx="587.10" cy="176.40" r="1.0" fill="#b3d6e6" />
<circle cx="589.00" cy="176.40" r="1.0" fill="#b3d6e6" />
<circle cx="590.90" cy="176.40" r="1.0" fill="#b3d6e6" />
<circle cx="592.80" cy="176.40" r="1.0" fill="#b3d6e6" />
<circle cx="594.70" cy="176.40" r="1.0" fill="#b3d6e6" />
<circle cx="596.60" cy="176.40" r="1.0" fill="#b3d6e6" />
<circle cx="598.50" cy="176.40" r="1.0" fill="#b3d6e6" />
<circle cx="600.40" cy="176.40" r="1.0" fill="#b3d6e6" />
<circle cx="602.30" cy="176.40" r="1.0" fill="#b3d6e6" />
<circle cx="604.20" cy="176.40" r="1.0" fill="#b3d6e6" />
<circle cx="606.10" cy="176.40" r="1.0" fill="#b3d6e6" />
<circle cx="608.00" cy="176.40" r="1.0" fill="#b3d6e6" />
<circle cx="609.90" cy="176.40" r="1.0" fill="#b3d6e6" />
<circle cx="611.80" cy="176.40" r="1.0" fill="#b3d6e6" />
<circle cx="613.70" cy="176.40" r="1.0" fill="#b3d6e6" />
<circle cx="615.60" cy="176.40" r="1.0" fill="#b3d6e6" />
<circle cx="617.50" cy="176.40" r="1.0" fill="#b3d6e6" />
<circle cx="619.40" cy="176.40" r="1.0" fill="#b3d6e6" />
<circle cx="621.30" cy="176.40" r="1.0" fill="#b3d6e6" />
<circle cx="623.20" cy="176.40" r="1.0" fill="#b3d6e6" />
<circle cx="625.10" cy="176.40" r="1.0" fill="#b3d6e6" />
<circle cx="627.00" cy="176.40" r="1.0" fill="#b3d6e6" />
<circle cx="628.90" cy="176.40" r="1.0" fill="#b3d6e6" />
<circle cx="630.80" cy="176.40" r="1.0" fill="#b3d6e6" />
<circle cx="632.70" cy="176.40" r="1.0" fill="#b3d6e6" />
<circle cx="634.60" cy="176.40" r="1.0" fill="#b3d6e6" />
<circle cx="636.50" cy="176.40" r="1.0" fill="#b3d6e6" />
<circle cx="638.40" cy="176.40" r="1.0" fill="#b3d6e6" />
<circle cx="640.30" cy="176.40" r="1.0" fill="#b3d6e6" />
<circle cx="642.20" cy="176.40" r="1.0" fill="#b3d6e6" />
<circle cx="489.00" cy="176.40" r="1.0" fill="#b3d6e6" />
<circle cx="529.40" cy="176.40" r="1.0" fill="#b3d6e6" />
<circle cx="536.90" cy="176.40" r="1.0" fill="#b3d6e6" />
<circle cx="540.00" cy="176.40" r="1.0" fill="#b3d6e6" />
<circle cx="544.00" cy="176.40" r="1.0" fill="#b3d6e6" />
<circle cx="548.00" cy="176.40" r="1.0" fill="#b3d6e6" />
<circle cx="552.00" cy="176.40" r="1.0" fill="#b3d6e6" />
<circle cx="646.00" cy="176.40" r="1.0" fill="#b3d6e6" />
<circle cx="649.00" cy="176.40" r="1.0" fill="#b3d6e6" />
<circle cx="652.00" cy="176.40" r="1.0" fill="#b3d6e6" />
<circle cx="667.00" cy="176.40" r="1.0" fill="#b3d6e6" />
<circle cx="568.00" cy="171.76" r="1.0" fill="#b3d6e6" />
<circle cx="569.90" cy="171.76" r="1.0" fill="#b3d6e6" />
<circle cx="571.80" cy="171.76" r="1.0" fill="#b3d6e6" />
<circle cx="573.70" cy="171.76" r="1.0" fill="#b3d6e6" />
<circle cx="575.60" cy="171.76" r="1.0" fill="#b3d6e6" />
<circle cx="577.50" cy="171.76" r="1.0" fill="#b3d6e6" />
<circle cx="579.40" cy="171.76" r="1.0" fill="#b3d6e6" />
<circle cx="581.30" cy="171.76" r="1.0" fill="#b3d6e6" />
<circle cx="583.20" cy="171.76" r="1.0" fill="#b3d6e6" />
<circle cx="585.10" cy="171.76" r="1.0" fill="#b3d6e6" />
<circle cx="587.00" cy="171.76" r="1.0" fill="#b3d6e6" />
<circle cx="588.90" cy="171.76" r="1.0" fill="#b3d6e6" />
<circle cx="590.80" cy="171.76" r="1.0" fill="#b3d6e6" />
<circle cx="592.70" cy="171.76" r="1.0" fill="#b3d6e6" />
<circle cx="594.60" cy="171.76" r="1.0" fill="#b3d6e6" />
<circle cx="596.50" cy="171.76" r="1.0" fill="#b3d6e6" />
<circle cx="598.40" cy="171.76" r="1.0" fill="#b3d6e6" />
<circle cx="600.30" cy="171.76" r="1.0" fill="#b3d6e6" />
<circle cx="602.20" cy="171.76" r="1.0" fill="#b3d6e6" />
<circle cx="604.10" cy="171.76" r="1.0" fill="#b3d6e6" />
<circle cx="606.00" cy="171.76" r="1.0" fill="#b3d6e6" />
<circle cx="607.90" cy="171.76" r="1.0" fill="#b3d6e6" />
<circle cx="609.80" cy="171.76" r="1.0" fill="#b3d6e6" />
<circle cx="611.70" cy="171.76" r="1.0" fill="#b3d6e6" />
<circle cx="613.60" cy="171.76" r="1.0" fill="#b3d6e6" />
<circle cx="615.50" cy="171.76" r="1.0" fill="#b3d6e6" />
<circle cx="617.40" cy="171.76" r="1.0" fill="#b3d6e6" />
<circle cx="619.30" cy="171.76" r="1.0" fill="#b3d6e6" />
<circle cx="621.20" cy="171.76" r="1.0" fill="#b3d6e6" />
<circle cx="623.10" cy="171.76" r="1.0" fill="#b3d6e6" />
<circle cx="625.00" cy="171.76" r="1.0" fill="#b3d6e6" />
<circle cx="626.90" cy="171.76" r="1.0" fill="#b3d6e6" />
<circle cx="628.80" cy="171.76" r="1.0" fill="#b3d6e6" />
<circle cx="630.70" cy="171.76" r="1.0" fill="#b3d6e6" />
<circle cx="632.60" cy="171.76" r="1.0" fill="#b3d6e6" />
<circle cx="634.50" cy="171.76" r="1.0" fill="#b3d6e6" />
<circle cx="636.40" cy="171.76" r="1.0" fill="#b3d6e6" />
<circle cx="638.30" cy="171.76" r="1.0" fill="#b3d6e6" />
<circle cx="640.20" cy="171.76" r="1.0" fill="#b3d6e6" />
<circle cx="554.80" cy="171.76" r="1.0" fill="#b3d6e6" />
<circle cx="558.00" cy="171.76" r="1.0" fill="#b3d6e6" />
<circle cx="562.00" cy="171.76" r="1.0" fill="#b3d6e6" />
<circle cx="565.00" cy="171.76" r="1.0" fill="#b3d6e6" />
<circle cx="645.00" cy="171.76" r="1.0" fill="#b3d6e6" />
<circle cx="649.00" cy="171.76" r="1.0" fill="#b3d6e6" />
<circle cx="655.00" cy="171.76" r="1.0" fill="#b3d6e6" />
<circle cx="667.70" cy="171.76" r="1.0" fill="#b3d6e6" />
<circle cx="578.80" cy="167.12" r="1.0" fill="#b3d6e6" />
<circle cx="580.70" cy="167.12" r="1.0" fill="#b3d6e6" />
<circle cx="582.60" cy="167.12" r="1.0" fill="#b3d6e6" />
<circle cx="584.50" cy="167.12" r="1.0" fill="#b3d6e6" />
<circle cx="586.40" cy="167.12" r="1.0" fill="#b3d6e6" />
<circle cx="588.30" cy="167.12" r="1.0" fill="#b3d6e6" />
<circle cx="590.20" cy="167.12" r="1.0" fill="#b3d6e6" />
<circle cx="592.10" cy="167.12" r="1.0" fill="#b3d6e6" />
<circle cx="594.00" cy="167.12" r="1.0" fill="#b3d6e6" />
<circle cx="595.90" cy="167.12" r="1.0" fill="#b3d6e6" />
<circle cx="597.80" cy="167.12" r="1.0" fill="#b3d6e6" />
<circle cx="599.70" cy="167.12" r="1.0" fill="#b3d6e6" />
<circle cx="601.60" cy="167.12" r="1.0" fill="#b3d6e6" />
<circle cx="603.50" cy="167.12" r="1.0" fill="#b3d6e6" />
<circle cx="605.40" cy="167.12" r="1.0" fill="#b3d6e6" />
<circle cx="607.30" cy="167.12" r="1.0" fill="#b3d6e6" />
<circle cx="609.20" cy="167.12" r="1.0" fill="#b3d6e6" />
<circle cx="611.10" cy="167.12" r="1.0" fill="#b3d6e6" />
<circle cx="613.00" cy="167.12" r="1.0" fill="#b3d6e6" />
<circle cx="614.90" cy="167.12" r="1.0" fill="#b3d6e6" />
<circle cx="616.80" cy="167.12" r="1.0" fill="#b3d6e6" />
<circle cx="618.70" cy="167.12" r="1.0" fill="#b3d6e6" />
<circle cx="620.60" cy="167.12" r="1.0" fill="#b3d6e6" />
<circle cx="622.50" cy="167.12" r="1.0" fill="#b3d6e6" />
<circle cx="624.40" cy="167.12" r="1.0" fill="#b3d6e6" />
<circle cx="626.30" cy="167.12" r="1.0" fill="#b3d6e6" />
<circle cx="581.76" cy="167.12" r="1.0" fill="#b3d6e6" />
<circle cx="598.54" cy="167.12" r="1.0" fill="#b3d6e6" />
<circle cx="579.47" cy="167.12" r="1.0" fill="#b3d6e6" />
<circle cx="542.47" cy="167.12" r="1.0" fill="#b3d6e6" />
<circle cx="560.08" cy="167.12" r="1.0" fill="#b3d6e6" />
<circle cx="627.93" cy="167.12" r="1.0" fill="#b3d6e6" />
<circle cx="652.42" cy="167.12" r="1.0" fill="#b3d6e6" />
<circle cx="530.84" cy="167.12" r="1.0" fill="#b3d6e6" />
<circle cx="604.85" cy="167.12" r="1.0" fill="#b3d6e6" />
<circle cx="632.56" cy="167.12" r="1.0" fill="#b3d6e6" />
<circle cx="530.41" cy="167.12" r="1.0" fill="#b3d6e6" />
<circle cx="644.03" cy="167.12" r="1.0" fill="#b3d6e6" />
<circle cx="525.00" cy="167.12" r="1.0" fill="#b3d6e6" />
<circle cx="667.00" cy="167.12" r="1.0" fill="#b3d6e6" />
<circle cx="566.07" cy="162.48" r="1.0" fill="#b3d6e6" />
<circle cx="619.55" cy="162.48" r="1.0" fill="#b3d6e6" />
<circle cx="614.06" cy="162.48" r="1.0" fill="#b3d6e6" />
<circle cx="622.60" cy="162.48" r="1.0" fill="#b3d6e6" />
<circle cx="586.99" cy="162.48" r="1.0" fill="#b3d6e6" />
<circle cx="599.63" cy="162.48" r="1.0" fill="#b3d6e6" />
<circle cx="617.67" cy="162.48" r="1.0" fill="#b3d6e6" />
<circle cx="600.26" cy="162.48" r="1.0" fill="#b3d6e6" />
<circle cx="626.13" cy="162.48" r="1.0" fill="#b3d6e6" />
<circle cx="602.59" cy="162.48" r="1.0" fill="#b3d6e6" />
<circle cx="601.66" cy="162.48" r="1.0" fill="#b3d6e6" />
<circle cx="555.59" cy="162.48" r="1.0" fill="#b3d6e6" />
<circle cx="621.70" cy="162.48" r="1.0" fill="#b3d6e6" />
<circle cx="607.33" cy="162.48" r="1.0" fill="#b3d6e6" />
<circle cx="579.11" cy="162.48" r="1.0" fill="#b3d6e6" />
<circle cx="637.76" cy="162.48" r="1.0" fill="#b3d6e6" />
<circle cx="639.58" cy="162.48" r="1.0" fill="#b3d6e6" />
<circle cx="603.87" cy="162.48" r="1.0" fill="#b3d6e6" />
<circle cx="572.93" cy="162.48" r="1.0" fill="#b3d6e6" />
<circle cx="605.53" cy="162.48" r="1.0" fill="#b3d6e6" />
<circle cx="564.89" cy="162.48" r="1.0" fill="#b3d6e6" />
<circle cx="567.26" cy="162.48" r="1.0" fill="#b3d6e6" />
<circle cx="553.00" cy="162.48" r="1.0" fill="#b3d6e6" />
<circle cx="664.00" cy="162.48" r="1.0" fill="#b3d6e6" />
<circle cx="585.65" cy="157.84" r="1.0" fill="#b3d6e6" />
<circle cx="543.43" cy="157.84" r="1.0" fill="#b3d6e6" />
<circle cx="587.07" cy="157.84" r="1.0" fill="#b3d6e6" />
<circle cx="595.57" cy="157.84" r="1.0" fill="#b3d6e6" />
<circle cx="537.08" cy="157.84" r="1.0" fill="#b3d6e6" />
<circle cx="611.30" cy="157.84" r="1.0" fill="#b3d6e6" />
<circle cx="542.25" cy="157.84" r="1.0" fill="#b3d6e6" />
<circle cx="623.39" cy="157.84" r="1.0" fill="#b3d6e6" />
<circle cx="628.89" cy="157.84" r="1.0" fill="#b3d6e6" />
<circle cx="595.73" cy="157.84" r="1.0" fill="#b3d6e6" />
<circle cx="538.76" cy="157.84" r="1.0" fill="#b3d6e6" />
<circle cx="594.79" cy="157.84" r="1.0" fill="#b3d6e6" />
<circle cx="579.08" cy="157.84" r="1.0" fill="#b3d6e6" />
<circle cx="650.48" cy="157.84" r="1.0" fill="#b3d6e6" />
<circle cx="548.97" cy="157.84" r="1.0" fill="#b3d6e6" />
<circle cx="638.79" cy="157.84" r="1.0" fill="#b3d6e6" />
<circle cx="656.12" cy="157.84" r="1.0" fill="#b3d6e6" />
<circle cx="623.22" cy="157.84" r="1.0" fill="#b3d6e6" />
<circle cx="633.55" cy="157.84" r="1.0" fill="#b3d6e6" />
<circle cx="556.14" cy="157.84" r="1.0" fill="#b3d6e6" />
<circle cx="532.00" cy="157.84" r="1.0" fill="#b3d6e6" />
<circle cx="656.60" cy="157.84" r="1.0" fill="#b3d6e6" />
<circle cx="674.44" cy="153.20" r="1.0" fill="#b3d6e6" />
<circle cx="632.66" cy="153.20" r="1.0" fill="#b3d6e6" />
<circle cx="672.30" cy="153.20" r="1.0" fill="#b3d6e6" />
<circle cx="668.84" cy="153.20" r="1.0" fill="#b3d6e6" />
<circle cx="604.78" cy="153.20" r="1.0" fill="#b3d6e6" />
<circle cx="657.95" cy="153.20" r="1.0" fill="#b3d6e6" />
<circle cx="670.08" cy="153.20" r="1.0" fill="#b3d6e6" />
<circle cx="596.29" cy="153.20" r="1.0" fill="#b3d6e6" />
<circle cx="620.63" cy="153.20" r="1.0" fill="#b3d6e6" />
<circle cx="655.20" cy="153.20" r="1.0" fill="#b3d6e6" />
<circle cx="604.24" cy="153.20" r="1.0" fill="#b3d6e6" />
<circle cx="667.17" cy="153.20" r="1.0" fill="#b3d6e6" />
<circle cx="614.16" cy="153.20" r="1.0" fill="#b3d6e6" />
<circle cx="660.27" cy="153.20" r="1.0" fill="#b3d6e6" />
<circle cx="590.70" cy="153.20" r="1.0" fill="#b3d6e6" />
<circle cx="676.00" cy="153.20" r="1.0" fill="#b3d6e6" />
<circle cx="580.98" cy="148.56" r="1.0" fill="#b3d6e6" />
<circle cx="612.65" cy="148.56" r="1.0" fill="#b3d6e6" />
<circle cx="649.53" cy="148.56" r="1.0" fill="#b3d6e6" />
<circle cx="586.69" cy="148.56" r="1.0" fill="#b3d6e6" />
<circle cx="591.51" cy="148.56" r="1.0" fill="#b3d6e6" />
<circle cx="612.98" cy="148.56" r="1.0" fill="#b3d6e6" />
<circle cx="596.47" cy="148.56" r="1.0" fill="#b3d6e6" />
<circle cx="571.55" cy="148.56" r="1.0" fill="#b3d6e6" />
<circle cx="584.38" cy="148.56" r="1.0" fill="#b3d6e6" />
<circle cx="582.54" cy="148.56" r="1.0" fill="#b3d6e6" />
<circle cx="650.98" cy="148.56" r="1.0" fill="#b3d6e6" />
<circle cx="628.32" cy="148.56" r="1.0" fill="#b3d6e6" />
<circle cx="647.36" cy="148.56" r="1.0" fill="#b3d6e6" />
<circle cx="583.20" cy="148.56" r="1.0" fill="#b3d6e6" />
<circle cx="637.60" cy="148.56" r="1.0" fill="#b3d6e6" />
<circle cx="578.46" cy="148.56" r="1.0" fill="#b3d6e6" />
<circle cx="568.30" cy="148.56" r="1.0" fill="#b3d6e6" />
<circle cx="656.60" cy="148.56" r="1.0" fill="#b3d6e6" />
<circle cx="606.13" cy="143.92" r="1.0" fill="#b3d6e6" />
<circle cx="612.76" cy="143.92" r="1.0" fill="#b3d6e6" />
<circle cx="595.39" cy="143.92" r="1.0" fill="#b3d6e6" />
<circle cx="627.62" cy="143.92" r="1.0" fill="#b3d6e6" />
<circle cx="607.67" cy="143.92" r="1.0" fill="#b3d6e6" />
<circle cx="609.23" cy="143.92" r="1.0" fill="#b3d6e6" />
<circle cx="628.22" cy="143.92" r="1.0" fill="#b3d6e6" />
<circle cx="579.37" cy="143.92" r="1.0" fill="#b3d6e6" />
<circle cx="635.16" cy="143.92" r="1.0" fill="#b3d6e6" />
<circle cx="612.35" cy="143.92" r="1.0" fill="#b3d6e6" />
<circle cx="572.80" cy="143.92" r="1.0" fill="#b3d6e6" />
<circle cx="635.60" cy="143.92" r="1.0" fill="#b3d6e6" />
<circle cx="580.31" cy="139.28" r="1.0" fill="#b3d6e6" />
<circle cx="620.13" cy="139.28" r="1.0" fill="#b3d6e6" />
<circle cx="567.53" cy="139.28" r="1.0" fill="#b3d6e6" />
<circle cx="639.16" cy="139.28" r="1.0" fill="#b3d6e6" />
<circle cx="598.39" cy="139.28" r="1.0" fill="#b3d6e6" />
<circle cx="576.96" cy="139.28" r="1.0" fill="#b3d6e6" />
<circle cx="616.87" cy="139.28" r="1.0" fill="#b3d6e6" />
<circle cx="585.05" cy="139.28" r="1.0" fill="#b3d6e6" />
<circle cx="558.85" cy="139.28" r="1.0" fill="#b3d6e6" />
<circle cx="614.79" cy="139.28" r="1.0" fill="#b3d6e6" />
<circle cx="541.40" cy="139.28" r="1.0" fill="#b3d6e6" />
<circle cx="640.10" cy="139.28" r="1.0" fill="#b3d6e6" />
<circle cx="561.22" cy="134.64" r="1.0" fill="#b3d6e6" />
<circle cx="639.76" cy="134.64" r="1.0" fill="#b3d6e6" />
<circle cx="582.12" cy="134.64" r="1.0" fill="#b3d6e6" />
<circle cx="621.37" cy="134.64" r="1.0" fill="#b3d6e6" />
<circle cx="656.48" cy="134.64" r="1.0" fill="#b3d6e6" />
<circle cx="615.94" cy="134.64" r="1.0" fill="#b3d6e6" />
<circle cx="623.86" cy="134.64" r="1.0" fill="#b3d6e6" />
<circle cx="588.13" cy="134.64" r="1.0" fill="#b3d6e6" />
<circle cx="556.30" cy="134.64" r="1.0" fill="#b3d6e6" />
<circle cx="658.10" cy="134.64" r="1.0" fill="#b3d6e6" />
<circle cx="632.60" cy="130.00" r="1.0" fill="#b3d6e6" />
<circle cx="635.60" cy="130.00" r="1.0" fill="#b3d6e6" />
<circle cx="574.20" cy="125.36" r="1.0" fill="#b3d6e6" />
<circle cx="579.70" cy="125.36" r="1.0" fill="#b3d6e6" />
<circle cx="617.00" cy="125.36" r="1.0" fill="#b3d6e6" />
<circle cx="623.50" cy="125.36" r="1.0" fill="#b3d6e6" />
<circle cx="632.60" cy="125.36" r="1.0" fill="#b3d6e6" />
<circle cx="654.00" cy="125.36" r="1.0" fill="#b3d6e6" />
<circle cx="618.80" cy="120.72" r="1.0" fill="#b3d6e6" />
<circle cx="579.20" cy="116.08" r="1.0" fill="#b3d6e6" />
<circle cx="620.20" cy="116.08" r="1.0" fill="#b3d6e6" />
<circle cx="623.00" cy="116.08" r="1.0" fill="#b3d6e6" />
<circle cx="627.50" cy="116.08" r="1.0" fill="#b3d6e6" />
<circle cx="631.20" cy="116.08" r="1.0" fill="#b3d6e6" />
<circle cx="605.30" cy="111.44" r="1.0" fill="#b3d6e6" />
<circle cx="607.80" cy="102.16" r="1.0" fill="#b3d6e6" />
<circle cx="599.80" cy="97.52" r="1.0" fill="#b3d6e6" />
<circle cx="585.50" cy="88.24" r="1.0" fill="#b3d6e6" />
<circle cx="605.60" cy="88.24" r="1.0" fill="#b3d6e6" />
<circle cx="619.30" cy="88.24" r="1.0" fill="#b3d6e6" />
<circle cx="631.20" cy="88.24" r="1.0" fill="#b3d6e6" />
<circle cx="611.10" cy="83.60" r="1.0" fill="#b3d6e6" />
<circle cx="624.80" cy="83.60" r="1.0" fill="#b3d6e6" />
<circle cx="610.20" cy="74.32" r="1.0" fill="#b3d6e6" />
<circle cx="619.90" cy="74.32" r="1.0" fill="#b3d6e6" />
<circle cx="638.10" cy="74.32" r="1.0" fill="#b3d6e6" />
<circle cx="654.00" cy="74.32" r="1.0" fill="#b3d6e6" />
<circle cx="614.70" cy="69.68" r="1.0" fill="#b3d6e6" />
<circle cx="619.90" cy="60.40" r="1.0" fill="#b3d6e6" />
<circle cx="654.90" cy="55.76" r="1.0" fill="#b3d6e6" />
<circle cx="613.80" cy="51.12" r="1.0" fill="#b3d6e6" />
<circle cx="666.40" cy="51.12" r="1.0" fill="#b3d6e6" />
<circle cx="615.70" cy="46.48" r="1.0" fill="#b3d6e6" />
<circle cx="620.20" cy="41.84" r="1.0" fill="#b3d6e6" />
<circle cx="649.70" cy="18.64" r="1.0" fill="#b3d6e6" />
<circle cx="632.60" cy="9.36" r="1.0" fill="#b3d6e6" />
<line x1="623.00" y1="47.00" x2="623.00" y2="51.12" stroke="#1a1a1a" stroke-width="0.6" />
<line x1="632.50" y1="54.00" x2="627.00" y2="51.12" stroke="#1a1a1a" stroke-width="0.6" />
<line x1="613.30" y1="67.30" x2="620.80" y2="65.04" stroke="#1a1a1a" stroke-width="0.6" />
<line x1="642.30" y1="84.60" x2="635.40" y2="88.24" stroke="#1a1a1a" stroke-width="0.6" />
<line x1="621.00" y1="96.00" x2="625.00" y2="92.88" stroke="#1a1a1a" stroke-width="0.6" />
<line x1="598.60" y1="115.40" x2="602.00" y2="111.44" stroke="#1a1a1a" stroke-width="0.6" />
<circle cx="623.00" cy="51.12" r="1.1" fill="#1414e6" />
<circle cx="627.00" cy="51.12" r="1.1" fill="#1414e6" />
<circle cx="620.80" cy="65.04" r="1.1" fill="#1414e6" />
<circle cx="635.40" cy="88.24" r="1.1" fill="#1414e6" />
<circle cx="625.00" cy="92.88" r="1.1" fill="#1414e6" />
<circle cx="602.00" cy="111.44" r="1.1" fill="#f0143c" />
<text x="624.80" y="46.15" font-size="6.8" text-anchor="start" font-weight="normal" fill="#000" stroke="#000" stroke-width="0.14" >LHY</text>
<text x="633.00" y="58.95" font-size="6.8" text-anchor="start" font-weight="normal" fill="#000" stroke="#000" stroke-width="0.14" >CCA1</text>
<text x="595.00" y="71.35" font-size="6.8" text-anchor="start" font-weight="normal" fill="#000" stroke="#000" stroke-width="0.14" >RVE8</text>
<text x="642.70" y="86.65" font-size="6.8" text-anchor="start" font-weight="normal" fill="#000" stroke="#000" stroke-width="0.14" >RVE4</text>
<text x="612.00" y="101.75" font-size="6.8" text-anchor="start" font-weight="normal" fill="#000" stroke="#000" stroke-width="0.14" >LUX</text>
<text x="581.50" y="121.35" font-size="6.8" text-anchor="start" font-weight="normal" fill="#000" stroke="#000" stroke-width="0.14" >ABF1</text>
<line x1="479.40" y1="226.00" x2="479.40" y2="331.40" stroke="#8a8a8a" stroke-width="0.8" />
<line x1="479.00" y1="331.40" x2="685.00" y2="331.40" stroke="#8a8a8a" stroke-width="0.8" />
<line x1="477.60" y1="325.90" x2="479.40" y2="325.90" stroke="#333" stroke-width="0.5" />
<text x="477.20" y="328.80" font-size="6.4" text-anchor="end" font-weight="normal" fill="#000" stroke="#000" stroke-width="0.14" textLength="3.4" lengthAdjust="spacingAndGlyphs" >1</text>
<line x1="477.60" y1="320.85" x2="479.40" y2="320.85" stroke="#333" stroke-width="0.5" />
<text x="477.20" y="323.75" font-size="6.4" text-anchor="end" font-weight="normal" fill="#000" stroke="#000" stroke-width="0.14" textLength="3.4" lengthAdjust="spacingAndGlyphs" >2</text>
<line x1="477.60" y1="315.80" x2="479.40" y2="315.80" stroke="#333" stroke-width="0.5" />
<text x="477.20" y="318.70" font-size="6.4" text-anchor="end" font-weight="normal" fill="#000" stroke="#000" stroke-width="0.14" textLength="3.4" lengthAdjust="spacingAndGlyphs" >3</text>
<line x1="477.60" y1="310.75" x2="479.40" y2="310.75" stroke="#333" stroke-width="0.5" />
<text x="477.20" y="313.65" font-size="6.4" text-anchor="end" font-weight="normal" fill="#000" stroke="#000" stroke-width="0.14" textLength="3.4" lengthAdjust="spacingAndGlyphs" >4</text>
<line x1="477.60" y1="305.70" x2="479.40" y2="305.70" stroke="#333" stroke-width="0.5" />
<text x="477.20" y="308.60" font-size="6.4" text-anchor="end" font-weight="normal" fill="#000" stroke="#000" stroke-width="0.14" textLength="3.4" lengthAdjust="spacingAndGlyphs" >5</text>
<line x1="477.60" y1="300.65" x2="479.40" y2="300.65" stroke="#333" stroke-width="0.5" />
<text x="477.20" y="303.55" font-size="6.4" text-anchor="end" font-weight="normal" fill="#000" stroke="#000" stroke-width="0.14" textLength="3.4" lengthAdjust="spacingAndGlyphs" >6</text>
<line x1="477.60" y1="295.60" x2="479.40" y2="295.60" stroke="#333" stroke-width="0.5" />
<text x="477.20" y="298.50" font-size="6.4" text-anchor="end" font-weight="normal" fill="#000" stroke="#000" stroke-width="0.14" textLength="3.4" lengthAdjust="spacingAndGlyphs" >7</text>
<line x1="477.60" y1="290.55" x2="479.40" y2="290.55" stroke="#333" stroke-width="0.5" />
<text x="477.20" y="293.45" font-size="6.4" text-anchor="end" font-weight="normal" fill="#000" stroke="#000" stroke-width="0.14" textLength="3.4" lengthAdjust="spacingAndGlyphs" >8</text>
<line x1="477.60" y1="285.50" x2="479.40" y2="285.50" stroke="#333" stroke-width="0.5" />
<text x="477.20" y="288.40" font-size="6.4" text-anchor="end" font-weight="normal" fill="#000" stroke="#000" stroke-width="0.14" textLength="3.4" lengthAdjust="spacingAndGlyphs" >9</text>
<line x1="477.60" y1="280.45" x2="479.40" y2="280.45" stroke="#333" stroke-width="0.5" />
<text x="477.20" y="283.35" font-size="6.4" text-anchor="end" font-weight="normal" fill="#000" stroke="#000" stroke-width="0.14" textLength="6.8" lengthAdjust="spacingAndGlyphs" >10</text>
<line x1="477.60" y1="275.40" x2="479.40" y2="275.40" stroke="#333" stroke-width="0.5" />
<text x="477.20" y="278.30" font-size="6.4" text-anchor="end" font-weight="normal" fill="#000" stroke="#000" stroke-width="0.14" textLength="6.8" lengthAdjust="spacingAndGlyphs" >11</text>
<line x1="477.60" y1="270.35" x2="479.40" y2="270.35" stroke="#333" stroke-width="0.5" />
<text x="477.20" y="273.25" font-size="6.4" text-anchor="end" font-weight="normal" fill="#000" stroke="#000" stroke-width="0.14" textLength="6.8" lengthAdjust="spacingAndGlyphs" >12</text>
<line x1="477.60" y1="265.30" x2="479.40" y2="265.30" stroke="#333" stroke-width="0.5" />
<text x="477.20" y="268.20" font-size="6.4" text-anchor="end" font-weight="normal" fill="#000" stroke="#000" stroke-width="0.14" textLength="6.8" lengthAdjust="spacingAndGlyphs" >13</text>
<line x1="477.60" y1="260.25" x2="479.40" y2="260.25" stroke="#333" stroke-width="0.5" />
<text x="477.20" y="263.15" font-size="6.4" text-anchor="end" font-weight="normal" fill="#000" stroke="#000" stroke-width="0.14" textLength="6.8" lengthAdjust="spacingAndGlyphs" >14</text>
<line x1="477.60" y1="255.20" x2="479.40" y2="255.20" stroke="#333" stroke-width="0.5" />
<text x="477.20" y="258.10" font-size="6.4" text-anchor="end" font-weight="normal" fill="#000" stroke="#000" stroke-width="0.14" textLength="6.8" lengthAdjust="spacingAndGlyphs" >15</text>
<line x1="477.60" y1="250.15" x2="479.40" y2="250.15" stroke="#333" stroke-width="0.5" />
<text x="477.20" y="253.05" font-size="6.4" text-anchor="end" font-weight="normal" fill="#000" stroke="#000" stroke-width="0.14" textLength="6.8" lengthAdjust="spacingAndGlyphs" >16</text>
<line x1="477.60" y1="245.10" x2="479.40" y2="245.10" stroke="#333" stroke-width="0.5" />
<text x="477.20" y="248.00" font-size="6.4" text-anchor="end" font-weight="normal" fill="#000" stroke="#000" stroke-width="0.14" textLength="6.8" lengthAdjust="spacingAndGlyphs" >17</text>
<line x1="477.60" y1="240.05" x2="479.40" y2="240.05" stroke="#333" stroke-width="0.5" />
<text x="477.20" y="242.95" font-size="6.4" text-anchor="end" font-weight="normal" fill="#000" stroke="#000" stroke-width="0.14" textLength="6.8" lengthAdjust="spacingAndGlyphs" >18</text>
<line x1="477.60" y1="235.00" x2="479.40" y2="235.00" stroke="#333" stroke-width="0.5" />
<text x="477.20" y="237.90" font-size="6.4" text-anchor="end" font-weight="normal" fill="#000" stroke="#000" stroke-width="0.14" textLength="6.8" lengthAdjust="spacingAndGlyphs" >19</text>
<line x1="477.60" y1="229.95" x2="479.40" y2="229.95" stroke="#333" stroke-width="0.5" />
<text x="477.20" y="232.85" font-size="6.4" text-anchor="end" font-weight="normal" fill="#000" stroke="#000" stroke-width="0.14" textLength="6.8" lengthAdjust="spacingAndGlyphs" >20</text>
<line x1="481.47" y1="331.40" x2="481.47" y2="333.10" stroke="#333" stroke-width="0.5" />
<line x1="485.07" y1="331.40" x2="485.07" y2="333.10" stroke="#333" stroke-width="0.5" />
<line x1="488.30" y1="331.40" x2="488.30" y2="333.90" stroke="#333" stroke-width="0.5" />
<line x1="509.52" y1="331.40" x2="509.52" y2="333.10" stroke="#333" stroke-width="0.5" />
<line x1="521.94" y1="331.40" x2="521.94" y2="333.10" stroke="#333" stroke-width="0.5" />
<line x1="530.75" y1="331.40" x2="530.75" y2="333.10" stroke="#333" stroke-width="0.5" />
<line x1="537.58" y1="331.40" x2="537.58" y2="333.10" stroke="#333" stroke-width="0.5" />
<line x1="543.16" y1="331.40" x2="543.16" y2="333.10" stroke="#333" stroke-width="0.5" />
<line x1="547.88" y1="331.40" x2="547.88" y2="333.10" stroke="#333" stroke-width="0.5" />
<line x1="551.97" y1="331.40" x2="551.97" y2="333.10" stroke="#333" stroke-width="0.5" />
<line x1="555.57" y1="331.40" x2="555.57" y2="333.10" stroke="#333" stroke-width="0.5" />
<line x1="558.80" y1="331.40" x2="558.80" y2="333.90" stroke="#333" stroke-width="0.5" />
<line x1="580.02" y1="331.40" x2="580.02" y2="333.10" stroke="#333" stroke-width="0.5" />
<line x1="592.44" y1="331.40" x2="592.44" y2="333.10" stroke="#333" stroke-width="0.5" />
<line x1="601.25" y1="331.40" x2="601.25" y2="333.10" stroke="#333" stroke-width="0.5" />
<line x1="608.08" y1="331.40" x2="608.08" y2="333.10" stroke="#333" stroke-width="0.5" />
<line x1="613.66" y1="331.40" x2="613.66" y2="333.10" stroke="#333" stroke-width="0.5" />
<line x1="618.38" y1="331.40" x2="618.38" y2="333.10" stroke="#333" stroke-width="0.5" />
<line x1="622.47" y1="331.40" x2="622.47" y2="333.10" stroke="#333" stroke-width="0.5" />
<line x1="626.07" y1="331.40" x2="626.07" y2="333.10" stroke="#333" stroke-width="0.5" />
<line x1="629.30" y1="331.40" x2="629.30" y2="333.90" stroke="#333" stroke-width="0.5" />
<line x1="650.52" y1="331.40" x2="650.52" y2="333.10" stroke="#333" stroke-width="0.5" />
<line x1="662.94" y1="331.40" x2="662.94" y2="333.10" stroke="#333" stroke-width="0.5" />
<line x1="671.75" y1="331.40" x2="671.75" y2="333.10" stroke="#333" stroke-width="0.5" />
<line x1="678.58" y1="331.40" x2="678.58" y2="333.10" stroke="#333" stroke-width="0.5" />
<text x="489.30" y="344.60" font-size="6.6" text-anchor="end" font-weight="normal" fill="#000" stroke="#000" stroke-width="0.14" >10</text>
<text x="489.40" y="336.50" font-size="6.0" text-anchor="start" font-weight="normal" fill="#000" stroke="#000" stroke-width="0.14" >0</text>
<text x="559.80" y="344.60" font-size="6.6" text-anchor="end" font-weight="normal" fill="#000" stroke="#000" stroke-width="0.14" >10</text>
<text x="559.90" y="336.50" font-size="6.0" text-anchor="start" font-weight="normal" fill="#000" stroke="#000" stroke-width="0.14" >1</text>
<text x="630.30" y="344.60" font-size="6.6" text-anchor="end" font-weight="normal" fill="#000" stroke="#000" stroke-width="0.14" >10</text>
<text x="630.40" y="336.50" font-size="6.0" text-anchor="start" font-weight="normal" fill="#000" stroke="#000" stroke-width="0.14" >2</text>
<text x="581.40" y="352.90" font-size="6.8" text-anchor="middle" font-weight="normal" fill="#000" stroke="#000" stroke-width="0.14" >CPM of Pseudo bulk data</text>
<text x="576.70" y="214.80" font-size="6.6" text-anchor="middle" font-weight="normal" fill="#000" stroke="#000" stroke-width="0.14" >24-hour dataset</text>
<text x="576.70" y="223.70" font-size="6.6" text-anchor="middle" font-weight="normal" fill="#000" stroke="#000" stroke-width="0.14" >Transcription Factors</text>
<circle cx="488.80" cy="234.80" r="0.8" fill="#d8eaf2" />
<text x="493.50" y="237.20" font-size="6.8" text-anchor="start" font-weight="normal" fill="#000" stroke="#000" stroke-width="0.14" >Other TF</text>
<circle cx="488.80" cy="243.90" r="1.1" fill="#1414e6" />
<text x="493.50" y="246.30" font-size="6.8" text-anchor="start" font-weight="normal" fill="#000" stroke="#000" stroke-width="0.14" >Core clock gene</text>
<circle cx="488.80" cy="253.00" r="1.1" fill="#f0143c" />
<text x="493.50" y="255.40" font-size="6.8" text-anchor="start" font-weight="normal" fill="#000" stroke="#000" stroke-width="0.14" >ABF1</text>
<circle cx="543.60" cy="325.90" r="1.0" fill="#b3d6e6" />
<circle cx="545.50" cy="325.90" r="1.0" fill="#b3d6e6" />
<circle cx="547.40" cy="325.90" r="1.0" fill="#b3d6e6" />
<circle cx="549.30" cy="325.90" r="1.0" fill="#b3d6e6" />
<circle cx="551.20" cy="325.90" r="1.0" fill="#b3d6e6" />
<circle cx="553.10" cy="325.90" r="1.0" fill="#b3d6e6" />
<circle cx="555.00" cy="325.90" r="1.0" fill="#b3d6e6" />
<circle cx="556.90" cy="325.90" r="1.0" fill="#b3d6e6" />
<circle cx="558.80" cy="325.90" r="1.0" fill="#b3d6e6" />
<circle cx="560.70" cy="325.90" r="1.0" fill="#b3d6e6" />
<circle cx="562.60" cy="325.90" r="1.0" fill="#b3d6e6" />
<circle cx="564.50" cy="325.90" r="1.0" fill="#b3d6e6" />
<circle cx="566.40" cy="325.90" r="1.0" fill="#b3d6e6" />
<circle cx="568.30" cy="325.90" r="1.0" fill="#b3d6e6" />
<circle cx="570.20" cy="325.90" r="1.0" fill="#b3d6e6" />
<circle cx="572.10" cy="325.90" r="1.0" fill="#b3d6e6" />
<circle cx="574.00" cy="325.90" r="1.0" fill="#b3d6e6" />
<circle cx="575.90" cy="325.90" r="1.0" fill="#b3d6e6" />
<circle cx="577.80" cy="325.90" r="1.0" fill="#b3d6e6" />
<circle cx="579.70" cy="325.90" r="1.0" fill="#b3d6e6" />
<circle cx="581.60" cy="325.90" r="1.0" fill="#b3d6e6" />
<circle cx="583.50" cy="325.90" r="1.0" fill="#b3d6e6" />
<circle cx="585.40" cy="325.90" r="1.0" fill="#b3d6e6" />
<circle cx="587.30" cy="325.90" r="1.0" fill="#b3d6e6" />
<circle cx="589.20" cy="325.90" r="1.0" fill="#b3d6e6" />
<circle cx="591.10" cy="325.90" r="1.0" fill="#b3d6e6" />
<circle cx="593.00" cy="325.90" r="1.0" fill="#b3d6e6" />
<circle cx="594.90" cy="325.90" r="1.0" fill="#b3d6e6" />
<circle cx="596.80" cy="325.90" r="1.0" fill="#b3d6e6" />
<circle cx="598.70" cy="325.90" r="1.0" fill="#b3d6e6" />
<circle cx="606.00" cy="325.90" r="1.0" fill="#b3d6e6" />
<circle cx="607.90" cy="325.90" r="1.0" fill="#b3d6e6" />
<circle cx="609.80" cy="325.90" r="1.0" fill="#b3d6e6" />
<circle cx="611.70" cy="325.90" r="1.0" fill="#b3d6e6" />
<circle cx="613.60" cy="325.90" r="1.0" fill="#b3d6e6" />
<circle cx="615.50" cy="325.90" r="1.0" fill="#b3d6e6" />
<circle cx="617.40" cy="325.90" r="1.0" fill="#b3d6e6" />
<circle cx="619.30" cy="325.90" r="1.0" fill="#b3d6e6" />
<circle cx="621.20" cy="325.90" r="1.0" fill="#b3d6e6" />
<circle cx="623.10" cy="325.90" r="1.0" fill="#b3d6e6" />
<circle cx="625.00" cy="325.90" r="1.0" fill="#b3d6e6" />
<circle cx="626.90" cy="325.90" r="1.0" fill="#b3d6e6" />
<circle cx="628.80" cy="325.90" r="1.0" fill="#b3d6e6" />
<circle cx="630.70" cy="325.90" r="1.0" fill="#b3d6e6" />
<circle cx="632.60" cy="325.90" r="1.0" fill="#b3d6e6" />
<circle cx="634.50" cy="325.90" r="1.0" fill="#b3d6e6" />
<circle cx="636.40" cy="325.90" r="1.0" fill="#b3d6e6" />
<circle cx="638.30" cy="325.90" r="1.0" fill="#b3d6e6" />
<circle cx="640.20" cy="325.90" r="1.0" fill="#b3d6e6" />
<circle cx="642.10" cy="325.90" r="1.0" fill="#b3d6e6" />
<circle cx="644.00" cy="325.90" r="1.0" fill="#b3d6e6" />
<circle cx="645.90" cy="325.90" r="1.0" fill="#b3d6e6" />
<circle cx="647.80" cy="325.90" r="1.0" fill="#b3d6e6" />
<circle cx="649.70" cy="325.90" r="1.0" fill="#b3d6e6" />
<circle cx="651.60" cy="325.90" r="1.0" fill="#b3d6e6" />
<circle cx="488.80" cy="325.90" r="1.0" fill="#b3d6e6" />
<circle cx="509.20" cy="325.90" r="1.0" fill="#b3d6e6" />
<circle cx="525.00" cy="325.90" r="1.0" fill="#b3d6e6" />
<circle cx="532.30" cy="325.90" r="1.0" fill="#b3d6e6" />
<circle cx="537.90" cy="325.90" r="1.0" fill="#b3d6e6" />
<circle cx="663.50" cy="325.90" r="1.0" fill="#b3d6e6" />
<circle cx="564.00" cy="320.85" r="1.0" fill="#b3d6e6" />
<circle cx="565.90" cy="320.85" r="1.0" fill="#b3d6e6" />
<circle cx="567.80" cy="320.85" r="1.0" fill="#b3d6e6" />
<circle cx="569.70" cy="320.85" r="1.0" fill="#b3d6e6" />
<circle cx="571.60" cy="320.85" r="1.0" fill="#b3d6e6" />
<circle cx="573.50" cy="320.85" r="1.0" fill="#b3d6e6" />
<circle cx="575.40" cy="320.85" r="1.0" fill="#b3d6e6" />
<circle cx="577.30" cy="320.85" r="1.0" fill="#b3d6e6" />
<circle cx="579.20" cy="320.85" r="1.0" fill="#b3d6e6" />
<circle cx="581.10" cy="320.85" r="1.0" fill="#b3d6e6" />
<circle cx="583.00" cy="320.85" r="1.0" fill="#b3d6e6" />
<circle cx="584.90" cy="320.85" r="1.0" fill="#b3d6e6" />
<circle cx="586.80" cy="320.85" r="1.0" fill="#b3d6e6" />
<circle cx="588.70" cy="320.85" r="1.0" fill="#b3d6e6" />
<circle cx="590.60" cy="320.85" r="1.0" fill="#b3d6e6" />
<circle cx="592.50" cy="320.85" r="1.0" fill="#b3d6e6" />
<circle cx="594.40" cy="320.85" r="1.0" fill="#b3d6e6" />
<circle cx="596.30" cy="320.85" r="1.0" fill="#b3d6e6" />
<circle cx="598.20" cy="320.85" r="1.0" fill="#b3d6e6" />
<circle cx="600.10" cy="320.85" r="1.0" fill="#b3d6e6" />
<circle cx="602.00" cy="320.85" r="1.0" fill="#b3d6e6" />
<circle cx="603.90" cy="320.85" r="1.0" fill="#b3d6e6" />
<circle cx="605.80" cy="320.85" r="1.0" fill="#b3d6e6" />
<circle cx="607.70" cy="320.85" r="1.0" fill="#b3d6e6" />
<circle cx="609.60" cy="320.85" r="1.0" fill="#b3d6e6" />
<circle cx="611.50" cy="320.85" r="1.0" fill="#b3d6e6" />
<circle cx="613.40" cy="320.85" r="1.0" fill="#b3d6e6" />
<circle cx="615.30" cy="320.85" r="1.0" fill="#b3d6e6" />
<circle cx="617.20" cy="320.85" r="1.0" fill="#b3d6e6" />
<circle cx="619.10" cy="320.85" r="1.0" fill="#b3d6e6" />
<circle cx="621.00" cy="320.85" r="1.0" fill="#b3d6e6" />
<circle cx="622.90" cy="320.85" r="1.0" fill="#b3d6e6" />
<circle cx="624.80" cy="320.85" r="1.0" fill="#b3d6e6" />
<circle cx="626.70" cy="320.85" r="1.0" fill="#b3d6e6" />
<circle cx="628.60" cy="320.85" r="1.0" fill="#b3d6e6" />
<circle cx="630.50" cy="320.85" r="1.0" fill="#b3d6e6" />
<circle cx="632.40" cy="320.85" r="1.0" fill="#b3d6e6" />
<circle cx="634.30" cy="320.85" r="1.0" fill="#b3d6e6" />
<circle cx="636.20" cy="320.85" r="1.0" fill="#b3d6e6" />
<circle cx="638.10" cy="320.85" r="1.0" fill="#b3d6e6" />
<circle cx="640.00" cy="320.85" r="1.0" fill="#b3d6e6" />
<circle cx="548.10" cy="320.85" r="1.0" fill="#b3d6e6" />
<circle cx="653.30" cy="320.85" r="1.0" fill="#b3d6e6" />
<circle cx="660.10" cy="320.85" r="1.0" fill="#b3d6e6" />
<circle cx="674.80" cy="320.85" r="1.0" fill="#b3d6e6" />
<circle cx="585.00" cy="315.80" r="1.0" fill="#b3d6e6" />
<circle cx="586.90" cy="315.80" r="1.0" fill="#b3d6e6" />
<circle cx="588.80" cy="315.80" r="1.0" fill="#b3d6e6" />
<circle cx="590.70" cy="315.80" r="1.0" fill="#b3d6e6" />
<circle cx="592.60" cy="315.80" r="1.0" fill="#b3d6e6" />
<circle cx="594.50" cy="315.80" r="1.0" fill="#b3d6e6" />
<circle cx="596.40" cy="315.80" r="1.0" fill="#b3d6e6" />
<circle cx="598.30" cy="315.80" r="1.0" fill="#b3d6e6" />
<circle cx="600.20" cy="315.80" r="1.0" fill="#b3d6e6" />
<circle cx="602.10" cy="315.80" r="1.0" fill="#b3d6e6" />
<circle cx="604.00" cy="315.80" r="1.0" fill="#b3d6e6" />
<circle cx="605.90" cy="315.80" r="1.0" fill="#b3d6e6" />
<circle cx="607.80" cy="315.80" r="1.0" fill="#b3d6e6" />
<circle cx="609.70" cy="315.80" r="1.0" fill="#b3d6e6" />
<circle cx="611.60" cy="315.80" r="1.0" fill="#b3d6e6" />
<circle cx="613.50" cy="315.80" r="1.0" fill="#b3d6e6" />
<circle cx="615.40" cy="315.80" r="1.0" fill="#b3d6e6" />
<circle cx="617.30" cy="315.80" r="1.0" fill="#b3d6e6" />
<circle cx="619.20" cy="315.80" r="1.0" fill="#b3d6e6" />
<circle cx="621.10" cy="315.80" r="1.0" fill="#b3d6e6" />
<circle cx="623.00" cy="315.80" r="1.0" fill="#b3d6e6" />
<circle cx="624.90" cy="315.80" r="1.0" fill="#b3d6e6" />
<circle cx="626.80" cy="315.80" r="1.0" fill="#b3d6e6" />
<circle cx="628.70" cy="315.80" r="1.0" fill="#b3d6e6" />
<circle cx="590.69" cy="315.80" r="1.0" fill="#b3d6e6" />
<circle cx="582.88" cy="315.80" r="1.0" fill="#b3d6e6" />
<circle cx="583.77" cy="315.80" r="1.0" fill="#b3d6e6" />
<circle cx="628.69" cy="315.80" r="1.0" fill="#b3d6e6" />
<circle cx="624.64" cy="315.80" r="1.0" fill="#b3d6e6" />
<circle cx="628.99" cy="315.80" r="1.0" fill="#b3d6e6" />
<circle cx="580.90" cy="315.80" r="1.0" fill="#b3d6e6" />
<circle cx="661.20" cy="315.80" r="1.0" fill="#b3d6e6" />
<circle cx="622.08" cy="310.75" r="1.0" fill="#b3d6e6" />
<circle cx="585.58" cy="310.75" r="1.0" fill="#b3d6e6" />
<circle cx="614.12" cy="310.75" r="1.0" fill="#b3d6e6" />
<circle cx="601.77" cy="310.75" r="1.0" fill="#b3d6e6" />
<circle cx="626.48" cy="310.75" r="1.0" fill="#b3d6e6" />
<circle cx="626.58" cy="310.75" r="1.0" fill="#b3d6e6" />
<circle cx="630.49" cy="310.75" r="1.0" fill="#b3d6e6" />
<circle cx="585.59" cy="310.75" r="1.0" fill="#b3d6e6" />
<circle cx="629.21" cy="310.75" r="1.0" fill="#b3d6e6" />
<circle cx="631.74" cy="310.75" r="1.0" fill="#b3d6e6" />
<circle cx="633.37" cy="310.75" r="1.0" fill="#b3d6e6" />
<circle cx="587.83" cy="310.75" r="1.0" fill="#b3d6e6" />
<circle cx="593.19" cy="310.75" r="1.0" fill="#b3d6e6" />
<circle cx="588.09" cy="310.75" r="1.0" fill="#b3d6e6" />
<circle cx="583.87" cy="310.75" r="1.0" fill="#b3d6e6" />
<circle cx="628.12" cy="310.75" r="1.0" fill="#b3d6e6" />
<circle cx="626.17" cy="310.75" r="1.0" fill="#b3d6e6" />
<circle cx="616.50" cy="310.75" r="1.0" fill="#b3d6e6" />
<circle cx="559.40" cy="310.75" r="1.0" fill="#b3d6e6" />
<circle cx="656.70" cy="310.75" r="1.0" fill="#b3d6e6" />
<circle cx="583.20" cy="305.70" r="1.0" fill="#b3d6e6" />
<circle cx="597.90" cy="305.70" r="1.0" fill="#b3d6e6" />
<circle cx="601.00" cy="305.70" r="1.0" fill="#b3d6e6" />
<circle cx="605.80" cy="305.70" r="1.0" fill="#b3d6e6" />
<circle cx="629.60" cy="305.70" r="1.0" fill="#b3d6e6" />
<circle cx="633.00" cy="305.70" r="1.0" fill="#b3d6e6" />
<circle cx="636.40" cy="305.70" r="1.0" fill="#b3d6e6" />
<circle cx="659.00" cy="305.70" r="1.0" fill="#b3d6e6" />
<circle cx="585.40" cy="300.65" r="1.0" fill="#b3d6e6" />
<circle cx="588.80" cy="300.65" r="1.0" fill="#b3d6e6" />
<circle cx="634.10" cy="300.65" r="1.0" fill="#b3d6e6" />
<circle cx="644.30" cy="300.65" r="1.0" fill="#b3d6e6" />
<circle cx="648.80" cy="300.65" r="1.0" fill="#b3d6e6" />
<circle cx="601.30" cy="295.60" r="1.0" fill="#b3d6e6" />
<circle cx="604.00" cy="295.60" r="1.0" fill="#b3d6e6" />
<circle cx="607.00" cy="295.60" r="1.0" fill="#b3d6e6" />
<circle cx="630.70" cy="295.60" r="1.0" fill="#b3d6e6" />
<circle cx="637.50" cy="295.60" r="1.0" fill="#b3d6e6" />
<circle cx="640.40" cy="295.60" r="1.0" fill="#b3d6e6" />
<circle cx="601.30" cy="290.55" r="1.0" fill="#b3d6e6" />
<circle cx="604.70" cy="290.55" r="1.0" fill="#b3d6e6" />
<circle cx="596.10" cy="285.50" r="1.0" fill="#b3d6e6" />
<circle cx="627.30" cy="280.45" r="1.0" fill="#b3d6e6" />
<circle cx="671.40" cy="280.45" r="1.0" fill="#b3d6e6" />
<circle cx="656.70" cy="260.25" r="1.0" fill="#b3d6e6" />
<circle cx="656.70" cy="255.20" r="1.0" fill="#b3d6e6" />
<line x1="632.00" y1="229.80" x2="640.40" y2="229.95" stroke="#1a1a1a" stroke-width="0.6" />
<line x1="634.00" y1="243.00" x2="642.00" y2="240.05" stroke="#1a1a1a" stroke-width="0.6" />
<line x1="652.50" y1="253.50" x2="646.70" y2="250.15" stroke="#1a1a1a" stroke-width="0.6" />
<line x1="600.50" y1="269.50" x2="607.20" y2="265.30" stroke="#1a1a1a" stroke-width="0.6" />
<line x1="613.00" y1="298.50" x2="620.00" y2="295.60" stroke="#1a1a1a" stroke-width="0.6" />
<circle cx="640.40" cy="229.95" r="1.1" fill="#1414e6" />
<circle cx="642.00" cy="240.05" r="1.1" fill="#1414e6" />
<circle cx="646.70" cy="250.15" r="1.1" fill="#1414e6" />
<circle cx="607.20" cy="265.30" r="1.1" fill="#f0143c" />
<circle cx="620.00" cy="295.60" r="1.1" fill="#1414e6" />
<circle cx="603.40" cy="325.90" r="1.1" fill="#1414e6" />
<text x="612.80" y="232.25" font-size="6.8" text-anchor="start" font-weight="normal" fill="#000" stroke="#000" stroke-width="0.14" >CCA1</text>
<text x="615.00" y="247.25" font-size="6.8" text-anchor="start" font-weight="normal" fill="#000" stroke="#000" stroke-width="0.14" >RVE8</text>
<text x="652.70" y="258.25" font-size="6.8" text-anchor="start" font-weight="normal" fill="#000" stroke="#000" stroke-width="0.14" >LHY</text>
<text x="583.00" y="274.55" font-size="6.8" text-anchor="start" font-weight="normal" fill="#000" stroke="#000" stroke-width="0.14" >ABF1</text>
<text x="594.60" y="303.15" font-size="6.8" text-anchor="start" font-weight="normal" fill="#000" stroke="#000" stroke-width="0.14" >RVE4</text>
<text x="581.40" y="330.45" font-size="6.8" text-anchor="start" font-weight="normal" fill="#000" stroke="#000" stroke-width="0.14" >LUX</text>
<defs><pattern id="stip" width="3.4" height="3.4" patternUnits="userSpaceOnUse"><rect width="3.4" height="3.4" fill="#f6f6f6"/><rect width="1.7" height="1.7" fill="#8a8a8a"/><rect x="1.7" y="1.7" width="1.7" height="1.7" fill="#c0c0c0"/></pattern><linearGradient id="fade" x1="0" x2="1" y1="0" y2="0"><stop offset="0" stop-color="#fff" stop-opacity="0"/><stop offset="0.45" stop-color="#fff" stop-opacity="0.05"/><stop offset="1" stop-color="#fff" stop-opacity="0.25"/></linearGradient></defs>
<rect x="68.40" y="372.00" width="11.91" height="166.20" fill="#d4d4d4" />
<rect x="105.78" y="372.00" width="12.74" height="166.20" fill="#d4d4d4" />
<rect x="143.99" y="372.00" width="12.74" height="166.20" fill="url(#stip)" />
<rect x="143.99" y="372.00" width="12.74" height="166.20" fill="url(#fade)" />
<rect x="182.20" y="372.00" width="12.74" height="166.20" fill="url(#stip)" />
<rect x="182.20" y="372.00" width="12.74" height="166.20" fill="url(#fade)" />
<rect x="220.40" y="372.00" width="12.74" height="166.20" fill="url(#stip)" />
<rect x="220.40" y="372.00" width="12.74" height="166.20" fill="url(#fade)" />
<rect x="258.61" y="372.00" width="12.74" height="166.20" fill="url(#stip)" />
<rect x="258.61" y="372.00" width="12.74" height="166.20" fill="url(#fade)" />
<rect x="296.82" y="372.00" width="12.74" height="166.20" fill="url(#stip)" />
<rect x="296.82" y="372.00" width="12.74" height="166.20" fill="url(#fade)" />
<line x1="68.20" y1="513.05" x2="68.20" y2="526.95" stroke="#ffb878" stroke-width="0.5" />
<line x1="67.30" y1="513.05" x2="69.10" y2="513.05" stroke="#ffb878" stroke-width="0.5" />
<line x1="67.30" y1="526.95" x2="69.10" y2="526.95" stroke="#ffb878" stroke-width="0.5" />
<line x1="70.12" y1="511.46" x2="70.12" y2="525.89" stroke="#ffb878" stroke-width="0.5" />
<line x1="69.22" y1="511.46" x2="71.02" y2="511.46" stroke="#ffb878" stroke-width="0.5" />
<line x1="69.22" y1="525.89" x2="71.02" y2="525.89" stroke="#ffb878" stroke-width="0.5" />
<line x1="71.71" y1="510.16" x2="71.71" y2="525.02" stroke="#ffb878" stroke-width="0.5" />
<line x1="70.81" y1="510.16" x2="72.61" y2="510.16" stroke="#ffb878" stroke-width="0.5" />
<line x1="70.81" y1="525.02" x2="72.61" y2="525.02" stroke="#ffb878" stroke-width="0.5" />
<line x1="73.30" y1="508.75" x2="73.30" y2="524.08" stroke="#ffb878" stroke-width="0.5" />
<line x1="72.40" y1="508.75" x2="74.20" y2="508.75" stroke="#ffb878" stroke-width="0.5" />
<line x1="72.40" y1="524.08" x2="74.20" y2="524.08" stroke="#ffb878" stroke-width="0.5" />
<line x1="74.40" y1="507.65" x2="74.40" y2="523.35" stroke="#ffb878" stroke-width="0.5" />
<line x1="73.50" y1="507.65" x2="75.30" y2="507.65" stroke="#ffb878" stroke-width="0.5" />
<line x1="73.50" y1="523.35" x2="75.30" y2="523.35" stroke="#ffb878" stroke-width="0.5" />
<line x1="76.49" y1="504.31" x2="76.49" y2="521.12" stroke="#ffb878" stroke-width="0.5" />
<line x1="75.59" y1="504.31" x2="77.39" y2="504.31" stroke="#ffb878" stroke-width="0.5" />
<line x1="75.59" y1="521.12" x2="77.39" y2="521.12" stroke="#ffb878" stroke-width="0.5" />
<line x1="78.70" y1="501.89" x2="78.70" y2="519.51" stroke="#ffb878" stroke-width="0.5" />
<line x1="77.80" y1="501.89" x2="79.60" y2="501.89" stroke="#ffb878" stroke-width="0.5" />
<line x1="77.80" y1="519.51" x2="79.60" y2="519.51" stroke="#ffb878" stroke-width="0.5" />
<line x1="79.67" y1="504.26" x2="79.67" y2="521.08" stroke="#ffb878" stroke-width="0.5" />
<line x1="78.77" y1="504.26" x2="80.57" y2="504.26" stroke="#ffb878" stroke-width="0.5" />
<line x1="78.77" y1="521.08" x2="80.57" y2="521.08" stroke="#ffb878" stroke-width="0.5" />
<line x1="81.50" y1="510.41" x2="81.50" y2="525.19" stroke="#ffb878" stroke-width="0.5" />
<line x1="80.60" y1="510.41" x2="82.40" y2="510.41" stroke="#ffb878" stroke-width="0.5" />
<line x1="80.60" y1="525.19" x2="82.40" y2="525.19" stroke="#ffb878" stroke-width="0.5" />
<line x1="82.86" y1="507.20" x2="82.86" y2="523.05" stroke="#ffb878" stroke-width="0.5" />
<line x1="81.96" y1="507.20" x2="83.76" y2="507.20" stroke="#ffb878" stroke-width="0.5" />
<line x1="81.96" y1="523.05" x2="83.76" y2="523.05" stroke="#ffb878" stroke-width="0.5" />
<line x1="84.45" y1="499.71" x2="84.45" y2="518.05" stroke="#ffb878" stroke-width="0.5" />
<line x1="83.55" y1="499.71" x2="85.35" y2="499.71" stroke="#ffb878" stroke-width="0.5" />
<line x1="83.55" y1="518.05" x2="85.35" y2="518.05" stroke="#ffb878" stroke-width="0.5" />
<line x1="86.00" y1="495.65" x2="86.00" y2="515.35" stroke="#ffb878" stroke-width="0.5" />
<line x1="85.10" y1="495.65" x2="86.90" y2="495.65" stroke="#ffb878" stroke-width="0.5" />
<line x1="85.10" y1="515.35" x2="86.90" y2="515.35" stroke="#ffb878" stroke-width="0.5" />
<line x1="87.63" y1="504.76" x2="87.63" y2="521.42" stroke="#ffb878" stroke-width="0.5" />
<line x1="86.73" y1="504.76" x2="88.53" y2="504.76" stroke="#ffb878" stroke-width="0.5" />
<line x1="86.73" y1="521.42" x2="88.53" y2="521.42" stroke="#ffb878" stroke-width="0.5" />
<line x1="88.50" y1="509.45" x2="88.50" y2="524.55" stroke="#ffb878" stroke-width="0.5" />
<line x1="87.60" y1="509.45" x2="89.40" y2="509.45" stroke="#ffb878" stroke-width="0.5" />
<line x1="87.60" y1="524.55" x2="89.40" y2="524.55" stroke="#ffb878" stroke-width="0.5" />
<line x1="89.22" y1="510.79" x2="89.22" y2="525.44" stroke="#ffb878" stroke-width="0.5" />
<line x1="88.32" y1="510.79" x2="90.12" y2="510.79" stroke="#ffb878" stroke-width="0.5" />
<line x1="88.32" y1="525.44" x2="90.12" y2="525.44" stroke="#ffb878" stroke-width="0.5" />
<line x1="90.50" y1="512.45" x2="90.50" y2="526.55" stroke="#ffb878" stroke-width="0.5" />
<line x1="89.60" y1="512.45" x2="91.40" y2="512.45" stroke="#ffb878" stroke-width="0.5" />
<line x1="89.60" y1="526.55" x2="91.40" y2="526.55" stroke="#ffb878" stroke-width="0.5" />
<line x1="92.41" y1="515.18" x2="92.41" y2="528.37" stroke="#ffb878" stroke-width="0.5" />
<line x1="91.51" y1="515.18" x2="93.31" y2="515.18" stroke="#ffb878" stroke-width="0.5" />
<line x1="91.51" y1="528.37" x2="93.31" y2="528.37" stroke="#ffb878" stroke-width="0.5" />
<line x1="94.10" y1="517.13" x2="94.10" y2="529.67" stroke="#ffb878" stroke-width="0.5" />
<line x1="93.20" y1="517.13" x2="95.00" y2="517.13" stroke="#ffb878" stroke-width="0.5" />
<line x1="93.20" y1="529.67" x2="95.00" y2="529.67" stroke="#ffb878" stroke-width="0.5" />
<line x1="95.59" y1="518.43" x2="95.59" y2="530.53" stroke="#ffb878" stroke-width="0.5" />
<line x1="94.69" y1="518.43" x2="96.49" y2="518.43" stroke="#ffb878" stroke-width="0.5" />
<line x1="94.69" y1="530.53" x2="96.49" y2="530.53" stroke="#ffb878" stroke-width="0.5" />
<line x1="97.18" y1="519.78" x2="97.18" y2="531.43" stroke="#ffb878" stroke-width="0.5" />
<line x1="96.28" y1="519.78" x2="98.08" y2="519.78" stroke="#ffb878" stroke-width="0.5" />
<line x1="96.28" y1="531.43" x2="98.08" y2="531.43" stroke="#ffb878" stroke-width="0.5" />
<line x1="98.78" y1="521.03" x2="98.78" y2="532.27" stroke="#ffb878" stroke-width="0.5" />
<line x1="97.88" y1="521.03" x2="99.68" y2="521.03" stroke="#ffb878" stroke-width="0.5" />
<line x1="97.88" y1="532.27" x2="99.68" y2="532.27" stroke="#ffb878" stroke-width="0.5" />
<line x1="100.37" y1="522.12" x2="100.37" y2="533.00" stroke="#ffb878" stroke-width="0.5" />
<line x1="99.47" y1="522.12" x2="101.27" y2="522.12" stroke="#ffb878" stroke-width="0.5" />
<line x1="99.47" y1="533.00" x2="101.27" y2="533.00" stroke="#ffb878" stroke-width="0.5" />
<line x1="101.96" y1="523.00" x2="101.96" y2="533.58" stroke="#ffb878" stroke-width="0.5" />
<line x1="101.06" y1="523.00" x2="102.86" y2="523.00" stroke="#ffb878" stroke-width="0.5" />
<line x1="101.06" y1="533.58" x2="102.86" y2="533.58" stroke="#ffb878" stroke-width="0.5" />
<line x1="103.55" y1="523.59" x2="103.55" y2="533.97" stroke="#ffb878" stroke-width="0.5" />
<line x1="102.65" y1="523.59" x2="104.45" y2="523.59" stroke="#ffb878" stroke-width="0.5" />
<line x1="102.65" y1="533.97" x2="104.45" y2="533.97" stroke="#ffb878" stroke-width="0.5" />
<line x1="105.40" y1="523.85" x2="105.40" y2="534.15" stroke="#ffb878" stroke-width="0.5" />
<line x1="104.50" y1="523.85" x2="106.30" y2="523.85" stroke="#ffb878" stroke-width="0.5" />
<line x1="104.50" y1="534.15" x2="106.30" y2="534.15" stroke="#ffb878" stroke-width="0.5" />
<line x1="106.74" y1="523.40" x2="106.74" y2="533.85" stroke="#ffb878" stroke-width="0.5" />
<line x1="105.84" y1="523.40" x2="107.64" y2="523.40" stroke="#ffb878" stroke-width="0.5" />
<line x1="105.84" y1="533.85" x2="107.64" y2="533.85" stroke="#ffb878" stroke-width="0.5" />
<line x1="108.33" y1="521.90" x2="108.33" y2="532.84" stroke="#ffb878" stroke-width="0.5" />
<line x1="107.43" y1="521.90" x2="109.23" y2="521.90" stroke="#ffb878" stroke-width="0.5" />
<line x1="107.43" y1="532.84" x2="109.23" y2="532.84" stroke="#ffb878" stroke-width="0.5" />
<line x1="109.92" y1="519.70" x2="109.92" y2="531.38" stroke="#ffb878" stroke-width="0.5" />
<line x1="109.02" y1="519.70" x2="110.82" y2="519.70" stroke="#ffb878" stroke-width="0.5" />
<line x1="109.02" y1="531.38" x2="110.82" y2="531.38" stroke="#ffb878" stroke-width="0.5" />
<line x1="111.51" y1="517.18" x2="111.51" y2="529.70" stroke="#ffb878" stroke-width="0.5" />
<line x1="110.61" y1="517.18" x2="112.41" y2="517.18" stroke="#ffb878" stroke-width="0.5" />
<line x1="110.61" y1="529.70" x2="112.41" y2="529.70" stroke="#ffb878" stroke-width="0.5" />
<line x1="113.80" y1="513.77" x2="113.80" y2="527.43" stroke="#ffb878" stroke-width="0.5" />
<line x1="112.90" y1="513.77" x2="114.70" y2="513.77" stroke="#ffb878" stroke-width="0.5" />
<line x1="112.90" y1="527.43" x2="114.70" y2="527.43" stroke="#ffb878" stroke-width="0.5" />
<line x1="114.70" y1="512.47" x2="114.70" y2="526.56" stroke="#ffb878" stroke-width="0.5" />
<line x1="113.80" y1="512.47" x2="115.60" y2="512.47" stroke="#ffb878" stroke-width="0.5" />
<line x1="113.80" y1="526.56" x2="115.60" y2="526.56" stroke="#ffb878" stroke-width="0.5" />
<line x1="116.29" y1="509.66" x2="116.29" y2="524.69" stroke="#ffb878" stroke-width="0.5" />
<line x1="115.39" y1="509.66" x2="117.19" y2="509.66" stroke="#ffb878" stroke-width="0.5" />
<line x1="115.39" y1="524.69" x2="117.19" y2="524.69" stroke="#ffb878" stroke-width="0.5" />
<line x1="117.88" y1="506.69" x2="117.88" y2="522.70" stroke="#ffb878" stroke-width="0.5" />
<line x1="116.98" y1="506.69" x2="118.78" y2="506.69" stroke="#ffb878" stroke-width="0.5" />
<line x1="116.98" y1="522.70" x2="118.78" y2="522.70" stroke="#ffb878" stroke-width="0.5" />
<line x1="119.47" y1="504.06" x2="119.47" y2="520.95" stroke="#ffb878" stroke-width="0.5" />
<line x1="118.57" y1="504.06" x2="120.37" y2="504.06" stroke="#ffb878" stroke-width="0.5" />
<line x1="118.57" y1="520.95" x2="120.37" y2="520.95" stroke="#ffb878" stroke-width="0.5" />
<line x1="121.06" y1="502.31" x2="121.06" y2="519.79" stroke="#ffb878" stroke-width="0.5" />
<line x1="120.16" y1="502.31" x2="121.96" y2="502.31" stroke="#ffb878" stroke-width="0.5" />
<line x1="120.16" y1="519.79" x2="121.96" y2="519.79" stroke="#ffb878" stroke-width="0.5" />
<line x1="122.20" y1="501.89" x2="122.20" y2="519.51" stroke="#ffb878" stroke-width="0.5" />
<line x1="121.30" y1="501.89" x2="123.10" y2="501.89" stroke="#ffb878" stroke-width="0.5" />
<line x1="121.30" y1="519.51" x2="123.10" y2="519.51" stroke="#ffb878" stroke-width="0.5" />
<line x1="124.25" y1="506.15" x2="124.25" y2="522.35" stroke="#ffb878" stroke-width="0.5" />
<line x1="123.35" y1="506.15" x2="125.15" y2="506.15" stroke="#ffb878" stroke-width="0.5" />
<line x1="123.35" y1="522.35" x2="125.15" y2="522.35" stroke="#ffb878" stroke-width="0.5" />
<line x1="126.40" y1="512.09" x2="126.40" y2="526.31" stroke="#ffb878" stroke-width="0.5" />
<line x1="125.50" y1="512.09" x2="127.30" y2="512.09" stroke="#ffb878" stroke-width="0.5" />
<line x1="125.50" y1="526.31" x2="127.30" y2="526.31" stroke="#ffb878" stroke-width="0.5" />
<line x1="127.43" y1="513.29" x2="127.43" y2="527.11" stroke="#ffb878" stroke-width="0.5" />
<line x1="126.53" y1="513.29" x2="128.33" y2="513.29" stroke="#ffb878" stroke-width="0.5" />
<line x1="126.53" y1="527.11" x2="128.33" y2="527.11" stroke="#ffb878" stroke-width="0.5" />
<line x1="129.02" y1="514.79" x2="129.02" y2="528.11" stroke="#ffb878" stroke-width="0.5" />
<line x1="128.12" y1="514.79" x2="129.92" y2="514.79" stroke="#ffb878" stroke-width="0.5" />
<line x1="128.12" y1="528.11" x2="129.92" y2="528.11" stroke="#ffb878" stroke-width="0.5" />
<line x1="130.62" y1="515.99" x2="130.62" y2="528.91" stroke="#ffb878" stroke-width="0.5" />
<line x1="129.72" y1="515.99" x2="131.52" y2="515.99" stroke="#ffb878" stroke-width="0.5" />
<line x1="129.72" y1="528.91" x2="131.52" y2="528.91" stroke="#ffb878" stroke-width="0.5" />
<line x1="132.21" y1="517.03" x2="132.21" y2="529.60" stroke="#ffb878" stroke-width="0.5" />
<line x1="131.31" y1="517.03" x2="133.11" y2="517.03" stroke="#ffb878" stroke-width="0.5" />
<line x1="131.31" y1="529.60" x2="133.11" y2="529.60" stroke="#ffb878" stroke-width="0.5" />
<line x1="133.80" y1="518.05" x2="133.80" y2="530.28" stroke="#ffb878" stroke-width="0.5" />
<line x1="132.90" y1="518.05" x2="134.70" y2="518.05" stroke="#ffb878" stroke-width="0.5" />
<line x1="132.90" y1="530.28" x2="134.70" y2="530.28" stroke="#ffb878" stroke-width="0.5" />
<line x1="134.90" y1="518.81" x2="134.90" y2="530.79" stroke="#ffb878" stroke-width="0.5" />
<line x1="134.00" y1="518.81" x2="135.80" y2="518.81" stroke="#ffb878" stroke-width="0.5" />
<line x1="134.00" y1="530.79" x2="135.80" y2="530.79" stroke="#ffb878" stroke-width="0.5" />
<line x1="136.98" y1="520.57" x2="136.98" y2="531.96" stroke="#ffb878" stroke-width="0.5" />
<line x1="136.08" y1="520.57" x2="137.88" y2="520.57" stroke="#ffb878" stroke-width="0.5" />
<line x1="136.08" y1="531.96" x2="137.88" y2="531.96" stroke="#ffb878" stroke-width="0.5" />
<line x1="138.58" y1="522.02" x2="138.58" y2="532.93" stroke="#ffb878" stroke-width="0.5" />
<line x1="137.68" y1="522.02" x2="139.48" y2="522.02" stroke="#ffb878" stroke-width="0.5" />
<line x1="137.68" y1="532.93" x2="139.48" y2="532.93" stroke="#ffb878" stroke-width="0.5" />
<line x1="140.17" y1="523.30" x2="140.17" y2="533.78" stroke="#ffb878" stroke-width="0.5" />
<line x1="139.27" y1="523.30" x2="141.07" y2="523.30" stroke="#ffb878" stroke-width="0.5" />
<line x1="139.27" y1="533.78" x2="141.07" y2="533.78" stroke="#ffb878" stroke-width="0.5" />
<line x1="141.76" y1="524.18" x2="141.76" y2="534.37" stroke="#ffb878" stroke-width="0.5" />
<line x1="140.86" y1="524.18" x2="142.66" y2="524.18" stroke="#ffb878" stroke-width="0.5" />
<line x1="140.86" y1="534.37" x2="142.66" y2="534.37" stroke="#ffb878" stroke-width="0.5" />
<line x1="143.10" y1="524.45" x2="143.10" y2="534.55" stroke="#ffb878" stroke-width="0.5" />
<line x1="142.20" y1="524.45" x2="144.00" y2="524.45" stroke="#ffb878" stroke-width="0.5" />
<line x1="142.20" y1="534.55" x2="144.00" y2="534.55" stroke="#ffb878" stroke-width="0.5" />
<line x1="144.94" y1="524.01" x2="144.94" y2="534.25" stroke="#ffb878" stroke-width="0.5" />
<line x1="144.04" y1="524.01" x2="145.84" y2="524.01" stroke="#ffb878" stroke-width="0.5" />
<line x1="144.04" y1="534.25" x2="145.84" y2="534.25" stroke="#ffb878" stroke-width="0.5" />
<line x1="146.54" y1="523.02" x2="146.54" y2="533.59" stroke="#ffb878" stroke-width="0.5" />
<line x1="145.64" y1="523.02" x2="147.44" y2="523.02" stroke="#ffb878" stroke-width="0.5" />
<line x1="145.64" y1="533.59" x2="147.44" y2="533.59" stroke="#ffb878" stroke-width="0.5" />
<line x1="148.13" y1="521.63" x2="148.13" y2="532.66" stroke="#ffb878" stroke-width="0.5" />
<line x1="147.23" y1="521.63" x2="149.03" y2="521.63" stroke="#ffb878" stroke-width="0.5" />
<line x1="147.23" y1="532.66" x2="149.03" y2="532.66" stroke="#ffb878" stroke-width="0.5" />
<line x1="150.00" y1="519.65" x2="150.00" y2="531.35" stroke="#ffb878" stroke-width="0.5" />
<line x1="149.10" y1="519.65" x2="150.90" y2="519.65" stroke="#ffb878" stroke-width="0.5" />
<line x1="149.10" y1="531.35" x2="150.90" y2="531.35" stroke="#ffb878" stroke-width="0.5" />
<line x1="151.31" y1="516.82" x2="151.31" y2="529.46" stroke="#ffb878" stroke-width="0.5" />
<line x1="150.41" y1="516.82" x2="152.21" y2="516.82" stroke="#ffb878" stroke-width="0.5" />
<line x1="150.41" y1="529.46" x2="152.21" y2="529.46" stroke="#ffb878" stroke-width="0.5" />
<line x1="152.90" y1="511.65" x2="152.90" y2="526.01" stroke="#ffb878" stroke-width="0.5" />
<line x1="152.00" y1="511.65" x2="153.80" y2="511.65" stroke="#ffb878" stroke-width="0.5" />
<line x1="152.00" y1="526.01" x2="153.80" y2="526.01" stroke="#ffb878" stroke-width="0.5" />
<line x1="155.00" y1="507.65" x2="155.00" y2="523.35" stroke="#ffb878" stroke-width="0.5" />
<line x1="154.10" y1="507.65" x2="155.90" y2="507.65" stroke="#ffb878" stroke-width="0.5" />
<line x1="154.10" y1="523.35" x2="155.90" y2="523.35" stroke="#ffb878" stroke-width="0.5" />
<line x1="156.09" y1="508.30" x2="156.09" y2="523.78" stroke="#ffb878" stroke-width="0.5" />
<line x1="155.19" y1="508.30" x2="156.99" y2="508.30" stroke="#ffb878" stroke-width="0.5" />
<line x1="155.19" y1="523.78" x2="156.99" y2="523.78" stroke="#ffb878" stroke-width="0.5" />
<line x1="157.68" y1="510.77" x2="157.68" y2="525.43" stroke="#ffb878" stroke-width="0.5" />
<line x1="156.78" y1="510.77" x2="158.58" y2="510.77" stroke="#ffb878" stroke-width="0.5" />
<line x1="156.78" y1="525.43" x2="158.58" y2="525.43" stroke="#ffb878" stroke-width="0.5" />
<line x1="159.27" y1="513.44" x2="159.27" y2="527.21" stroke="#ffb878" stroke-width="0.5" />
<line x1="158.37" y1="513.44" x2="160.17" y2="513.44" stroke="#ffb878" stroke-width="0.5" />
<line x1="158.37" y1="527.21" x2="160.17" y2="527.21" stroke="#ffb878" stroke-width="0.5" />
<line x1="160.00" y1="514.25" x2="160.00" y2="527.75" stroke="#ffb878" stroke-width="0.5" />
<line x1="159.10" y1="514.25" x2="160.90" y2="514.25" stroke="#ffb878" stroke-width="0.5" />
<line x1="159.10" y1="527.75" x2="160.90" y2="527.75" stroke="#ffb878" stroke-width="0.5" />
<line x1="160.86" y1="514.93" x2="160.86" y2="528.20" stroke="#ffb878" stroke-width="0.5" />
<line x1="159.96" y1="514.93" x2="161.76" y2="514.93" stroke="#ffb878" stroke-width="0.5" />
<line x1="159.96" y1="528.20" x2="161.76" y2="528.20" stroke="#ffb878" stroke-width="0.5" />
<line x1="162.46" y1="516.07" x2="162.46" y2="528.96" stroke="#ffb878" stroke-width="0.5" />
<line x1="161.56" y1="516.07" x2="163.36" y2="516.07" stroke="#ffb878" stroke-width="0.5" />
<line x1="161.56" y1="528.96" x2="163.36" y2="528.96" stroke="#ffb878" stroke-width="0.5" />
<line x1="164.05" y1="517.08" x2="164.05" y2="529.63" stroke="#ffb878" stroke-width="0.5" />
<line x1="163.15" y1="517.08" x2="164.95" y2="517.08" stroke="#ffb878" stroke-width="0.5" />
<line x1="163.15" y1="529.63" x2="164.95" y2="529.63" stroke="#ffb878" stroke-width="0.5" />
<line x1="165.64" y1="517.95" x2="165.64" y2="530.22" stroke="#ffb878" stroke-width="0.5" />
<line x1="164.74" y1="517.95" x2="166.54" y2="517.95" stroke="#ffb878" stroke-width="0.5" />
<line x1="164.74" y1="530.22" x2="166.54" y2="530.22" stroke="#ffb878" stroke-width="0.5" />
<line x1="167.23" y1="518.69" x2="167.23" y2="530.71" stroke="#ffb878" stroke-width="0.5" />
<line x1="166.33" y1="518.69" x2="168.13" y2="518.69" stroke="#ffb878" stroke-width="0.5" />
<line x1="166.33" y1="530.71" x2="168.13" y2="530.71" stroke="#ffb878" stroke-width="0.5" />
<line x1="168.82" y1="519.30" x2="168.82" y2="531.11" stroke="#ffb878" stroke-width="0.5" />
<line x1="167.92" y1="519.30" x2="169.72" y2="519.30" stroke="#ffb878" stroke-width="0.5" />
<line x1="167.92" y1="531.11" x2="169.72" y2="531.11" stroke="#ffb878" stroke-width="0.5" />
<line x1="170.00" y1="519.65" x2="170.00" y2="531.35" stroke="#ffb878" stroke-width="0.5" />
<line x1="169.10" y1="519.65" x2="170.90" y2="519.65" stroke="#ffb878" stroke-width="0.5" />
<line x1="169.10" y1="531.35" x2="170.90" y2="531.35" stroke="#ffb878" stroke-width="0.5" />
<line x1="172.01" y1="520.19" x2="172.01" y2="531.70" stroke="#ffb878" stroke-width="0.5" />
<line x1="171.11" y1="520.19" x2="172.91" y2="520.19" stroke="#ffb878" stroke-width="0.5" />
<line x1="171.11" y1="531.70" x2="172.91" y2="531.70" stroke="#ffb878" stroke-width="0.5" />
<line x1="173.60" y1="520.58" x2="173.60" y2="531.97" stroke="#ffb878" stroke-width="0.5" />
<line x1="172.70" y1="520.58" x2="174.50" y2="520.58" stroke="#ffb878" stroke-width="0.5" />
<line x1="172.70" y1="531.97" x2="174.50" y2="531.97" stroke="#ffb878" stroke-width="0.5" />
<line x1="175.19" y1="520.93" x2="175.19" y2="532.20" stroke="#ffb878" stroke-width="0.5" />
<line x1="174.29" y1="520.93" x2="176.09" y2="520.93" stroke="#ffb878" stroke-width="0.5" />
<line x1="174.29" y1="532.20" x2="176.09" y2="532.20" stroke="#ffb878" stroke-width="0.5" />
<line x1="176.78" y1="521.20" x2="176.78" y2="532.38" stroke="#ffb878" stroke-width="0.5" />
<line x1="175.88" y1="521.20" x2="177.68" y2="521.20" stroke="#ffb878" stroke-width="0.5" />
<line x1="175.88" y1="532.38" x2="177.68" y2="532.38" stroke="#ffb878" stroke-width="0.5" />
<line x1="178.38" y1="521.38" x2="178.38" y2="532.50" stroke="#ffb878" stroke-width="0.5" />
<line x1="177.48" y1="521.38" x2="179.28" y2="521.38" stroke="#ffb878" stroke-width="0.5" />
<line x1="177.48" y1="532.50" x2="179.28" y2="532.50" stroke="#ffb878" stroke-width="0.5" />
<line x1="180.00" y1="521.45" x2="180.00" y2="532.55" stroke="#ffb878" stroke-width="0.5" />
<line x1="179.10" y1="521.45" x2="180.90" y2="521.45" stroke="#ffb878" stroke-width="0.5" />
<line x1="179.10" y1="532.55" x2="180.90" y2="532.55" stroke="#ffb878" stroke-width="0.5" />
<line x1="181.56" y1="521.06" x2="181.56" y2="532.29" stroke="#ffb878" stroke-width="0.5" />
<line x1="180.66" y1="521.06" x2="182.46" y2="521.06" stroke="#ffb878" stroke-width="0.5" />
<line x1="180.66" y1="532.29" x2="182.46" y2="532.29" stroke="#ffb878" stroke-width="0.5" />
<line x1="183.15" y1="520.03" x2="183.15" y2="531.60" stroke="#ffb878" stroke-width="0.5" />
<line x1="182.25" y1="520.03" x2="184.05" y2="520.03" stroke="#ffb878" stroke-width="0.5" />
<line x1="182.25" y1="531.60" x2="184.05" y2="531.60" stroke="#ffb878" stroke-width="0.5" />
<line x1="184.74" y1="518.63" x2="184.74" y2="530.67" stroke="#ffb878" stroke-width="0.5" />
<line x1="183.84" y1="518.63" x2="185.64" y2="518.63" stroke="#ffb878" stroke-width="0.5" />
<line x1="183.84" y1="530.67" x2="185.64" y2="530.67" stroke="#ffb878" stroke-width="0.5" />
<line x1="186.34" y1="517.14" x2="186.34" y2="529.68" stroke="#ffb878" stroke-width="0.5" />
<line x1="185.44" y1="517.14" x2="187.24" y2="517.14" stroke="#ffb878" stroke-width="0.5" />
<line x1="185.44" y1="529.68" x2="187.24" y2="529.68" stroke="#ffb878" stroke-width="0.5" />
<line x1="187.93" y1="515.85" x2="187.93" y2="528.81" stroke="#ffb878" stroke-width="0.5" />
<line x1="187.03" y1="515.85" x2="188.83" y2="515.85" stroke="#ffb878" stroke-width="0.5" />
<line x1="187.03" y1="528.81" x2="188.83" y2="528.81" stroke="#ffb878" stroke-width="0.5" />
<line x1="189.52" y1="515.01" x2="189.52" y2="528.26" stroke="#ffb878" stroke-width="0.5" />
<line x1="188.62" y1="515.01" x2="190.42" y2="515.01" stroke="#ffb878" stroke-width="0.5" />
<line x1="188.62" y1="528.26" x2="190.42" y2="528.26" stroke="#ffb878" stroke-width="0.5" />
<line x1="190.50" y1="514.85" x2="190.50" y2="528.15" stroke="#ffb878" stroke-width="0.5" />
<line x1="189.60" y1="514.85" x2="191.40" y2="514.85" stroke="#ffb878" stroke-width="0.5" />
<line x1="189.60" y1="528.15" x2="191.40" y2="528.15" stroke="#ffb878" stroke-width="0.5" />
<line x1="192.70" y1="515.30" x2="192.70" y2="528.45" stroke="#ffb878" stroke-width="0.5" />
<line x1="191.80" y1="515.30" x2="193.60" y2="515.30" stroke="#ffb878" stroke-width="0.5" />
<line x1="191.80" y1="528.45" x2="193.60" y2="528.45" stroke="#ffb878" stroke-width="0.5" />
<line x1="194.30" y1="516.04" x2="194.30" y2="528.94" stroke="#ffb878" stroke-width="0.5" />
<line x1="193.40" y1="516.04" x2="195.20" y2="516.04" stroke="#ffb878" stroke-width="0.5" />
<line x1="193.40" y1="528.94" x2="195.20" y2="528.94" stroke="#ffb878" stroke-width="0.5" />
<line x1="195.89" y1="516.96" x2="195.89" y2="529.55" stroke="#ffb878" stroke-width="0.5" />
<line x1="194.99" y1="516.96" x2="196.79" y2="516.96" stroke="#ffb878" stroke-width="0.5" />
<line x1="194.99" y1="529.55" x2="196.79" y2="529.55" stroke="#ffb878" stroke-width="0.5" />
<line x1="197.48" y1="517.90" x2="197.48" y2="530.18" stroke="#ffb878" stroke-width="0.5" />
<line x1="196.58" y1="517.90" x2="198.38" y2="517.90" stroke="#ffb878" stroke-width="0.5" />
<line x1="196.58" y1="530.18" x2="198.38" y2="530.18" stroke="#ffb878" stroke-width="0.5" />
<line x1="199.07" y1="518.70" x2="199.07" y2="530.72" stroke="#ffb878" stroke-width="0.5" />
<line x1="198.17" y1="518.70" x2="199.97" y2="518.70" stroke="#ffb878" stroke-width="0.5" />
<line x1="198.17" y1="530.72" x2="199.97" y2="530.72" stroke="#ffb878" stroke-width="0.5" />
<line x1="200.00" y1="519.05" x2="200.00" y2="530.95" stroke="#ffb878" stroke-width="0.5" />
<line x1="199.10" y1="519.05" x2="200.90" y2="519.05" stroke="#ffb878" stroke-width="0.5" />
<line x1="199.10" y1="530.95" x2="200.90" y2="530.95" stroke="#ffb878" stroke-width="0.5" />
<line x1="202.26" y1="519.79" x2="202.26" y2="531.44" stroke="#ffb878" stroke-width="0.5" />
<line x1="201.36" y1="519.79" x2="203.16" y2="519.79" stroke="#ffb878" stroke-width="0.5" />
<line x1="201.36" y1="531.44" x2="203.16" y2="531.44" stroke="#ffb878" stroke-width="0.5" />
<line x1="203.85" y1="520.30" x2="203.85" y2="531.78" stroke="#ffb878" stroke-width="0.5" />
<line x1="202.95" y1="520.30" x2="204.75" y2="520.30" stroke="#ffb878" stroke-width="0.5" />
<line x1="202.95" y1="531.78" x2="204.75" y2="531.78" stroke="#ffb878" stroke-width="0.5" />
<line x1="205.44" y1="520.76" x2="205.44" y2="532.09" stroke="#ffb878" stroke-width="0.5" />
<line x1="204.54" y1="520.76" x2="206.34" y2="520.76" stroke="#ffb878" stroke-width="0.5" />
<line x1="204.54" y1="532.09" x2="206.34" y2="532.09" stroke="#ffb878" stroke-width="0.5" />
<line x1="207.03" y1="521.14" x2="207.03" y2="532.34" stroke="#ffb878" stroke-width="0.5" />
<line x1="206.13" y1="521.14" x2="207.93" y2="521.14" stroke="#ffb878" stroke-width="0.5" />
<line x1="206.13" y1="532.34" x2="207.93" y2="532.34" stroke="#ffb878" stroke-width="0.5" />
<line x1="208.62" y1="521.38" x2="208.62" y2="532.50" stroke="#ffb878" stroke-width="0.5" />
<line x1="207.72" y1="521.38" x2="209.52" y2="521.38" stroke="#ffb878" stroke-width="0.5" />
<line x1="207.72" y1="532.50" x2="209.52" y2="532.50" stroke="#ffb878" stroke-width="0.5" />
<line x1="210.00" y1="521.45" x2="210.00" y2="532.55" stroke="#ffb878" stroke-width="0.5" />
<line x1="209.10" y1="521.45" x2="210.90" y2="521.45" stroke="#ffb878" stroke-width="0.5" />
<line x1="209.10" y1="532.55" x2="210.90" y2="532.55" stroke="#ffb878" stroke-width="0.5" />
<line x1="211.81" y1="520.97" x2="211.81" y2="532.23" stroke="#ffb878" stroke-width="0.5" />
<line x1="210.91" y1="520.97" x2="212.71" y2="520.97" stroke="#ffb878" stroke-width="0.5" />
<line x1="210.91" y1="532.23" x2="212.71" y2="532.23" stroke="#ffb878" stroke-width="0.5" />
<line x1="213.40" y1="519.93" x2="213.40" y2="531.53" stroke="#ffb878" stroke-width="0.5" />
<line x1="212.50" y1="519.93" x2="214.30" y2="519.93" stroke="#ffb878" stroke-width="0.5" />
<line x1="212.50" y1="531.53" x2="214.30" y2="531.53" stroke="#ffb878" stroke-width="0.5" />
<line x1="214.99" y1="518.53" x2="214.99" y2="530.60" stroke="#ffb878" stroke-width="0.5" />
<line x1="214.09" y1="518.53" x2="215.89" y2="518.53" stroke="#ffb878" stroke-width="0.5" />
<line x1="214.09" y1="530.60" x2="215.89" y2="530.60" stroke="#ffb878" stroke-width="0.5" />
<line x1="216.58" y1="516.99" x2="216.58" y2="529.57" stroke="#ffb878" stroke-width="0.5" />
<line x1="215.68" y1="516.99" x2="217.48" y2="516.99" stroke="#ffb878" stroke-width="0.5" />
<line x1="215.68" y1="529.57" x2="217.48" y2="529.57" stroke="#ffb878" stroke-width="0.5" />
<line x1="218.18" y1="515.52" x2="218.18" y2="528.60" stroke="#ffb878" stroke-width="0.5" />
<line x1="217.28" y1="515.52" x2="219.08" y2="515.52" stroke="#ffb878" stroke-width="0.5" />
<line x1="217.28" y1="528.60" x2="219.08" y2="528.60" stroke="#ffb878" stroke-width="0.5" />
<line x1="219.77" y1="514.36" x2="219.77" y2="527.82" stroke="#ffb878" stroke-width="0.5" />
<line x1="218.87" y1="514.36" x2="220.67" y2="514.36" stroke="#ffb878" stroke-width="0.5" />
<line x1="218.87" y1="527.82" x2="220.67" y2="527.82" stroke="#ffb878" stroke-width="0.5" />
<line x1="222.00" y1="513.65" x2="222.00" y2="527.35" stroke="#ffb878" stroke-width="0.5" />
<line x1="221.10" y1="513.65" x2="222.90" y2="513.65" stroke="#ffb878" stroke-width="0.5" />
<line x1="221.10" y1="527.35" x2="222.90" y2="527.35" stroke="#ffb878" stroke-width="0.5" />
<line x1="222.95" y1="513.77" x2="222.95" y2="527.42" stroke="#ffb878" stroke-width="0.5" />
<line x1="222.05" y1="513.77" x2="223.85" y2="513.77" stroke="#ffb878" stroke-width="0.5" />
<line x1="222.05" y1="527.42" x2="223.85" y2="527.42" stroke="#ffb878" stroke-width="0.5" />
<line x1="224.54" y1="514.38" x2="224.54" y2="527.83" stroke="#ffb878" stroke-width="0.5" />
<line x1="223.64" y1="514.38" x2="225.44" y2="514.38" stroke="#ffb878" stroke-width="0.5" />
<line x1="223.64" y1="527.83" x2="225.44" y2="527.83" stroke="#ffb878" stroke-width="0.5" />
<line x1="226.14" y1="515.36" x2="226.14" y2="528.49" stroke="#ffb878" stroke-width="0.5" />
<line x1="225.24" y1="515.36" x2="227.04" y2="515.36" stroke="#ffb878" stroke-width="0.5" />
<line x1="225.24" y1="528.49" x2="227.04" y2="528.49" stroke="#ffb878" stroke-width="0.5" />
<line x1="227.73" y1="516.52" x2="227.73" y2="529.26" stroke="#ffb878" stroke-width="0.5" />
<line x1="226.83" y1="516.52" x2="228.63" y2="516.52" stroke="#ffb878" stroke-width="0.5" />
<line x1="226.83" y1="529.26" x2="228.63" y2="529.26" stroke="#ffb878" stroke-width="0.5" />
<line x1="229.32" y1="517.67" x2="229.32" y2="530.03" stroke="#ffb878" stroke-width="0.5" />
<line x1="228.42" y1="517.67" x2="230.22" y2="517.67" stroke="#ffb878" stroke-width="0.5" />
<line x1="228.42" y1="530.03" x2="230.22" y2="530.03" stroke="#ffb878" stroke-width="0.5" />
<line x1="230.91" y1="518.62" x2="230.91" y2="530.66" stroke="#ffb878" stroke-width="0.5" />
<line x1="230.01" y1="518.62" x2="231.81" y2="518.62" stroke="#ffb878" stroke-width="0.5" />
<line x1="230.01" y1="530.66" x2="231.81" y2="530.66" stroke="#ffb878" stroke-width="0.5" />
<line x1="232.00" y1="519.05" x2="232.00" y2="530.95" stroke="#ffb878" stroke-width="0.5" />
<line x1="231.10" y1="519.05" x2="232.90" y2="519.05" stroke="#ffb878" stroke-width="0.5" />
<line x1="231.10" y1="530.95" x2="232.90" y2="530.95" stroke="#ffb878" stroke-width="0.5" />
<line x1="234.10" y1="519.67" x2="234.10" y2="531.36" stroke="#ffb878" stroke-width="0.5" />
<line x1="233.20" y1="519.67" x2="235.00" y2="519.67" stroke="#ffb878" stroke-width="0.5" />
<line x1="233.20" y1="531.36" x2="235.00" y2="531.36" stroke="#ffb878" stroke-width="0.5" />
<line x1="235.69" y1="520.12" x2="235.69" y2="531.66" stroke="#ffb878" stroke-width="0.5" />
<line x1="234.79" y1="520.12" x2="236.59" y2="520.12" stroke="#ffb878" stroke-width="0.5" />
<line x1="234.79" y1="531.66" x2="236.59" y2="531.66" stroke="#ffb878" stroke-width="0.5" />
<line x1="237.28" y1="520.53" x2="237.28" y2="531.93" stroke="#ffb878" stroke-width="0.5" />
<line x1="236.38" y1="520.53" x2="238.18" y2="520.53" stroke="#ffb878" stroke-width="0.5" />
<line x1="236.38" y1="531.93" x2="238.18" y2="531.93" stroke="#ffb878" stroke-width="0.5" />
<line x1="238.87" y1="520.88" x2="238.87" y2="532.17" stroke="#ffb878" stroke-width="0.5" />
<line x1="237.97" y1="520.88" x2="239.77" y2="520.88" stroke="#ffb878" stroke-width="0.5" />
<line x1="237.97" y1="532.17" x2="239.77" y2="532.17" stroke="#ffb878" stroke-width="0.5" />
<line x1="240.46" y1="521.17" x2="240.46" y2="532.36" stroke="#ffb878" stroke-width="0.5" />
<line x1="239.56" y1="521.17" x2="241.36" y2="521.17" stroke="#ffb878" stroke-width="0.5" />
<line x1="239.56" y1="532.36" x2="241.36" y2="532.36" stroke="#ffb878" stroke-width="0.5" />
<line x1="242.06" y1="521.36" x2="242.06" y2="532.49" stroke="#ffb878" stroke-width="0.5" />
<line x1="241.16" y1="521.36" x2="242.96" y2="521.36" stroke="#ffb878" stroke-width="0.5" />
<line x1="241.16" y1="532.49" x2="242.96" y2="532.49" stroke="#ffb878" stroke-width="0.5" />
<line x1="244.00" y1="521.45" x2="244.00" y2="532.55" stroke="#ffb878" stroke-width="0.5" />
<line x1="243.10" y1="521.45" x2="244.90" y2="521.45" stroke="#ffb878" stroke-width="0.5" />
<line x1="243.10" y1="532.55" x2="244.90" y2="532.55" stroke="#ffb878" stroke-width="0.5" />
<line x1="245.24" y1="521.18" x2="245.24" y2="532.36" stroke="#ffb878" stroke-width="0.5" />
<line x1="244.34" y1="521.18" x2="246.14" y2="521.18" stroke="#ffb878" stroke-width="0.5" />
<line x1="244.34" y1="532.36" x2="246.14" y2="532.36" stroke="#ffb878" stroke-width="0.5" />
<line x1="246.83" y1="520.17" x2="246.83" y2="531.69" stroke="#ffb878" stroke-width="0.5" />
<line x1="245.93" y1="520.17" x2="247.73" y2="520.17" stroke="#ffb878" stroke-width="0.5" />
<line x1="245.93" y1="531.69" x2="247.73" y2="531.69" stroke="#ffb878" stroke-width="0.5" />
<line x1="248.42" y1="518.68" x2="248.42" y2="530.70" stroke="#ffb878" stroke-width="0.5" />
<line x1="247.52" y1="518.68" x2="249.32" y2="518.68" stroke="#ffb878" stroke-width="0.5" />
<line x1="247.52" y1="530.70" x2="249.32" y2="530.70" stroke="#ffb878" stroke-width="0.5" />
<line x1="250.02" y1="517.01" x2="250.02" y2="529.58" stroke="#ffb878" stroke-width="0.5" />
<line x1="249.12" y1="517.01" x2="250.92" y2="517.01" stroke="#ffb878" stroke-width="0.5" />
<line x1="249.12" y1="529.58" x2="250.92" y2="529.58" stroke="#ffb878" stroke-width="0.5" />
<line x1="251.61" y1="515.42" x2="251.61" y2="528.53" stroke="#ffb878" stroke-width="0.5" />
<line x1="250.71" y1="515.42" x2="252.51" y2="515.42" stroke="#ffb878" stroke-width="0.5" />
<line x1="250.71" y1="528.53" x2="252.51" y2="528.53" stroke="#ffb878" stroke-width="0.5" />
<line x1="253.20" y1="514.21" x2="253.20" y2="527.72" stroke="#ffb878" stroke-width="0.5" />
<line x1="252.30" y1="514.21" x2="254.10" y2="514.21" stroke="#ffb878" stroke-width="0.5" />
<line x1="252.30" y1="527.72" x2="254.10" y2="527.72" stroke="#ffb878" stroke-width="0.5" />
<line x1="255.00" y1="513.65" x2="255.00" y2="527.35" stroke="#ffb878" stroke-width="0.5" />
<line x1="254.10" y1="513.65" x2="255.90" y2="513.65" stroke="#ffb878" stroke-width="0.5" />
<line x1="254.10" y1="527.35" x2="255.90" y2="527.35" stroke="#ffb878" stroke-width="0.5" />
<line x1="256.38" y1="513.91" x2="256.38" y2="527.52" stroke="#ffb878" stroke-width="0.5" />
<line x1="255.48" y1="513.91" x2="257.28" y2="513.91" stroke="#ffb878" stroke-width="0.5" />
<line x1="255.48" y1="527.52" x2="257.28" y2="527.52" stroke="#ffb878" stroke-width="0.5" />
<line x1="257.98" y1="514.74" x2="257.98" y2="528.07" stroke="#ffb878" stroke-width="0.5" />
<line x1="257.08" y1="514.74" x2="258.88" y2="514.74" stroke="#ffb878" stroke-width="0.5" />
<line x1="257.08" y1="528.07" x2="258.88" y2="528.07" stroke="#ffb878" stroke-width="0.5" />
<line x1="259.57" y1="515.93" x2="259.57" y2="528.87" stroke="#ffb878" stroke-width="0.5" />
<line x1="258.67" y1="515.93" x2="260.47" y2="515.93" stroke="#ffb878" stroke-width="0.5" />
<line x1="258.67" y1="528.87" x2="260.47" y2="528.87" stroke="#ffb878" stroke-width="0.5" />
<line x1="261.16" y1="517.28" x2="261.16" y2="529.77" stroke="#ffb878" stroke-width="0.5" />
<line x1="260.26" y1="517.28" x2="262.06" y2="517.28" stroke="#ffb878" stroke-width="0.5" />
<line x1="260.26" y1="529.77" x2="262.06" y2="529.77" stroke="#ffb878" stroke-width="0.5" />
<line x1="262.75" y1="518.59" x2="262.75" y2="530.64" stroke="#ffb878" stroke-width="0.5" />
<line x1="261.85" y1="518.59" x2="263.65" y2="518.59" stroke="#ffb878" stroke-width="0.5" />
<line x1="261.85" y1="530.64" x2="263.65" y2="530.64" stroke="#ffb878" stroke-width="0.5" />
<line x1="264.34" y1="519.64" x2="264.34" y2="531.34" stroke="#ffb878" stroke-width="0.5" />
<line x1="263.44" y1="519.64" x2="265.24" y2="519.64" stroke="#ffb878" stroke-width="0.5" />
<line x1="263.44" y1="531.34" x2="265.24" y2="531.34" stroke="#ffb878" stroke-width="0.5" />
<line x1="266.00" y1="520.25" x2="266.00" y2="531.75" stroke="#ffb878" stroke-width="0.5" />
<line x1="265.10" y1="520.25" x2="266.90" y2="520.25" stroke="#ffb878" stroke-width="0.5" />
<line x1="265.10" y1="531.75" x2="266.90" y2="531.75" stroke="#ffb878" stroke-width="0.5" />
<line x1="267.53" y1="520.51" x2="267.53" y2="531.92" stroke="#ffb878" stroke-width="0.5" />
<line x1="266.63" y1="520.51" x2="268.43" y2="520.51" stroke="#ffb878" stroke-width="0.5" />
<line x1="266.63" y1="531.92" x2="268.43" y2="531.92" stroke="#ffb878" stroke-width="0.5" />
<line x1="269.12" y1="520.75" x2="269.12" y2="532.08" stroke="#ffb878" stroke-width="0.5" />
<line x1="268.22" y1="520.75" x2="270.02" y2="520.75" stroke="#ffb878" stroke-width="0.5" />
<line x1="268.22" y1="532.08" x2="270.02" y2="532.08" stroke="#ffb878" stroke-width="0.5" />
<line x1="270.71" y1="520.96" x2="270.71" y2="532.22" stroke="#ffb878" stroke-width="0.5" />
<line x1="269.81" y1="520.96" x2="271.61" y2="520.96" stroke="#ffb878" stroke-width="0.5" />
<line x1="269.81" y1="532.22" x2="271.61" y2="532.22" stroke="#ffb878" stroke-width="0.5" />
<line x1="272.30" y1="521.14" x2="272.30" y2="532.34" stroke="#ffb878" stroke-width="0.5" />
<line x1="271.40" y1="521.14" x2="273.20" y2="521.14" stroke="#ffb878" stroke-width="0.5" />
<line x1="271.40" y1="532.34" x2="273.20" y2="532.34" stroke="#ffb878" stroke-width="0.5" />
<line x1="273.90" y1="521.29" x2="273.90" y2="532.44" stroke="#ffb878" stroke-width="0.5" />
<line x1="273.00" y1="521.29" x2="274.80" y2="521.29" stroke="#ffb878" stroke-width="0.5" />
<line x1="273.00" y1="532.44" x2="274.80" y2="532.44" stroke="#ffb878" stroke-width="0.5" />
<line x1="275.49" y1="521.39" x2="275.49" y2="532.51" stroke="#ffb878" stroke-width="0.5" />
<line x1="274.59" y1="521.39" x2="276.39" y2="521.39" stroke="#ffb878" stroke-width="0.5" />
<line x1="274.59" y1="532.51" x2="276.39" y2="532.51" stroke="#ffb878" stroke-width="0.5" />
<line x1="277.08" y1="521.44" x2="277.08" y2="532.54" stroke="#ffb878" stroke-width="0.5" />
<line x1="276.18" y1="521.44" x2="277.98" y2="521.44" stroke="#ffb878" stroke-width="0.5" />
<line x1="276.18" y1="532.54" x2="277.98" y2="532.54" stroke="#ffb878" stroke-width="0.5" />
<line x1="278.00" y1="521.45" x2="278.00" y2="532.55" stroke="#ffb878" stroke-width="0.5" />
<line x1="277.10" y1="521.45" x2="278.90" y2="521.45" stroke="#ffb878" stroke-width="0.5" />
<line x1="277.10" y1="532.55" x2="278.90" y2="532.55" stroke="#ffb878" stroke-width="0.5" />
<line x1="280.26" y1="520.67" x2="280.26" y2="532.03" stroke="#ffb878" stroke-width="0.5" />
<line x1="279.36" y1="520.67" x2="281.16" y2="520.67" stroke="#ffb878" stroke-width="0.5" />
<line x1="279.36" y1="532.03" x2="281.16" y2="532.03" stroke="#ffb878" stroke-width="0.5" />
<line x1="281.86" y1="519.41" x2="281.86" y2="531.19" stroke="#ffb878" stroke-width="0.5" />
<line x1="280.96" y1="519.41" x2="282.76" y2="519.41" stroke="#ffb878" stroke-width="0.5" />
<line x1="280.96" y1="531.19" x2="282.76" y2="531.19" stroke="#ffb878" stroke-width="0.5" />
<line x1="283.45" y1="517.83" x2="283.45" y2="530.13" stroke="#ffb878" stroke-width="0.5" />
<line x1="282.55" y1="517.83" x2="284.35" y2="517.83" stroke="#ffb878" stroke-width="0.5" />
<line x1="282.55" y1="530.13" x2="284.35" y2="530.13" stroke="#ffb878" stroke-width="0.5" />
<line x1="285.04" y1="516.17" x2="285.04" y2="529.03" stroke="#ffb878" stroke-width="0.5" />
<line x1="284.14" y1="516.17" x2="285.94" y2="516.17" stroke="#ffb878" stroke-width="0.5" />
<line x1="284.14" y1="529.03" x2="285.94" y2="529.03" stroke="#ffb878" stroke-width="0.5" />
<line x1="286.63" y1="514.67" x2="286.63" y2="528.02" stroke="#ffb878" stroke-width="0.5" />
<line x1="285.73" y1="514.67" x2="287.53" y2="514.67" stroke="#ffb878" stroke-width="0.5" />
<line x1="285.73" y1="528.02" x2="287.53" y2="528.02" stroke="#ffb878" stroke-width="0.5" />
<line x1="288.22" y1="513.55" x2="288.22" y2="527.28" stroke="#ffb878" stroke-width="0.5" />
<line x1="287.32" y1="513.55" x2="289.12" y2="513.55" stroke="#ffb878" stroke-width="0.5" />
<line x1="287.32" y1="527.28" x2="289.12" y2="527.28" stroke="#ffb878" stroke-width="0.5" />
<line x1="290.00" y1="513.05" x2="290.00" y2="526.95" stroke="#ffb878" stroke-width="0.5" />
<line x1="289.10" y1="513.05" x2="290.90" y2="513.05" stroke="#ffb878" stroke-width="0.5" />
<line x1="289.10" y1="526.95" x2="290.90" y2="526.95" stroke="#ffb878" stroke-width="0.5" />
<line x1="291.41" y1="513.30" x2="291.41" y2="527.12" stroke="#ffb878" stroke-width="0.5" />
<line x1="290.51" y1="513.30" x2="292.31" y2="513.30" stroke="#ffb878" stroke-width="0.5" />
<line x1="290.51" y1="527.12" x2="292.31" y2="527.12" stroke="#ffb878" stroke-width="0.5" />
<line x1="293.00" y1="514.08" x2="293.00" y2="527.63" stroke="#ffb878" stroke-width="0.5" />
<line x1="292.10" y1="514.08" x2="293.90" y2="514.08" stroke="#ffb878" stroke-width="0.5" />
<line x1="292.10" y1="527.63" x2="293.90" y2="527.63" stroke="#ffb878" stroke-width="0.5" />
<line x1="294.59" y1="515.20" x2="294.59" y2="528.38" stroke="#ffb878" stroke-width="0.5" />
<line x1="293.69" y1="515.20" x2="295.49" y2="515.20" stroke="#ffb878" stroke-width="0.5" />
<line x1="293.69" y1="528.38" x2="295.49" y2="528.38" stroke="#ffb878" stroke-width="0.5" />
<line x1="296.18" y1="516.48" x2="296.18" y2="529.23" stroke="#ffb878" stroke-width="0.5" />
<line x1="295.28" y1="516.48" x2="297.08" y2="516.48" stroke="#ffb878" stroke-width="0.5" />
<line x1="295.28" y1="529.23" x2="297.08" y2="529.23" stroke="#ffb878" stroke-width="0.5" />
<line x1="297.78" y1="517.72" x2="297.78" y2="530.06" stroke="#ffb878" stroke-width="0.5" />
<line x1="296.88" y1="517.72" x2="298.68" y2="517.72" stroke="#ffb878" stroke-width="0.5" />
<line x1="296.88" y1="530.06" x2="298.68" y2="530.06" stroke="#ffb878" stroke-width="0.5" />
<line x1="300.00" y1="519.05" x2="300.00" y2="530.95" stroke="#ffb878" stroke-width="0.5" />
<line x1="299.10" y1="519.05" x2="300.90" y2="519.05" stroke="#ffb878" stroke-width="0.5" />
<line x1="299.10" y1="530.95" x2="300.90" y2="530.95" stroke="#ffb878" stroke-width="0.5" />
<line x1="300.96" y1="519.47" x2="300.96" y2="531.23" stroke="#ffb878" stroke-width="0.5" />
<line x1="300.06" y1="519.47" x2="301.86" y2="519.47" stroke="#ffb878" stroke-width="0.5" />
<line x1="300.06" y1="531.23" x2="301.86" y2="531.23" stroke="#ffb878" stroke-width="0.5" />
<line x1="302.55" y1="520.18" x2="302.55" y2="531.70" stroke="#ffb878" stroke-width="0.5" />
<line x1="301.65" y1="520.18" x2="303.45" y2="520.18" stroke="#ffb878" stroke-width="0.5" />
<line x1="301.65" y1="531.70" x2="303.45" y2="531.70" stroke="#ffb878" stroke-width="0.5" />
<line x1="304.14" y1="520.88" x2="304.14" y2="532.17" stroke="#ffb878" stroke-width="0.5" />
<line x1="303.24" y1="520.88" x2="305.04" y2="520.88" stroke="#ffb878" stroke-width="0.5" />
<line x1="303.24" y1="532.17" x2="305.04" y2="532.17" stroke="#ffb878" stroke-width="0.5" />
<line x1="305.74" y1="521.53" x2="305.74" y2="532.60" stroke="#ffb878" stroke-width="0.5" />
<line x1="304.84" y1="521.53" x2="306.64" y2="521.53" stroke="#ffb878" stroke-width="0.5" />
<line x1="304.84" y1="532.60" x2="306.64" y2="532.60" stroke="#ffb878" stroke-width="0.5" />
<line x1="307.33" y1="522.06" x2="307.33" y2="532.96" stroke="#ffb878" stroke-width="0.5" />
<line x1="306.43" y1="522.06" x2="308.23" y2="522.06" stroke="#ffb878" stroke-width="0.5" />
<line x1="306.43" y1="532.96" x2="308.23" y2="532.96" stroke="#ffb878" stroke-width="0.5" />
<line x1="308.92" y1="522.45" x2="308.92" y2="533.21" stroke="#ffb878" stroke-width="0.5" />
<line x1="308.02" y1="522.45" x2="309.82" y2="522.45" stroke="#ffb878" stroke-width="0.5" />
<line x1="308.02" y1="533.21" x2="309.82" y2="533.21" stroke="#ffb878" stroke-width="0.5" />
<line x1="311.00" y1="522.65" x2="311.00" y2="533.35" stroke="#ffb878" stroke-width="0.5" />
<line x1="310.10" y1="522.65" x2="311.90" y2="522.65" stroke="#ffb878" stroke-width="0.5" />
<line x1="310.10" y1="533.35" x2="311.90" y2="533.35" stroke="#ffb878" stroke-width="0.5" />
<line x1="312.10" y1="522.57" x2="312.10" y2="533.29" stroke="#ffb878" stroke-width="0.5" />
<line x1="311.20" y1="522.57" x2="313.00" y2="522.57" stroke="#ffb878" stroke-width="0.5" />
<line x1="311.20" y1="533.29" x2="313.00" y2="533.29" stroke="#ffb878" stroke-width="0.5" />
<line x1="313.70" y1="522.20" x2="313.70" y2="533.05" stroke="#ffb878" stroke-width="0.5" />
<line x1="312.80" y1="522.20" x2="314.60" y2="522.20" stroke="#ffb878" stroke-width="0.5" />
<line x1="312.80" y1="533.05" x2="314.60" y2="533.05" stroke="#ffb878" stroke-width="0.5" />
<line x1="315.29" y1="521.64" x2="315.29" y2="532.68" stroke="#ffb878" stroke-width="0.5" />
<line x1="314.39" y1="521.64" x2="316.19" y2="521.64" stroke="#ffb878" stroke-width="0.5" />
<line x1="314.39" y1="532.68" x2="316.19" y2="532.68" stroke="#ffb878" stroke-width="0.5" />
<line x1="316.88" y1="521.01" x2="316.88" y2="532.25" stroke="#ffb878" stroke-width="0.5" />
<line x1="315.98" y1="521.01" x2="317.78" y2="521.01" stroke="#ffb878" stroke-width="0.5" />
<line x1="315.98" y1="532.25" x2="317.78" y2="532.25" stroke="#ffb878" stroke-width="0.5" />
<line x1="319.00" y1="520.25" x2="319.00" y2="531.75" stroke="#ffb878" stroke-width="0.5" />
<line x1="318.10" y1="520.25" x2="319.90" y2="520.25" stroke="#ffb878" stroke-width="0.5" />
<line x1="318.10" y1="531.75" x2="319.90" y2="531.75" stroke="#ffb878" stroke-width="0.5" />
<polyline points="68.20,520.00 70.12,518.67 71.71,517.59 73.30,516.42 74.40,515.50 76.49,512.71 78.70,510.70 79.67,512.67 81.50,517.80 82.86,515.13 84.45,508.88 86.00,505.50 87.63,513.09 88.50,517.00 89.22,518.12 90.50,519.50 92.41,521.77 94.10,523.40 95.59,524.48 97.18,525.61 98.78,526.65 100.37,527.56 101.96,528.29 103.55,528.78 105.40,529.00 106.74,528.62 108.33,527.37 109.92,525.54 111.51,523.44 113.80,520.60 114.70,519.51 116.29,517.18 117.88,514.70 119.47,512.51 121.06,511.05 122.20,510.70 124.25,514.25 126.40,519.20 127.43,520.20 129.02,521.45 130.62,522.45 132.21,523.31 133.80,524.16 134.90,524.80 136.98,526.27 138.58,527.47 140.17,528.54 141.76,529.28 143.10,529.50 144.94,529.13 146.54,528.31 148.13,527.14 150.00,525.50 151.31,523.14 152.90,518.83 155.00,515.50 156.09,516.04 157.68,518.10 159.27,520.33 160.00,521.00 160.86,521.56 162.46,522.51 164.05,523.36 165.64,524.09 167.23,524.70 168.82,525.20 170.00,525.50 172.01,525.95 173.60,526.27 175.19,526.56 176.78,526.79 178.38,526.94 180.00,527.00 181.56,526.67 183.15,525.81 184.74,524.65 186.34,523.41 187.93,522.33 189.52,521.64 190.50,521.50 192.70,521.88 194.30,522.49 195.89,523.26 197.48,524.04 199.07,524.71 200.00,525.00 202.26,525.61 203.85,526.04 205.44,526.43 207.03,526.74 208.62,526.94 210.00,527.00 211.81,526.60 213.40,525.73 214.99,524.56 216.58,523.28 218.18,522.06 219.77,521.09 222.00,520.50 222.95,520.59 224.54,521.11 226.14,521.92 227.73,522.89 229.32,523.85 230.91,524.64 232.00,525.00 234.10,525.51 235.69,525.89 237.28,526.23 238.87,526.53 240.46,526.76 242.06,526.92 244.00,527.00 245.24,526.77 246.83,525.93 248.42,524.69 250.02,523.29 251.61,521.97 253.20,520.97 255.00,520.50 256.38,520.72 257.98,521.40 259.57,522.40 261.16,523.52 262.75,524.61 264.34,525.49 266.00,526.00 267.53,526.21 269.12,526.41 270.71,526.59 272.30,526.74 273.90,526.86 275.49,526.95 277.08,526.99 278.00,527.00 280.26,526.35 281.86,525.30 283.45,523.98 285.04,522.60 286.63,521.35 288.22,520.41 290.00,520.00 291.41,520.21 293.00,520.86 294.59,521.79 296.18,522.85 297.78,523.89 300.00,525.00 300.96,525.35 302.55,525.94 304.14,526.53 305.74,527.06 307.33,527.51 308.92,527.83 311.00,528.00 312.10,527.93 313.70,527.62 315.29,527.16 316.88,526.63 319.00,526.00" fill="none" stroke="#ff8a12" stroke-width="2.5"/>
<circle cx="68.20" cy="520.00" r="1.25" fill="#ff8a12" />
<circle cx="70.12" cy="518.67" r="1.25" fill="#ff8a12" />
<circle cx="71.71" cy="517.59" r="1.25" fill="#ff8a12" />
<circle cx="73.30" cy="516.42" r="1.25" fill="#ff8a12" />
<circle cx="74.40" cy="515.50" r="1.25" fill="#ff8a12" />
<circle cx="76.49" cy="512.71" r="1.25" fill="#ff8a12" />
<circle cx="78.70" cy="510.70" r="1.25" fill="#ff8a12" />
<circle cx="79.67" cy="512.67" r="1.25" fill="#ff8a12" />
<circle cx="81.50" cy="517.80" r="1.25" fill="#ff8a12" />
<circle cx="82.86" cy="515.13" r="1.25" fill="#ff8a12" />
<circle cx="84.45" cy="508.88" r="1.25" fill="#ff8a12" />
<circle cx="86.00" cy="505.50" r="1.25" fill="#ff8a12" />
<circle cx="87.63" cy="513.09" r="1.25" fill="#ff8a12" />
<circle cx="88.50" cy="517.00" r="1.25" fill="#ff8a12" />
<circle cx="89.22" cy="518.12" r="1.25" fill="#ff8a12" />
<circle cx="90.50" cy="519.50" r="1.25" fill="#ff8a12" />
<circle cx="92.41" cy="521.77" r="1.25" fill="#ff8a12" />
<circle cx="94.10" cy="523.40" r="1.25" fill="#ff8a12" />
<circle cx="95.59" cy="524.48" r="1.25" fill="#ff8a12" />
<circle cx="97.18" cy="525.61" r="1.25" fill="#ff8a12" />
<circle cx="98.78" cy="526.65" r="1.25" fill="#ff8a12" />
<circle cx="100.37" cy="527.56" r="1.25" fill="#ff8a12" />
<circle cx="101.96" cy="528.29" r="1.25" fill="#ff8a12" />
<circle cx="103.55" cy="528.78" r="1.25" fill="#ff8a12" />
<circle cx="105.40" cy="529.00" r="1.25" fill="#ff8a12" />
<circle cx="106.74" cy="528.62" r="1.25" fill="#ff8a12" />
<circle cx="108.33" cy="527.37" r="1.25" fill="#ff8a12" />
<circle cx="109.92" cy="525.54" r="1.25" fill="#ff8a12" />
<circle cx="111.51" cy="523.44" r="1.25" fill="#ff8a12" />
<circle cx="113.80" cy="520.60" r="1.25" fill="#ff8a12" />
<circle cx="114.70" cy="519.51" r="1.25" fill="#ff8a12" />
<circle cx="116.29" cy="517.18" r="1.25" fill="#ff8a12" />
<circle cx="117.88" cy="514.70" r="1.25" fill="#ff8a12" />
<circle cx="119.47" cy="512.51" r="1.25" fill="#ff8a12" />
<circle cx="121.06" cy="511.05" r="1.25" fill="#ff8a12" />
<circle cx="122.20" cy="510.70" r="1.25" fill="#ff8a12" />
<circle cx="124.25" cy="514.25" r="1.25" fill="#ff8a12" />
<circle cx="126.40" cy="519.20" r="1.25" fill="#ff8a12" />
<circle cx="127.43" cy="520.20" r="1.25" fill="#ff8a12" />
<circle cx="129.02" cy="521.45" r="1.25" fill="#ff8a12" />
<circle cx="130.62" cy="522.45" r="1.25" fill="#ff8a12" />
<circle cx="132.21" cy="523.31" r="1.25" fill="#ff8a12" />
<circle cx="133.80" cy="524.16" r="1.25" fill="#ff8a12" />
<circle cx="134.90" cy="524.80" r="1.25" fill="#ff8a12" />
<circle cx="136.98" cy="526.27" r="1.25" fill="#ff8a12" />
<circle cx="138.58" cy="527.47" r="1.25" fill="#ff8a12" />
<circle cx="140.17" cy="528.54" r="1.25" fill="#ff8a12" />
<circle cx="141.76" cy="529.28" r="1.25" fill="#ff8a12" />
<circle cx="143.10" cy="529.50" r="1.25" fill="#ff8a12" />
<circle cx="144.94" cy="529.13" r="1.25" fill="#ff8a12" />
<circle cx="146.54" cy="528.31" r="1.25" fill="#ff8a12" />
<circle cx="148.13" cy="527.14" r="1.25" fill="#ff8a12" />
<circle cx="150.00" cy="525.50" r="1.25" fill="#ff8a12" />
<circle cx="151.31" cy="523.14" r="1.25" fill="#ff8a12" />
<circle cx="152.90" cy="518.83" r="1.25" fill="#ff8a12" />
<circle cx="155.00" cy="515.50" r="1.25" fill="#ff8a12" />
<circle cx="156.09" cy="516.04" r="1.25" fill="#ff8a12" />
<circle cx="157.68" cy="518.10" r="1.25" fill="#ff8a12" />
<circle cx="159.27" cy="520.33" r="1.25" fill="#ff8a12" />
<circle cx="160.00" cy="521.00" r="1.25" fill="#ff8a12" />
<circle cx="160.86" cy="521.56" r="1.25" fill="#ff8a12" />
<circle cx="162.46" cy="522.51" r="1.25" fill="#ff8a12" />
<circle cx="164.05" cy="523.36" r="1.25" fill="#ff8a12" />
<circle cx="165.64" cy="524.09" r="1.25" fill="#ff8a12" />
<circle cx="167.23" cy="524.70" r="1.25" fill="#ff8a12" />
<circle cx="168.82" cy="525.20" r="1.25" fill="#ff8a12" />
<circle cx="170.00" cy="525.50" r="1.25" fill="#ff8a12" />
<circle cx="172.01" cy="525.95" r="1.25" fill="#ff8a12" />
<circle cx="173.60" cy="526.27" r="1.25" fill="#ff8a12" />
<circle cx="175.19" cy="526.56" r="1.25" fill="#ff8a12" />
<circle cx="176.78" cy="526.79" r="1.25" fill="#ff8a12" />
<circle cx="178.38" cy="526.94" r="1.25" fill="#ff8a12" />
<circle cx="180.00" cy="527.00" r="1.25" fill="#ff8a12" />
<circle cx="181.56" cy="526.67" r="1.25" fill="#ff8a12" />
<circle cx="183.15" cy="525.81" r="1.25" fill="#ff8a12" />
<circle cx="184.74" cy="524.65" r="1.25" fill="#ff8a12" />
<circle cx="186.34" cy="523.41" r="1.25" fill="#ff8a12" />
<circle cx="187.93" cy="522.33" r="1.25" fill="#ff8a12" />
<circle cx="189.52" cy="521.64" r="1.25" fill="#ff8a12" />
<circle cx="190.50" cy="521.50" r="1.25" fill="#ff8a12" />
<circle cx="192.70" cy="521.88" r="1.25" fill="#ff8a12" />
<circle cx="194.30" cy="522.49" r="1.25" fill="#ff8a12" />
<circle cx="195.89" cy="523.26" r="1.25" fill="#ff8a12" />
<circle cx="197.48" cy="524.04" r="1.25" fill="#ff8a12" />
<circle cx="199.07" cy="524.71" r="1.25" fill="#ff8a12" />
<circle cx="200.00" cy="525.00" r="1.25" fill="#ff8a12" />
<circle cx="202.26" cy="525.61" r="1.25" fill="#ff8a12" />
<circle cx="203.85" cy="526.04" r="1.25" fill="#ff8a12" />
<circle cx="205.44" cy="526.43" r="1.25" fill="#ff8a12" />
<circle cx="207.03" cy="526.74" r="1.25" fill="#ff8a12" />
<circle cx="208.62" cy="526.94" r="1.25" fill="#ff8a12" />
<circle cx="210.00" cy="527.00" r="1.25" fill="#ff8a12" />
<circle cx="211.81" cy="526.60" r="1.25" fill="#ff8a12" />
<circle cx="213.40" cy="525.73" r="1.25" fill="#ff8a12" />
<circle cx="214.99" cy="524.56" r="1.25" fill="#ff8a12" />
<circle cx="216.58" cy="523.28" r="1.25" fill="#ff8a12" />
<circle cx="218.18" cy="522.06" r="1.25" fill="#ff8a12" />
<circle cx="219.77" cy="521.09" r="1.25" fill="#ff8a12" />
<circle cx="222.00" cy="520.50" r="1.25" fill="#ff8a12" />
<circle cx="222.95" cy="520.59" r="1.25" fill="#ff8a12" />
<circle cx="224.54" cy="521.11" r="1.25" fill="#ff8a12" />
<circle cx="226.14" cy="521.92" r="1.25" fill="#ff8a12" />
<circle cx="227.73" cy="522.89" r="1.25" fill="#ff8a12" />
<circle cx="229.32" cy="523.85" r="1.25" fill="#ff8a12" />
<circle cx="230.91" cy="524.64" r="1.25" fill="#ff8a12" />
<circle cx="232.00" cy="525.00" r="1.25" fill="#ff8a12" />
<circle cx="234.10" cy="525.51" r="1.25" fill="#ff8a12" />
<circle cx="235.69" cy="525.89" r="1.25" fill="#ff8a12" />
<circle cx="237.28" cy="526.23" r="1.25" fill="#ff8a12" />
<circle cx="238.87" cy="526.53" r="1.25" fill="#ff8a12" />
<circle cx="240.46" cy="526.76" r="1.25" fill="#ff8a12" />
<circle cx="242.06" cy="526.92" r="1.25" fill="#ff8a12" />
<circle cx="244.00" cy="527.00" r="1.25" fill="#ff8a12" />
<circle cx="245.24" cy="526.77" r="1.25" fill="#ff8a12" />
<circle cx="246.83" cy="525.93" r="1.25" fill="#ff8a12" />
<circle cx="248.42" cy="524.69" r="1.25" fill="#ff8a12" />
<circle cx="250.02" cy="523.29" r="1.25" fill="#ff8a12" />
<circle cx="251.61" cy="521.97" r="1.25" fill="#ff8a12" />
<circle cx="253.20" cy="520.97" r="1.25" fill="#ff8a12" />
<circle cx="255.00" cy="520.50" r="1.25" fill="#ff8a12" />
<circle cx="256.38" cy="520.72" r="1.25" fill="#ff8a12" />
<circle cx="257.98" cy="521.40" r="1.25" fill="#ff8a12" />
<circle cx="259.57" cy="522.40" r="1.25" fill="#ff8a12" />
<circle cx="261.16" cy="523.52" r="1.25" fill="#ff8a12" />
<circle cx="262.75" cy="524.61" r="1.25" fill="#ff8a12" />
<circle cx="264.34" cy="525.49" r="1.25" fill="#ff8a12" />
<circle cx="266.00" cy="526.00" r="1.25" fill="#ff8a12" />
<circle cx="267.53" cy="526.21" r="1.25" fill="#ff8a12" />
<circle cx="269.12" cy="526.41" r="1.25" fill="#ff8a12" />
<circle cx="270.71" cy="526.59" r="1.25" fill="#ff8a12" />
<circle cx="272.30" cy="526.74" r="1.25" fill="#ff8a12" />
<circle cx="273.90" cy="526.86" r="1.25" fill="#ff8a12" />
<circle cx="275.49" cy="526.95" r="1.25" fill="#ff8a12" />
<circle cx="277.08" cy="526.99" r="1.25" fill="#ff8a12" />
<circle cx="278.00" cy="527.00" r="1.25" fill="#ff8a12" />
<circle cx="280.26" cy="526.35" r="1.25" fill="#ff8a12" />
<circle cx="281.86" cy="525.30" r="1.25" fill="#ff8a12" />
<circle cx="283.45" cy="523.98" r="1.25" fill="#ff8a12" />
<circle cx="285.04" cy="522.60" r="1.25" fill="#ff8a12" />
<circle cx="286.63" cy="521.35" r="1.25" fill="#ff8a12" />
<circle cx="288.22" cy="520.41" r="1.25" fill="#ff8a12" />
<circle cx="290.00" cy="520.00" r="1.25" fill="#ff8a12" />
<circle cx="291.41" cy="520.21" r="1.25" fill="#ff8a12" />
<circle cx="293.00" cy="520.86" r="1.25" fill="#ff8a12" />
<circle cx="294.59" cy="521.79" r="1.25" fill="#ff8a12" />
<circle cx="296.18" cy="522.85" r="1.25" fill="#ff8a12" />
<circle cx="297.78" cy="523.89" r="1.25" fill="#ff8a12" />
<circle cx="300.00" cy="525.00" r="1.25" fill="#ff8a12" />
<circle cx="300.96" cy="525.35" r="1.25" fill="#ff8a12" />
<circle cx="302.55" cy="525.94" r="1.25" fill="#ff8a12" />
<circle cx="304.14" cy="526.53" r="1.25" fill="#ff8a12" />
<circle cx="305.74" cy="527.06" r="1.25" fill="#ff8a12" />
<circle cx="307.33" cy="527.51" r="1.25" fill="#ff8a12" />
<circle cx="308.92" cy="527.83" r="1.25" fill="#ff8a12" />
<circle cx="311.00" cy="528.00" r="1.25" fill="#ff8a12" />
<circle cx="312.10" cy="527.93" r="1.25" fill="#ff8a12" />
<circle cx="313.70" cy="527.62" r="1.25" fill="#ff8a12" />
<circle cx="315.29" cy="527.16" r="1.25" fill="#ff8a12" />
<circle cx="316.88" cy="526.63" r="1.25" fill="#ff8a12" />
<circle cx="319.00" cy="526.00" r="1.25" fill="#ff8a12" />
<line x1="68.20" y1="509.35" x2="68.20" y2="514.85" stroke="#333" stroke-width="0.45" />
<line x1="67.30" y1="509.35" x2="69.10" y2="509.35" stroke="#333" stroke-width="0.45" />
<line x1="67.30" y1="514.85" x2="69.10" y2="514.85" stroke="#333" stroke-width="0.45" />
<line x1="70.12" y1="499.91" x2="70.12" y2="506.48" stroke="#333" stroke-width="0.45" />
<line x1="69.22" y1="499.91" x2="71.02" y2="499.91" stroke="#333" stroke-width="0.45" />
<line x1="69.22" y1="506.48" x2="71.02" y2="506.48" stroke="#333" stroke-width="0.45" />
<line x1="71.60" y1="491.54" x2="71.60" y2="499.06" stroke="#333" stroke-width="0.45" />
<line x1="70.70" y1="491.54" x2="72.50" y2="491.54" stroke="#333" stroke-width="0.45" />
<line x1="70.70" y1="499.06" x2="72.50" y2="499.06" stroke="#333" stroke-width="0.45" />
<line x1="73.30" y1="477.06" x2="73.30" y2="486.22" stroke="#333" stroke-width="0.45" />
<line x1="72.40" y1="477.06" x2="74.20" y2="477.06" stroke="#333" stroke-width="0.45" />
<line x1="72.40" y1="486.22" x2="74.20" y2="486.22" stroke="#333" stroke-width="0.45" />
<line x1="74.40" y1="467.69" x2="74.40" y2="477.91" stroke="#333" stroke-width="0.45" />
<line x1="73.50" y1="467.69" x2="75.30" y2="467.69" stroke="#333" stroke-width="0.45" />
<line x1="73.50" y1="477.91" x2="75.30" y2="477.91" stroke="#333" stroke-width="0.45" />
<line x1="77.20" y1="449.78" x2="77.20" y2="462.02" stroke="#333" stroke-width="0.45" />
<line x1="76.30" y1="449.78" x2="78.10" y2="449.78" stroke="#333" stroke-width="0.45" />
<line x1="76.30" y1="462.02" x2="78.10" y2="462.02" stroke="#333" stroke-width="0.45" />
<line x1="78.08" y1="443.90" x2="78.08" y2="456.82" stroke="#333" stroke-width="0.45" />
<line x1="77.18" y1="443.90" x2="78.98" y2="443.90" stroke="#333" stroke-width="0.45" />
<line x1="77.18" y1="456.82" x2="78.98" y2="456.82" stroke="#333" stroke-width="0.45" />
<line x1="80.10" y1="431.86" x2="80.10" y2="446.14" stroke="#333" stroke-width="0.45" />
<line x1="79.20" y1="431.86" x2="81.00" y2="431.86" stroke="#333" stroke-width="0.45" />
<line x1="79.20" y1="446.14" x2="81.00" y2="446.14" stroke="#333" stroke-width="0.45" />
<line x1="81.50" y1="427.41" x2="81.50" y2="442.19" stroke="#333" stroke-width="0.45" />
<line x1="80.60" y1="427.41" x2="82.40" y2="427.41" stroke="#333" stroke-width="0.45" />
<line x1="80.60" y1="442.19" x2="82.40" y2="442.19" stroke="#333" stroke-width="0.45" />
<line x1="82.90" y1="408.01" x2="82.90" y2="424.99" stroke="#333" stroke-width="0.45" />
<line x1="82.00" y1="408.01" x2="83.80" y2="408.01" stroke="#333" stroke-width="0.45" />
<line x1="82.00" y1="424.99" x2="83.80" y2="424.99" stroke="#333" stroke-width="0.45" />
<line x1="83.70" y1="392.54" x2="83.70" y2="411.26" stroke="#333" stroke-width="0.45" />
<line x1="82.80" y1="392.54" x2="84.60" y2="392.54" stroke="#333" stroke-width="0.45" />
<line x1="82.80" y1="411.26" x2="84.60" y2="411.26" stroke="#333" stroke-width="0.45" />
<line x1="84.80" y1="419.99" x2="84.80" y2="435.61" stroke="#333" stroke-width="0.45" />
<line x1="83.90" y1="419.99" x2="85.70" y2="419.99" stroke="#333" stroke-width="0.45" />
<line x1="83.90" y1="435.61" x2="85.70" y2="435.61" stroke="#333" stroke-width="0.45" />
<line x1="85.70" y1="448.29" x2="85.70" y2="460.71" stroke="#333" stroke-width="0.45" />
<line x1="84.80" y1="448.29" x2="86.60" y2="448.29" stroke="#333" stroke-width="0.45" />
<line x1="84.80" y1="460.71" x2="86.60" y2="460.71" stroke="#333" stroke-width="0.45" />
<line x1="87.90" y1="473.63" x2="87.90" y2="483.17" stroke="#333" stroke-width="0.45" />
<line x1="87.00" y1="473.63" x2="88.80" y2="473.63" stroke="#333" stroke-width="0.45" />
<line x1="87.00" y1="483.17" x2="88.80" y2="483.17" stroke="#333" stroke-width="0.45" />
<line x1="89.22" y1="483.34" x2="89.22" y2="491.79" stroke="#333" stroke-width="0.45" />
<line x1="88.32" y1="483.34" x2="90.12" y2="483.34" stroke="#333" stroke-width="0.45" />
<line x1="88.32" y1="491.79" x2="90.12" y2="491.79" stroke="#333" stroke-width="0.45" />
<line x1="91.30" y1="494.51" x2="91.30" y2="501.69" stroke="#333" stroke-width="0.45" />
<line x1="90.40" y1="494.51" x2="92.20" y2="494.51" stroke="#333" stroke-width="0.45" />
<line x1="90.40" y1="501.69" x2="92.20" y2="501.69" stroke="#333" stroke-width="0.45" />
<line x1="92.41" y1="499.06" x2="92.41" y2="505.73" stroke="#333" stroke-width="0.45" />
<line x1="91.51" y1="499.06" x2="93.31" y2="499.06" stroke="#333" stroke-width="0.45" />
<line x1="91.51" y1="505.73" x2="93.31" y2="505.73" stroke="#333" stroke-width="0.45" />
<line x1="94.00" y1="504.76" x2="94.00" y2="510.79" stroke="#333" stroke-width="0.45" />
<line x1="93.10" y1="504.76" x2="94.90" y2="504.76" stroke="#333" stroke-width="0.45" />
<line x1="93.10" y1="510.79" x2="94.90" y2="510.79" stroke="#333" stroke-width="0.45" />
<line x1="95.59" y1="509.42" x2="95.59" y2="514.92" stroke="#333" stroke-width="0.45" />
<line x1="94.69" y1="509.42" x2="96.49" y2="509.42" stroke="#333" stroke-width="0.45" />
<line x1="94.69" y1="514.92" x2="96.49" y2="514.92" stroke="#333" stroke-width="0.45" />
<line x1="96.90" y1="512.42" x2="96.90" y2="517.58" stroke="#333" stroke-width="0.45" />
<line x1="96.00" y1="512.42" x2="97.80" y2="512.42" stroke="#333" stroke-width="0.45" />
<line x1="96.00" y1="517.58" x2="97.80" y2="517.58" stroke="#333" stroke-width="0.45" />
<line x1="98.78" y1="515.90" x2="98.78" y2="520.66" stroke="#333" stroke-width="0.45" />
<line x1="97.88" y1="515.90" x2="99.68" y2="515.90" stroke="#333" stroke-width="0.45" />
<line x1="97.88" y1="520.66" x2="99.68" y2="520.66" stroke="#333" stroke-width="0.45" />
<line x1="100.37" y1="518.45" x2="100.37" y2="522.93" stroke="#333" stroke-width="0.45" />
<line x1="99.47" y1="518.45" x2="101.27" y2="518.45" stroke="#333" stroke-width="0.45" />
<line x1="99.47" y1="522.93" x2="101.27" y2="522.93" stroke="#333" stroke-width="0.45" />
<line x1="101.96" y1="520.65" x2="101.96" y2="524.88" stroke="#333" stroke-width="0.45" />
<line x1="101.06" y1="520.65" x2="102.86" y2="520.65" stroke="#333" stroke-width="0.45" />
<line x1="101.06" y1="524.88" x2="102.86" y2="524.88" stroke="#333" stroke-width="0.45" />
<line x1="103.55" y1="522.52" x2="103.55" y2="526.53" stroke="#333" stroke-width="0.45" />
<line x1="102.65" y1="522.52" x2="104.45" y2="522.52" stroke="#333" stroke-width="0.45" />
<line x1="102.65" y1="526.53" x2="104.45" y2="526.53" stroke="#333" stroke-width="0.45" />
<line x1="105.40" y1="524.29" x2="105.40" y2="528.11" stroke="#333" stroke-width="0.45" />
<line x1="104.50" y1="524.29" x2="106.30" y2="524.29" stroke="#333" stroke-width="0.45" />
<line x1="104.50" y1="528.11" x2="106.30" y2="528.11" stroke="#333" stroke-width="0.45" />
<line x1="106.74" y1="525.45" x2="106.74" y2="529.13" stroke="#333" stroke-width="0.45" />
<line x1="105.84" y1="525.45" x2="107.64" y2="525.45" stroke="#333" stroke-width="0.45" />
<line x1="105.84" y1="529.13" x2="107.64" y2="529.13" stroke="#333" stroke-width="0.45" />
<line x1="107.60" y1="525.78" x2="107.60" y2="529.42" stroke="#333" stroke-width="0.45" />
<line x1="106.70" y1="525.78" x2="108.50" y2="525.78" stroke="#333" stroke-width="0.45" />
<line x1="106.70" y1="529.42" x2="108.50" y2="529.42" stroke="#333" stroke-width="0.45" />
<line x1="108.33" y1="525.27" x2="108.33" y2="528.97" stroke="#333" stroke-width="0.45" />
<line x1="107.43" y1="525.27" x2="109.23" y2="525.27" stroke="#333" stroke-width="0.45" />
<line x1="107.43" y1="528.97" x2="109.23" y2="528.97" stroke="#333" stroke-width="0.45" />
<line x1="109.92" y1="521.20" x2="109.92" y2="525.36" stroke="#333" stroke-width="0.45" />
<line x1="109.02" y1="521.20" x2="110.82" y2="521.20" stroke="#333" stroke-width="0.45" />
<line x1="109.02" y1="525.36" x2="110.82" y2="525.36" stroke="#333" stroke-width="0.45" />
<line x1="111.51" y1="514.44" x2="111.51" y2="519.37" stroke="#333" stroke-width="0.45" />
<line x1="110.61" y1="514.44" x2="112.41" y2="514.44" stroke="#333" stroke-width="0.45" />
<line x1="110.61" y1="519.37" x2="112.41" y2="519.37" stroke="#333" stroke-width="0.45" />
<line x1="113.80" y1="503.41" x2="113.80" y2="509.59" stroke="#333" stroke-width="0.45" />
<line x1="112.90" y1="503.41" x2="114.70" y2="503.41" stroke="#333" stroke-width="0.45" />
<line x1="112.90" y1="509.59" x2="114.70" y2="509.59" stroke="#333" stroke-width="0.45" />
<line x1="114.70" y1="499.23" x2="114.70" y2="505.88" stroke="#333" stroke-width="0.45" />
<line x1="113.80" y1="499.23" x2="115.60" y2="499.23" stroke="#333" stroke-width="0.45" />
<line x1="113.80" y1="505.88" x2="115.60" y2="505.88" stroke="#333" stroke-width="0.45" />
<line x1="116.29" y1="490.49" x2="116.29" y2="498.13" stroke="#333" stroke-width="0.45" />
<line x1="115.39" y1="490.49" x2="117.19" y2="490.49" stroke="#333" stroke-width="0.45" />
<line x1="115.39" y1="498.13" x2="117.19" y2="498.13" stroke="#333" stroke-width="0.45" />
<line x1="117.40" y1="482.53" x2="117.40" y2="491.07" stroke="#333" stroke-width="0.45" />
<line x1="116.50" y1="482.53" x2="118.30" y2="482.53" stroke="#333" stroke-width="0.45" />
<line x1="116.50" y1="491.07" x2="118.30" y2="491.07" stroke="#333" stroke-width="0.45" />
<line x1="119.40" y1="458.68" x2="119.40" y2="469.92" stroke="#333" stroke-width="0.45" />
<line x1="118.50" y1="458.68" x2="120.30" y2="458.68" stroke="#333" stroke-width="0.45" />
<line x1="118.50" y1="469.92" x2="120.30" y2="469.92" stroke="#333" stroke-width="0.45" />
<line x1="121.40" y1="428.89" x2="121.40" y2="443.51" stroke="#333" stroke-width="0.45" />
<line x1="120.50" y1="428.89" x2="122.30" y2="428.89" stroke="#333" stroke-width="0.45" />
<line x1="120.50" y1="443.51" x2="122.30" y2="443.51" stroke="#333" stroke-width="0.45" />
<line x1="123.10" y1="464.72" x2="123.10" y2="475.28" stroke="#333" stroke-width="0.45" />
<line x1="122.20" y1="464.72" x2="124.00" y2="464.72" stroke="#333" stroke-width="0.45" />
<line x1="122.20" y1="475.28" x2="124.00" y2="475.28" stroke="#333" stroke-width="0.45" />
<line x1="124.25" y1="479.15" x2="124.25" y2="488.07" stroke="#333" stroke-width="0.45" />
<line x1="123.35" y1="479.15" x2="125.15" y2="479.15" stroke="#333" stroke-width="0.45" />
<line x1="123.35" y1="488.07" x2="125.15" y2="488.07" stroke="#333" stroke-width="0.45" />
<line x1="125.00" y1="485.50" x2="125.00" y2="493.70" stroke="#333" stroke-width="0.45" />
<line x1="124.10" y1="485.50" x2="125.90" y2="485.50" stroke="#333" stroke-width="0.45" />
<line x1="124.10" y1="493.70" x2="125.90" y2="493.70" stroke="#333" stroke-width="0.45" />
<line x1="125.84" y1="490.35" x2="125.84" y2="498.01" stroke="#333" stroke-width="0.45" />
<line x1="124.94" y1="490.35" x2="126.74" y2="490.35" stroke="#333" stroke-width="0.45" />
<line x1="124.94" y1="498.01" x2="126.74" y2="498.01" stroke="#333" stroke-width="0.45" />
<line x1="127.43" y1="497.30" x2="127.43" y2="504.17" stroke="#333" stroke-width="0.45" />
<line x1="126.53" y1="497.30" x2="128.33" y2="497.30" stroke="#333" stroke-width="0.45" />
<line x1="126.53" y1="504.17" x2="128.33" y2="504.17" stroke="#333" stroke-width="0.45" />
<line x1="129.30" y1="503.41" x2="129.30" y2="509.59" stroke="#333" stroke-width="0.45" />
<line x1="128.40" y1="503.41" x2="130.20" y2="503.41" stroke="#333" stroke-width="0.45" />
<line x1="128.40" y1="509.59" x2="130.20" y2="509.59" stroke="#333" stroke-width="0.45" />
<line x1="130.62" y1="507.30" x2="130.62" y2="513.04" stroke="#333" stroke-width="0.45" />
<line x1="129.72" y1="507.30" x2="131.52" y2="507.30" stroke="#333" stroke-width="0.45" />
<line x1="129.72" y1="513.04" x2="131.52" y2="513.04" stroke="#333" stroke-width="0.45" />
<line x1="132.21" y1="511.49" x2="132.21" y2="516.75" stroke="#333" stroke-width="0.45" />
<line x1="131.31" y1="511.49" x2="133.11" y2="511.49" stroke="#333" stroke-width="0.45" />
<line x1="131.31" y1="516.75" x2="133.11" y2="516.75" stroke="#333" stroke-width="0.45" />
<line x1="133.80" y1="514.97" x2="133.80" y2="519.83" stroke="#333" stroke-width="0.45" />
<line x1="132.90" y1="514.97" x2="134.70" y2="514.97" stroke="#333" stroke-width="0.45" />
<line x1="132.90" y1="519.83" x2="134.70" y2="519.83" stroke="#333" stroke-width="0.45" />
<line x1="134.90" y1="516.87" x2="134.90" y2="521.53" stroke="#333" stroke-width="0.45" />
<line x1="134.00" y1="516.87" x2="135.80" y2="516.87" stroke="#333" stroke-width="0.45" />
<line x1="134.00" y1="521.53" x2="135.80" y2="521.53" stroke="#333" stroke-width="0.45" />
<line x1="136.98" y1="520.08" x2="136.98" y2="524.37" stroke="#333" stroke-width="0.45" />
<line x1="136.08" y1="520.08" x2="137.88" y2="520.08" stroke="#333" stroke-width="0.45" />
<line x1="136.08" y1="524.37" x2="137.88" y2="524.37" stroke="#333" stroke-width="0.45" />
<line x1="138.58" y1="522.35" x2="138.58" y2="526.38" stroke="#333" stroke-width="0.45" />
<line x1="137.68" y1="522.35" x2="139.48" y2="522.35" stroke="#333" stroke-width="0.45" />
<line x1="137.68" y1="526.38" x2="139.48" y2="526.38" stroke="#333" stroke-width="0.45" />
<line x1="140.17" y1="524.21" x2="140.17" y2="528.03" stroke="#333" stroke-width="0.45" />
<line x1="139.27" y1="524.21" x2="141.07" y2="524.21" stroke="#333" stroke-width="0.45" />
<line x1="139.27" y1="528.03" x2="141.07" y2="528.03" stroke="#333" stroke-width="0.45" />
<line x1="141.76" y1="525.42" x2="141.76" y2="529.11" stroke="#333" stroke-width="0.45" />
<line x1="140.86" y1="525.42" x2="142.66" y2="525.42" stroke="#333" stroke-width="0.45" />
<line x1="140.86" y1="529.11" x2="142.66" y2="529.11" stroke="#333" stroke-width="0.45" />
<line x1="143.10" y1="525.78" x2="143.10" y2="529.42" stroke="#333" stroke-width="0.45" />
<line x1="142.20" y1="525.78" x2="144.00" y2="525.78" stroke="#333" stroke-width="0.45" />
<line x1="142.20" y1="529.42" x2="144.00" y2="529.42" stroke="#333" stroke-width="0.45" />
<line x1="144.94" y1="524.82" x2="144.94" y2="528.57" stroke="#333" stroke-width="0.45" />
<line x1="144.04" y1="524.82" x2="145.84" y2="524.82" stroke="#333" stroke-width="0.45" />
<line x1="144.04" y1="528.57" x2="145.84" y2="528.57" stroke="#333" stroke-width="0.45" />
<line x1="146.54" y1="522.69" x2="146.54" y2="526.68" stroke="#333" stroke-width="0.45" />
<line x1="145.64" y1="522.69" x2="147.44" y2="522.69" stroke="#333" stroke-width="0.45" />
<line x1="145.64" y1="526.68" x2="147.44" y2="526.68" stroke="#333" stroke-width="0.45" />
<line x1="148.13" y1="519.65" x2="148.13" y2="523.99" stroke="#333" stroke-width="0.45" />
<line x1="147.23" y1="519.65" x2="149.03" y2="519.65" stroke="#333" stroke-width="0.45" />
<line x1="147.23" y1="523.99" x2="149.03" y2="523.99" stroke="#333" stroke-width="0.45" />
<line x1="149.00" y1="517.72" x2="149.00" y2="522.28" stroke="#333" stroke-width="0.45" />
<line x1="148.10" y1="517.72" x2="149.90" y2="517.72" stroke="#333" stroke-width="0.45" />
<line x1="148.10" y1="522.28" x2="149.90" y2="522.28" stroke="#333" stroke-width="0.45" />
<line x1="149.72" y1="515.28" x2="149.72" y2="520.12" stroke="#333" stroke-width="0.45" />
<line x1="148.82" y1="515.28" x2="150.62" y2="515.28" stroke="#333" stroke-width="0.45" />
<line x1="148.82" y1="520.12" x2="150.62" y2="520.12" stroke="#333" stroke-width="0.45" />
<line x1="151.60" y1="505.11" x2="151.60" y2="511.09" stroke="#333" stroke-width="0.45" />
<line x1="150.70" y1="505.11" x2="152.50" y2="505.11" stroke="#333" stroke-width="0.45" />
<line x1="150.70" y1="511.09" x2="152.50" y2="511.09" stroke="#333" stroke-width="0.45" />
<line x1="153.30" y1="494.61" x2="153.30" y2="501.79" stroke="#333" stroke-width="0.45" />
<line x1="152.40" y1="494.61" x2="154.20" y2="494.61" stroke="#333" stroke-width="0.45" />
<line x1="152.40" y1="501.79" x2="154.20" y2="501.79" stroke="#333" stroke-width="0.45" />
<line x1="154.60" y1="480.69" x2="154.60" y2="498.11" stroke="#333" stroke-width="0.45" />
<line x1="153.70" y1="480.69" x2="155.50" y2="480.69" stroke="#333" stroke-width="0.45" />
<line x1="153.70" y1="498.11" x2="155.50" y2="498.11" stroke="#333" stroke-width="0.45" />
<line x1="156.40" y1="478.22" x2="156.40" y2="496.18" stroke="#333" stroke-width="0.45" />
<line x1="155.50" y1="478.22" x2="157.30" y2="478.22" stroke="#333" stroke-width="0.45" />
<line x1="155.50" y1="496.18" x2="157.30" y2="496.18" stroke="#333" stroke-width="0.45" />
<line x1="158.20" y1="478.67" x2="158.20" y2="496.53" stroke="#333" stroke-width="0.45" />
<line x1="157.30" y1="478.67" x2="159.10" y2="478.67" stroke="#333" stroke-width="0.45" />
<line x1="157.30" y1="496.53" x2="159.10" y2="496.53" stroke="#333" stroke-width="0.45" />
<line x1="159.50" y1="473.74" x2="159.50" y2="492.66" stroke="#333" stroke-width="0.45" />
<line x1="158.60" y1="473.74" x2="160.40" y2="473.74" stroke="#333" stroke-width="0.45" />
<line x1="158.60" y1="492.66" x2="160.40" y2="492.66" stroke="#333" stroke-width="0.45" />
<line x1="161.20" y1="474.30" x2="161.20" y2="493.10" stroke="#333" stroke-width="0.45" />
<line x1="160.30" y1="474.30" x2="162.10" y2="474.30" stroke="#333" stroke-width="0.45" />
<line x1="160.30" y1="493.10" x2="162.10" y2="493.10" stroke="#333" stroke-width="0.45" />
<line x1="163.00" y1="475.76" x2="163.00" y2="494.24" stroke="#333" stroke-width="0.45" />
<line x1="162.10" y1="475.76" x2="163.90" y2="475.76" stroke="#333" stroke-width="0.45" />
<line x1="162.10" y1="494.24" x2="163.90" y2="494.24" stroke="#333" stroke-width="0.45" />
<line x1="164.05" y1="478.08" x2="164.05" y2="496.06" stroke="#333" stroke-width="0.45" />
<line x1="163.15" y1="478.08" x2="164.95" y2="478.08" stroke="#333" stroke-width="0.45" />
<line x1="163.15" y1="496.06" x2="164.95" y2="496.06" stroke="#333" stroke-width="0.45" />
<line x1="165.00" y1="482.14" x2="165.00" y2="499.26" stroke="#333" stroke-width="0.45" />
<line x1="164.10" y1="482.14" x2="165.90" y2="482.14" stroke="#333" stroke-width="0.45" />
<line x1="164.10" y1="499.26" x2="165.90" y2="499.26" stroke="#333" stroke-width="0.45" />
<line x1="166.00" y1="493.90" x2="166.00" y2="508.50" stroke="#333" stroke-width="0.45" />
<line x1="165.10" y1="493.90" x2="166.90" y2="493.90" stroke="#333" stroke-width="0.45" />
<line x1="165.10" y1="508.50" x2="166.90" y2="508.50" stroke="#333" stroke-width="0.45" />
<line x1="167.60" y1="500.85" x2="167.60" y2="513.95" stroke="#333" stroke-width="0.45" />
<line x1="166.70" y1="500.85" x2="168.50" y2="500.85" stroke="#333" stroke-width="0.45" />
<line x1="166.70" y1="513.95" x2="168.50" y2="513.95" stroke="#333" stroke-width="0.45" />
<line x1="168.82" y1="509.97" x2="168.82" y2="515.41" stroke="#333" stroke-width="0.45" />
<line x1="167.92" y1="509.97" x2="169.72" y2="509.97" stroke="#333" stroke-width="0.45" />
<line x1="167.92" y1="515.41" x2="169.72" y2="515.41" stroke="#333" stroke-width="0.45" />
<line x1="169.90" y1="513.80" x2="169.90" y2="518.80" stroke="#333" stroke-width="0.45" />
<line x1="169.00" y1="513.80" x2="170.80" y2="513.80" stroke="#333" stroke-width="0.45" />
<line x1="169.00" y1="518.80" x2="170.80" y2="518.80" stroke="#333" stroke-width="0.45" />
<line x1="172.01" y1="517.98" x2="172.01" y2="522.50" stroke="#333" stroke-width="0.45" />
<line x1="171.11" y1="517.98" x2="172.91" y2="517.98" stroke="#333" stroke-width="0.45" />
<line x1="171.11" y1="522.50" x2="172.91" y2="522.50" stroke="#333" stroke-width="0.45" />
<line x1="173.60" y1="520.30" x2="173.60" y2="524.57" stroke="#333" stroke-width="0.45" />
<line x1="172.70" y1="520.30" x2="174.50" y2="520.30" stroke="#333" stroke-width="0.45" />
<line x1="172.70" y1="524.57" x2="174.50" y2="524.57" stroke="#333" stroke-width="0.45" />
<line x1="175.80" y1="521.64" x2="175.80" y2="525.76" stroke="#333" stroke-width="0.45" />
<line x1="174.90" y1="521.64" x2="176.70" y2="521.64" stroke="#333" stroke-width="0.45" />
<line x1="174.90" y1="525.76" x2="176.70" y2="525.76" stroke="#333" stroke-width="0.45" />
<line x1="176.78" y1="521.28" x2="176.78" y2="525.43" stroke="#333" stroke-width="0.45" />
<line x1="175.88" y1="521.28" x2="177.68" y2="521.28" stroke="#333" stroke-width="0.45" />
<line x1="175.88" y1="525.43" x2="177.68" y2="525.43" stroke="#333" stroke-width="0.45" />
<line x1="178.38" y1="519.34" x2="178.38" y2="523.71" stroke="#333" stroke-width="0.45" />
<line x1="177.48" y1="519.34" x2="179.28" y2="519.34" stroke="#333" stroke-width="0.45" />
<line x1="177.48" y1="523.71" x2="179.28" y2="523.71" stroke="#333" stroke-width="0.45" />
<line x1="179.97" y1="516.14" x2="179.97" y2="520.87" stroke="#333" stroke-width="0.45" />
<line x1="179.07" y1="516.14" x2="180.87" y2="516.14" stroke="#333" stroke-width="0.45" />
<line x1="179.07" y1="520.87" x2="180.87" y2="520.87" stroke="#333" stroke-width="0.45" />
<line x1="181.56" y1="512.15" x2="181.56" y2="517.34" stroke="#333" stroke-width="0.45" />
<line x1="180.66" y1="512.15" x2="182.46" y2="512.15" stroke="#333" stroke-width="0.45" />
<line x1="180.66" y1="517.34" x2="182.46" y2="517.34" stroke="#333" stroke-width="0.45" />
<line x1="183.30" y1="507.44" x2="183.30" y2="513.16" stroke="#333" stroke-width="0.45" />
<line x1="182.40" y1="507.44" x2="184.20" y2="507.44" stroke="#333" stroke-width="0.45" />
<line x1="182.40" y1="513.16" x2="184.20" y2="513.16" stroke="#333" stroke-width="0.45" />
<line x1="184.74" y1="497.89" x2="184.74" y2="511.63" stroke="#333" stroke-width="0.45" />
<line x1="183.84" y1="497.89" x2="185.64" y2="497.89" stroke="#333" stroke-width="0.45" />
<line x1="183.84" y1="511.63" x2="185.64" y2="511.63" stroke="#333" stroke-width="0.45" />
<line x1="186.34" y1="489.30" x2="186.34" y2="504.88" stroke="#333" stroke-width="0.45" />
<line x1="185.44" y1="489.30" x2="187.24" y2="489.30" stroke="#333" stroke-width="0.45" />
<line x1="185.44" y1="504.88" x2="187.24" y2="504.88" stroke="#333" stroke-width="0.45" />
<line x1="187.80" y1="484.05" x2="187.80" y2="500.75" stroke="#333" stroke-width="0.45" />
<line x1="186.90" y1="484.05" x2="188.70" y2="484.05" stroke="#333" stroke-width="0.45" />
<line x1="186.90" y1="500.75" x2="188.70" y2="500.75" stroke="#333" stroke-width="0.45" />
<line x1="189.52" y1="481.40" x2="189.52" y2="498.67" stroke="#333" stroke-width="0.45" />
<line x1="188.62" y1="481.40" x2="190.42" y2="481.40" stroke="#333" stroke-width="0.45" />
<line x1="188.62" y1="498.67" x2="190.42" y2="498.67" stroke="#333" stroke-width="0.45" />
<line x1="190.70" y1="480.69" x2="190.70" y2="498.11" stroke="#333" stroke-width="0.45" />
<line x1="189.80" y1="480.69" x2="191.60" y2="480.69" stroke="#333" stroke-width="0.45" />
<line x1="189.80" y1="498.11" x2="191.60" y2="498.11" stroke="#333" stroke-width="0.45" />
<line x1="192.70" y1="485.42" x2="192.70" y2="501.83" stroke="#333" stroke-width="0.45" />
<line x1="191.80" y1="485.42" x2="193.60" y2="485.42" stroke="#333" stroke-width="0.45" />
<line x1="191.80" y1="501.83" x2="193.60" y2="501.83" stroke="#333" stroke-width="0.45" />
<line x1="194.30" y1="491.64" x2="194.30" y2="506.72" stroke="#333" stroke-width="0.45" />
<line x1="193.40" y1="491.64" x2="195.20" y2="491.64" stroke="#333" stroke-width="0.45" />
<line x1="193.40" y1="506.72" x2="195.20" y2="506.72" stroke="#333" stroke-width="0.45" />
<line x1="195.20" y1="494.02" x2="195.20" y2="508.58" stroke="#333" stroke-width="0.45" />
<line x1="194.30" y1="494.02" x2="196.10" y2="494.02" stroke="#333" stroke-width="0.45" />
<line x1="194.30" y1="508.58" x2="196.10" y2="508.58" stroke="#333" stroke-width="0.45" />
<line x1="197.48" y1="497.19" x2="197.48" y2="511.08" stroke="#333" stroke-width="0.45" />
<line x1="196.58" y1="497.19" x2="198.38" y2="497.19" stroke="#333" stroke-width="0.45" />
<line x1="196.58" y1="511.08" x2="198.38" y2="511.08" stroke="#333" stroke-width="0.45" />
<line x1="199.07" y1="502.48" x2="199.07" y2="508.77" stroke="#333" stroke-width="0.45" />
<line x1="198.17" y1="502.48" x2="199.97" y2="502.48" stroke="#333" stroke-width="0.45" />
<line x1="198.17" y1="508.77" x2="199.97" y2="508.77" stroke="#333" stroke-width="0.45" />
<line x1="200.66" y1="503.90" x2="200.66" y2="510.02" stroke="#333" stroke-width="0.45" />
<line x1="199.76" y1="503.90" x2="201.56" y2="503.90" stroke="#333" stroke-width="0.45" />
<line x1="199.76" y1="510.02" x2="201.56" y2="510.02" stroke="#333" stroke-width="0.45" />
<line x1="202.70" y1="505.85" x2="202.70" y2="511.75" stroke="#333" stroke-width="0.45" />
<line x1="201.80" y1="505.85" x2="203.60" y2="505.85" stroke="#333" stroke-width="0.45" />
<line x1="201.80" y1="511.75" x2="203.60" y2="511.75" stroke="#333" stroke-width="0.45" />
<line x1="203.85" y1="507.24" x2="203.85" y2="512.98" stroke="#333" stroke-width="0.45" />
<line x1="202.95" y1="507.24" x2="204.75" y2="507.24" stroke="#333" stroke-width="0.45" />
<line x1="202.95" y1="512.98" x2="204.75" y2="512.98" stroke="#333" stroke-width="0.45" />
<line x1="205.44" y1="509.47" x2="205.44" y2="514.96" stroke="#333" stroke-width="0.45" />
<line x1="204.54" y1="509.47" x2="206.34" y2="509.47" stroke="#333" stroke-width="0.45" />
<line x1="204.54" y1="514.96" x2="206.34" y2="514.96" stroke="#333" stroke-width="0.45" />
<line x1="207.03" y1="511.63" x2="207.03" y2="516.87" stroke="#333" stroke-width="0.45" />
<line x1="206.13" y1="511.63" x2="207.93" y2="511.63" stroke="#333" stroke-width="0.45" />
<line x1="206.13" y1="516.87" x2="207.93" y2="516.87" stroke="#333" stroke-width="0.45" />
<line x1="208.62" y1="513.23" x2="208.62" y2="518.29" stroke="#333" stroke-width="0.45" />
<line x1="207.72" y1="513.23" x2="209.52" y2="513.23" stroke="#333" stroke-width="0.45" />
<line x1="207.72" y1="518.29" x2="209.52" y2="518.29" stroke="#333" stroke-width="0.45" />
<line x1="210.10" y1="513.80" x2="210.10" y2="518.80" stroke="#333" stroke-width="0.45" />
<line x1="209.20" y1="513.80" x2="211.00" y2="513.80" stroke="#333" stroke-width="0.45" />
<line x1="209.20" y1="518.80" x2="211.00" y2="518.80" stroke="#333" stroke-width="0.45" />
<line x1="211.81" y1="512.34" x2="211.81" y2="517.50" stroke="#333" stroke-width="0.45" />
<line x1="210.91" y1="512.34" x2="212.71" y2="512.34" stroke="#333" stroke-width="0.45" />
<line x1="210.91" y1="517.50" x2="212.71" y2="517.50" stroke="#333" stroke-width="0.45" />
<line x1="213.40" y1="508.99" x2="213.40" y2="514.53" stroke="#333" stroke-width="0.45" />
<line x1="212.50" y1="508.99" x2="214.30" y2="508.99" stroke="#333" stroke-width="0.45" />
<line x1="212.50" y1="514.53" x2="214.30" y2="514.53" stroke="#333" stroke-width="0.45" />
<line x1="214.99" y1="501.17" x2="214.99" y2="514.21" stroke="#333" stroke-width="0.45" />
<line x1="214.09" y1="501.17" x2="215.89" y2="501.17" stroke="#333" stroke-width="0.45" />
<line x1="214.09" y1="514.21" x2="215.89" y2="514.21" stroke="#333" stroke-width="0.45" />
<line x1="216.58" y1="496.55" x2="216.58" y2="510.58" stroke="#333" stroke-width="0.45" />
<line x1="215.68" y1="496.55" x2="217.48" y2="496.55" stroke="#333" stroke-width="0.45" />
<line x1="215.68" y1="510.58" x2="217.48" y2="510.58" stroke="#333" stroke-width="0.45" />
<line x1="217.60" y1="494.02" x2="217.60" y2="508.58" stroke="#333" stroke-width="0.45" />
<line x1="216.70" y1="494.02" x2="218.50" y2="494.02" stroke="#333" stroke-width="0.45" />
<line x1="216.70" y1="508.58" x2="218.50" y2="508.58" stroke="#333" stroke-width="0.45" />
<line x1="219.77" y1="488.01" x2="219.77" y2="503.87" stroke="#333" stroke-width="0.45" />
<line x1="218.87" y1="488.01" x2="220.67" y2="488.01" stroke="#333" stroke-width="0.45" />
<line x1="218.87" y1="503.87" x2="220.67" y2="503.87" stroke="#333" stroke-width="0.45" />
<line x1="221.36" y1="484.54" x2="221.36" y2="501.14" stroke="#333" stroke-width="0.45" />
<line x1="220.46" y1="484.54" x2="222.26" y2="484.54" stroke="#333" stroke-width="0.45" />
<line x1="220.46" y1="501.14" x2="222.26" y2="501.14" stroke="#333" stroke-width="0.45" />
<line x1="222.10" y1="484.05" x2="222.10" y2="500.75" stroke="#333" stroke-width="0.45" />
<line x1="221.20" y1="484.05" x2="223.00" y2="484.05" stroke="#333" stroke-width="0.45" />
<line x1="221.20" y1="500.75" x2="223.00" y2="500.75" stroke="#333" stroke-width="0.45" />
<line x1="222.95" y1="484.62" x2="222.95" y2="501.20" stroke="#333" stroke-width="0.45" />
<line x1="222.05" y1="484.62" x2="223.85" y2="484.62" stroke="#333" stroke-width="0.45" />
<line x1="222.05" y1="501.20" x2="223.85" y2="501.20" stroke="#333" stroke-width="0.45" />
<line x1="224.54" y1="487.97" x2="224.54" y2="503.83" stroke="#333" stroke-width="0.45" />
<line x1="223.64" y1="487.97" x2="225.44" y2="487.97" stroke="#333" stroke-width="0.45" />
<line x1="223.64" y1="503.83" x2="225.44" y2="503.83" stroke="#333" stroke-width="0.45" />
<line x1="226.14" y1="492.65" x2="226.14" y2="507.51" stroke="#333" stroke-width="0.45" />
<line x1="225.24" y1="492.65" x2="227.04" y2="492.65" stroke="#333" stroke-width="0.45" />
<line x1="225.24" y1="507.51" x2="227.04" y2="507.51" stroke="#333" stroke-width="0.45" />
<line x1="228.10" y1="497.38" x2="228.10" y2="511.22" stroke="#333" stroke-width="0.45" />
<line x1="227.20" y1="497.38" x2="229.00" y2="497.38" stroke="#333" stroke-width="0.45" />
<line x1="227.20" y1="511.22" x2="229.00" y2="511.22" stroke="#333" stroke-width="0.45" />
<line x1="229.32" y1="502.80" x2="229.32" y2="509.04" stroke="#333" stroke-width="0.45" />
<line x1="228.42" y1="502.80" x2="230.22" y2="502.80" stroke="#333" stroke-width="0.45" />
<line x1="228.42" y1="509.04" x2="230.22" y2="509.04" stroke="#333" stroke-width="0.45" />
<line x1="230.91" y1="504.85" x2="230.91" y2="510.87" stroke="#333" stroke-width="0.45" />
<line x1="230.01" y1="504.85" x2="231.81" y2="504.85" stroke="#333" stroke-width="0.45" />
<line x1="230.01" y1="510.87" x2="231.81" y2="510.87" stroke="#333" stroke-width="0.45" />
<line x1="232.50" y1="506.69" x2="232.50" y2="512.50" stroke="#333" stroke-width="0.45" />
<line x1="231.60" y1="506.69" x2="233.40" y2="506.69" stroke="#333" stroke-width="0.45" />
<line x1="231.60" y1="512.50" x2="233.40" y2="512.50" stroke="#333" stroke-width="0.45" />
<line x1="234.10" y1="508.31" x2="234.10" y2="513.93" stroke="#333" stroke-width="0.45" />
<line x1="233.20" y1="508.31" x2="235.00" y2="508.31" stroke="#333" stroke-width="0.45" />
<line x1="233.20" y1="513.93" x2="235.00" y2="513.93" stroke="#333" stroke-width="0.45" />
<line x1="235.69" y1="509.71" x2="235.69" y2="515.17" stroke="#333" stroke-width="0.45" />
<line x1="234.79" y1="509.71" x2="236.59" y2="509.71" stroke="#333" stroke-width="0.45" />
<line x1="234.79" y1="515.17" x2="236.59" y2="515.17" stroke="#333" stroke-width="0.45" />
<line x1="236.90" y1="510.62" x2="236.90" y2="515.98" stroke="#333" stroke-width="0.45" />
<line x1="236.00" y1="510.62" x2="237.80" y2="510.62" stroke="#333" stroke-width="0.45" />
<line x1="236.00" y1="515.98" x2="237.80" y2="515.98" stroke="#333" stroke-width="0.45" />
<line x1="238.87" y1="512.04" x2="238.87" y2="517.24" stroke="#333" stroke-width="0.45" />
<line x1="237.97" y1="512.04" x2="239.77" y2="512.04" stroke="#333" stroke-width="0.45" />
<line x1="237.97" y1="517.24" x2="239.77" y2="517.24" stroke="#333" stroke-width="0.45" />
<line x1="240.46" y1="513.06" x2="240.46" y2="518.15" stroke="#333" stroke-width="0.45" />
<line x1="239.56" y1="513.06" x2="241.36" y2="513.06" stroke="#333" stroke-width="0.45" />
<line x1="239.56" y1="518.15" x2="241.36" y2="518.15" stroke="#333" stroke-width="0.45" />
<line x1="242.06" y1="513.70" x2="242.06" y2="518.71" stroke="#333" stroke-width="0.45" />
<line x1="241.16" y1="513.70" x2="242.96" y2="513.70" stroke="#333" stroke-width="0.45" />
<line x1="241.16" y1="518.71" x2="242.96" y2="518.71" stroke="#333" stroke-width="0.45" />
<line x1="242.90" y1="513.80" x2="242.90" y2="518.80" stroke="#333" stroke-width="0.45" />
<line x1="242.00" y1="513.80" x2="243.80" y2="513.80" stroke="#333" stroke-width="0.45" />
<line x1="242.00" y1="518.80" x2="243.80" y2="518.80" stroke="#333" stroke-width="0.45" />
<line x1="243.65" y1="513.56" x2="243.65" y2="518.59" stroke="#333" stroke-width="0.45" />
<line x1="242.75" y1="513.56" x2="244.55" y2="513.56" stroke="#333" stroke-width="0.45" />
<line x1="242.75" y1="518.59" x2="244.55" y2="518.59" stroke="#333" stroke-width="0.45" />
<line x1="245.24" y1="511.72" x2="245.24" y2="516.96" stroke="#333" stroke-width="0.45" />
<line x1="244.34" y1="511.72" x2="246.14" y2="511.72" stroke="#333" stroke-width="0.45" />
<line x1="244.34" y1="516.96" x2="246.14" y2="516.96" stroke="#333" stroke-width="0.45" />
<line x1="246.83" y1="508.70" x2="246.83" y2="514.28" stroke="#333" stroke-width="0.45" />
<line x1="245.93" y1="508.70" x2="247.73" y2="508.70" stroke="#333" stroke-width="0.45" />
<line x1="245.93" y1="514.28" x2="247.73" y2="514.28" stroke="#333" stroke-width="0.45" />
<line x1="248.90" y1="500.74" x2="248.90" y2="513.86" stroke="#333" stroke-width="0.45" />
<line x1="248.00" y1="500.74" x2="249.80" y2="500.74" stroke="#333" stroke-width="0.45" />
<line x1="248.00" y1="513.86" x2="249.80" y2="513.86" stroke="#333" stroke-width="0.45" />
<line x1="250.02" y1="497.46" x2="250.02" y2="511.29" stroke="#333" stroke-width="0.45" />
<line x1="249.12" y1="497.46" x2="250.92" y2="497.46" stroke="#333" stroke-width="0.45" />
<line x1="249.12" y1="511.29" x2="250.92" y2="511.29" stroke="#333" stroke-width="0.45" />
<line x1="251.61" y1="491.12" x2="251.61" y2="506.31" stroke="#333" stroke-width="0.45" />
<line x1="250.71" y1="491.12" x2="252.51" y2="491.12" stroke="#333" stroke-width="0.45" />
<line x1="250.71" y1="506.31" x2="252.51" y2="506.31" stroke="#333" stroke-width="0.45" />
<line x1="253.20" y1="485.21" x2="253.20" y2="501.66" stroke="#333" stroke-width="0.45" />
<line x1="252.30" y1="485.21" x2="254.10" y2="485.21" stroke="#333" stroke-width="0.45" />
<line x1="252.30" y1="501.66" x2="254.10" y2="501.66" stroke="#333" stroke-width="0.45" />
<line x1="254.90" y1="482.37" x2="254.90" y2="499.43" stroke="#333" stroke-width="0.45" />
<line x1="254.00" y1="482.37" x2="255.80" y2="482.37" stroke="#333" stroke-width="0.45" />
<line x1="254.00" y1="499.43" x2="255.80" y2="499.43" stroke="#333" stroke-width="0.45" />
<line x1="256.38" y1="484.24" x2="256.38" y2="500.90" stroke="#333" stroke-width="0.45" />
<line x1="255.48" y1="484.24" x2="257.28" y2="484.24" stroke="#333" stroke-width="0.45" />
<line x1="255.48" y1="500.90" x2="257.28" y2="500.90" stroke="#333" stroke-width="0.45" />
<line x1="257.98" y1="488.98" x2="257.98" y2="504.63" stroke="#333" stroke-width="0.45" />
<line x1="257.08" y1="488.98" x2="258.88" y2="488.98" stroke="#333" stroke-width="0.45" />
<line x1="257.08" y1="504.63" x2="258.88" y2="504.63" stroke="#333" stroke-width="0.45" />
<line x1="259.57" y1="494.31" x2="259.57" y2="508.82" stroke="#333" stroke-width="0.45" />
<line x1="258.67" y1="494.31" x2="260.47" y2="494.31" stroke="#333" stroke-width="0.45" />
<line x1="258.67" y1="508.82" x2="260.47" y2="508.82" stroke="#333" stroke-width="0.45" />
<line x1="260.80" y1="497.38" x2="260.80" y2="511.22" stroke="#333" stroke-width="0.45" />
<line x1="259.90" y1="497.38" x2="261.70" y2="497.38" stroke="#333" stroke-width="0.45" />
<line x1="259.90" y1="511.22" x2="261.70" y2="511.22" stroke="#333" stroke-width="0.45" />
<line x1="262.75" y1="504.12" x2="262.75" y2="510.21" stroke="#333" stroke-width="0.45" />
<line x1="261.85" y1="504.12" x2="263.65" y2="504.12" stroke="#333" stroke-width="0.45" />
<line x1="261.85" y1="510.21" x2="263.65" y2="510.21" stroke="#333" stroke-width="0.45" />
<line x1="264.34" y1="506.26" x2="264.34" y2="512.11" stroke="#333" stroke-width="0.45" />
<line x1="263.44" y1="506.26" x2="265.24" y2="506.26" stroke="#333" stroke-width="0.45" />
<line x1="263.44" y1="512.11" x2="265.24" y2="512.11" stroke="#333" stroke-width="0.45" />
<line x1="265.94" y1="508.16" x2="265.94" y2="513.80" stroke="#333" stroke-width="0.45" />
<line x1="265.04" y1="508.16" x2="266.84" y2="508.16" stroke="#333" stroke-width="0.45" />
<line x1="265.04" y1="513.80" x2="266.84" y2="513.80" stroke="#333" stroke-width="0.45" />
<line x1="267.53" y1="509.85" x2="267.53" y2="515.30" stroke="#333" stroke-width="0.45" />
<line x1="266.63" y1="509.85" x2="268.43" y2="509.85" stroke="#333" stroke-width="0.45" />
<line x1="266.63" y1="515.30" x2="268.43" y2="515.30" stroke="#333" stroke-width="0.45" />
<line x1="268.30" y1="510.62" x2="268.30" y2="515.98" stroke="#333" stroke-width="0.45" />
<line x1="267.40" y1="510.62" x2="269.20" y2="510.62" stroke="#333" stroke-width="0.45" />
<line x1="267.40" y1="515.98" x2="269.20" y2="515.98" stroke="#333" stroke-width="0.45" />
<line x1="269.12" y1="511.46" x2="269.12" y2="516.72" stroke="#333" stroke-width="0.45" />
<line x1="268.22" y1="511.46" x2="270.02" y2="511.46" stroke="#333" stroke-width="0.45" />
<line x1="268.22" y1="516.72" x2="270.02" y2="516.72" stroke="#333" stroke-width="0.45" />
<line x1="270.71" y1="513.15" x2="270.71" y2="518.22" stroke="#333" stroke-width="0.45" />
<line x1="269.81" y1="513.15" x2="271.61" y2="513.15" stroke="#333" stroke-width="0.45" />
<line x1="269.81" y1="518.22" x2="271.61" y2="518.22" stroke="#333" stroke-width="0.45" />
<line x1="272.30" y1="514.59" x2="272.30" y2="519.50" stroke="#333" stroke-width="0.45" />
<line x1="271.40" y1="514.59" x2="273.20" y2="514.59" stroke="#333" stroke-width="0.45" />
<line x1="271.40" y1="519.50" x2="273.20" y2="519.50" stroke="#333" stroke-width="0.45" />
<line x1="274.30" y1="515.39" x2="274.30" y2="520.21" stroke="#333" stroke-width="0.45" />
<line x1="273.40" y1="515.39" x2="275.20" y2="515.39" stroke="#333" stroke-width="0.45" />
<line x1="273.40" y1="520.21" x2="275.20" y2="520.21" stroke="#333" stroke-width="0.45" />
<line x1="275.49" y1="514.93" x2="275.49" y2="519.80" stroke="#333" stroke-width="0.45" />
<line x1="274.59" y1="514.93" x2="276.39" y2="514.93" stroke="#333" stroke-width="0.45" />
<line x1="274.59" y1="519.80" x2="276.39" y2="519.80" stroke="#333" stroke-width="0.45" />
<line x1="277.08" y1="513.12" x2="277.08" y2="518.19" stroke="#333" stroke-width="0.45" />
<line x1="276.18" y1="513.12" x2="277.98" y2="513.12" stroke="#333" stroke-width="0.45" />
<line x1="276.18" y1="518.19" x2="277.98" y2="518.19" stroke="#333" stroke-width="0.45" />
<line x1="278.67" y1="510.33" x2="278.67" y2="515.72" stroke="#333" stroke-width="0.45" />
<line x1="277.77" y1="510.33" x2="279.57" y2="510.33" stroke="#333" stroke-width="0.45" />
<line x1="277.77" y1="515.72" x2="279.57" y2="515.72" stroke="#333" stroke-width="0.45" />
<line x1="280.26" y1="507.02" x2="280.26" y2="512.79" stroke="#333" stroke-width="0.45" />
<line x1="279.36" y1="507.02" x2="281.16" y2="507.02" stroke="#333" stroke-width="0.45" />
<line x1="279.36" y1="512.79" x2="281.16" y2="512.79" stroke="#333" stroke-width="0.45" />
<line x1="281.86" y1="503.65" x2="281.86" y2="509.80" stroke="#333" stroke-width="0.45" />
<line x1="280.96" y1="503.65" x2="282.76" y2="503.65" stroke="#333" stroke-width="0.45" />
<line x1="280.96" y1="509.80" x2="282.76" y2="509.80" stroke="#333" stroke-width="0.45" />
<line x1="283.20" y1="501.08" x2="283.20" y2="507.52" stroke="#333" stroke-width="0.45" />
<line x1="282.30" y1="501.08" x2="284.10" y2="501.08" stroke="#333" stroke-width="0.45" />
<line x1="282.30" y1="507.52" x2="284.10" y2="507.52" stroke="#333" stroke-width="0.45" />
<line x1="285.04" y1="493.18" x2="285.04" y2="507.93" stroke="#333" stroke-width="0.45" />
<line x1="284.14" y1="493.18" x2="285.94" y2="493.18" stroke="#333" stroke-width="0.45" />
<line x1="284.14" y1="507.93" x2="285.94" y2="507.93" stroke="#333" stroke-width="0.45" />
<line x1="286.63" y1="488.97" x2="286.63" y2="504.62" stroke="#333" stroke-width="0.45" />
<line x1="285.73" y1="488.97" x2="287.53" y2="488.97" stroke="#333" stroke-width="0.45" />
<line x1="285.73" y1="504.62" x2="287.53" y2="504.62" stroke="#333" stroke-width="0.45" />
<line x1="288.22" y1="485.19" x2="288.22" y2="501.65" stroke="#333" stroke-width="0.45" />
<line x1="287.32" y1="485.19" x2="289.12" y2="485.19" stroke="#333" stroke-width="0.45" />
<line x1="287.32" y1="501.65" x2="289.12" y2="501.65" stroke="#333" stroke-width="0.45" />
<line x1="289.82" y1="482.78" x2="289.82" y2="499.75" stroke="#333" stroke-width="0.45" />
<line x1="288.92" y1="482.78" x2="290.72" y2="482.78" stroke="#333" stroke-width="0.45" />
<line x1="288.92" y1="499.75" x2="290.72" y2="499.75" stroke="#333" stroke-width="0.45" />
<line x1="290.70" y1="482.37" x2="290.70" y2="499.43" stroke="#333" stroke-width="0.45" />
<line x1="289.80" y1="482.37" x2="291.60" y2="482.37" stroke="#333" stroke-width="0.45" />
<line x1="289.80" y1="499.43" x2="291.60" y2="499.43" stroke="#333" stroke-width="0.45" />
<line x1="293.00" y1="485.27" x2="293.00" y2="501.71" stroke="#333" stroke-width="0.45" />
<line x1="292.10" y1="485.27" x2="293.90" y2="485.27" stroke="#333" stroke-width="0.45" />
<line x1="292.10" y1="501.71" x2="293.90" y2="501.71" stroke="#333" stroke-width="0.45" />
<line x1="294.59" y1="489.24" x2="294.59" y2="504.83" stroke="#333" stroke-width="0.45" />
<line x1="293.69" y1="489.24" x2="295.49" y2="489.24" stroke="#333" stroke-width="0.45" />
<line x1="293.69" y1="504.83" x2="295.49" y2="504.83" stroke="#333" stroke-width="0.45" />
<line x1="296.60" y1="494.02" x2="296.60" y2="508.58" stroke="#333" stroke-width="0.45" />
<line x1="295.70" y1="494.02" x2="297.50" y2="494.02" stroke="#333" stroke-width="0.45" />
<line x1="295.70" y1="508.58" x2="297.50" y2="508.58" stroke="#333" stroke-width="0.45" />
<line x1="297.78" y1="496.26" x2="297.78" y2="510.35" stroke="#333" stroke-width="0.45" />
<line x1="296.88" y1="496.26" x2="298.68" y2="496.26" stroke="#333" stroke-width="0.45" />
<line x1="296.88" y1="510.35" x2="298.68" y2="510.35" stroke="#333" stroke-width="0.45" />
<line x1="299.37" y1="502.95" x2="299.37" y2="509.18" stroke="#333" stroke-width="0.45" />
<line x1="298.47" y1="502.95" x2="300.27" y2="502.95" stroke="#333" stroke-width="0.45" />
<line x1="298.47" y1="509.18" x2="300.27" y2="509.18" stroke="#333" stroke-width="0.45" />
<line x1="300.96" y1="505.79" x2="300.96" y2="511.69" stroke="#333" stroke-width="0.45" />
<line x1="300.06" y1="505.79" x2="301.86" y2="505.79" stroke="#333" stroke-width="0.45" />
<line x1="300.06" y1="511.69" x2="301.86" y2="511.69" stroke="#333" stroke-width="0.45" />
<line x1="302.55" y1="508.41" x2="302.55" y2="514.02" stroke="#333" stroke-width="0.45" />
<line x1="301.65" y1="508.41" x2="303.45" y2="508.41" stroke="#333" stroke-width="0.45" />
<line x1="301.65" y1="514.02" x2="303.45" y2="514.02" stroke="#333" stroke-width="0.45" />
<line x1="304.10" y1="510.62" x2="304.10" y2="515.98" stroke="#333" stroke-width="0.45" />
<line x1="303.20" y1="510.62" x2="305.00" y2="510.62" stroke="#333" stroke-width="0.45" />
<line x1="303.20" y1="515.98" x2="305.00" y2="515.98" stroke="#333" stroke-width="0.45" />
<line x1="305.74" y1="512.87" x2="305.74" y2="517.98" stroke="#333" stroke-width="0.45" />
<line x1="304.84" y1="512.87" x2="306.64" y2="512.87" stroke="#333" stroke-width="0.45" />
<line x1="304.84" y1="517.98" x2="306.64" y2="517.98" stroke="#333" stroke-width="0.45" />
<line x1="307.33" y1="515.08" x2="307.33" y2="519.94" stroke="#333" stroke-width="0.45" />
<line x1="306.43" y1="515.08" x2="308.23" y2="515.08" stroke="#333" stroke-width="0.45" />
<line x1="306.43" y1="519.94" x2="308.23" y2="519.94" stroke="#333" stroke-width="0.45" />
<line x1="308.92" y1="516.97" x2="308.92" y2="521.61" stroke="#333" stroke-width="0.45" />
<line x1="308.02" y1="516.97" x2="309.82" y2="516.97" stroke="#333" stroke-width="0.45" />
<line x1="308.02" y1="521.61" x2="309.82" y2="521.61" stroke="#333" stroke-width="0.45" />
<line x1="310.51" y1="518.19" x2="310.51" y2="522.69" stroke="#333" stroke-width="0.45" />
<line x1="309.61" y1="518.19" x2="311.41" y2="518.19" stroke="#333" stroke-width="0.45" />
<line x1="309.61" y1="522.69" x2="311.41" y2="522.69" stroke="#333" stroke-width="0.45" />
<line x1="311.60" y1="518.46" x2="311.60" y2="522.94" stroke="#333" stroke-width="0.45" />
<line x1="310.70" y1="518.46" x2="312.50" y2="518.46" stroke="#333" stroke-width="0.45" />
<line x1="310.70" y1="522.94" x2="312.50" y2="522.94" stroke="#333" stroke-width="0.45" />
<line x1="313.70" y1="516.73" x2="313.70" y2="521.40" stroke="#333" stroke-width="0.45" />
<line x1="312.80" y1="516.73" x2="314.60" y2="516.73" stroke="#333" stroke-width="0.45" />
<line x1="312.80" y1="521.40" x2="314.60" y2="521.40" stroke="#333" stroke-width="0.45" />
<line x1="315.29" y1="513.76" x2="315.29" y2="518.77" stroke="#333" stroke-width="0.45" />
<line x1="314.39" y1="513.76" x2="316.19" y2="513.76" stroke="#333" stroke-width="0.45" />
<line x1="314.39" y1="518.77" x2="316.19" y2="518.77" stroke="#333" stroke-width="0.45" />
<line x1="316.88" y1="510.20" x2="316.88" y2="515.61" stroke="#333" stroke-width="0.45" />
<line x1="315.98" y1="510.20" x2="317.78" y2="510.20" stroke="#333" stroke-width="0.45" />
<line x1="315.98" y1="515.61" x2="317.78" y2="515.61" stroke="#333" stroke-width="0.45" />
<line x1="319.00" y1="505.85" x2="319.00" y2="511.75" stroke="#333" stroke-width="0.45" />
<line x1="318.10" y1="505.85" x2="319.90" y2="505.85" stroke="#333" stroke-width="0.45" />
<line x1="318.10" y1="511.75" x2="319.90" y2="511.75" stroke="#333" stroke-width="0.45" />
<polyline points="68.20,512.10 70.12,503.20 71.60,495.30 73.30,481.64 74.40,472.80 77.20,455.90 78.08,450.36 80.10,439.00 81.50,434.80 82.90,416.50 83.70,401.90 84.80,427.80 85.70,454.50 87.90,478.40 89.22,487.56 91.30,498.10 92.41,502.39 94.00,507.77 95.59,512.17 96.90,515.00 98.78,518.28 100.37,520.69 101.96,522.76 103.55,524.52 105.40,526.20 106.74,527.29 107.60,527.60 108.33,527.12 109.92,523.28 111.51,516.91 113.80,506.50 114.70,502.56 116.29,494.31 117.40,486.80 119.40,464.30 121.40,436.20 123.10,470.00 124.25,483.61 125.00,489.60 125.84,494.18 127.43,500.73 129.30,506.50 130.62,510.17 132.21,514.12 133.80,517.40 134.90,519.20 136.98,522.23 138.58,524.37 140.17,526.12 141.76,527.26 143.10,527.60 144.94,526.70 146.54,524.68 148.13,521.82 149.00,520.00 149.72,517.70 151.60,508.10 153.30,498.20 154.60,489.40 156.40,487.20 158.20,487.60 159.50,483.20 161.20,483.70 163.00,485.00 164.05,487.07 165.00,490.70 166.00,501.20 167.60,507.40 168.82,512.69 169.90,516.30 172.01,520.24 173.60,522.43 175.80,523.70 176.78,523.35 178.38,521.52 179.97,518.51 181.56,514.74 183.30,510.30 184.74,504.76 186.34,497.09 187.80,492.40 189.52,490.04 190.70,489.40 192.70,493.63 194.30,499.18 195.20,501.30 197.48,504.14 199.07,505.63 200.66,506.96 202.70,508.80 203.85,510.11 205.44,512.22 207.03,514.25 208.62,515.76 210.10,516.30 211.81,514.92 213.40,511.76 214.99,507.69 216.58,503.56 217.60,501.30 219.77,495.94 221.36,492.84 222.10,492.40 222.95,492.91 224.54,495.90 226.14,500.08 228.10,504.30 229.32,505.92 230.91,507.86 232.50,509.60 234.10,511.12 235.69,512.44 236.90,513.30 238.87,514.64 240.46,515.60 242.06,516.21 242.90,516.30 243.65,516.07 245.24,514.34 246.83,511.49 248.90,507.30 250.02,504.38 251.61,498.72 253.20,493.44 254.90,490.90 256.38,492.57 257.98,496.81 259.57,501.56 260.80,504.30 262.75,507.16 264.34,509.19 265.94,510.98 267.53,512.58 268.30,513.30 269.12,514.09 270.71,515.69 272.30,517.04 274.30,517.80 275.49,517.37 277.08,515.65 278.67,513.03 280.26,509.91 281.86,506.73 283.20,504.30 285.04,500.55 286.63,496.79 288.22,493.42 289.82,491.26 290.70,490.90 293.00,493.49 294.59,497.04 296.60,501.30 297.78,503.31 299.37,506.06 300.96,508.74 302.55,511.21 304.10,513.30 305.74,515.42 307.33,517.51 308.92,519.29 310.51,520.44 311.60,520.70 313.70,519.06 315.29,516.26 316.88,512.91 319.00,508.80" fill="none" stroke="#000" stroke-width="1.1"/>
<circle cx="68.20" cy="512.10" r="1.6" fill="#000" />
<circle cx="70.12" cy="503.20" r="1.6" fill="#000" />
<circle cx="71.60" cy="495.30" r="1.6" fill="#000" />
<circle cx="73.30" cy="481.64" r="1.6" fill="#000" />
<circle cx="74.40" cy="472.80" r="1.6" fill="#000" />
<circle cx="77.20" cy="455.90" r="1.6" fill="#000" />
<circle cx="78.08" cy="450.36" r="1.6" fill="#000" />
<circle cx="80.10" cy="439.00" r="1.6" fill="#000" />
<circle cx="81.50" cy="434.80" r="1.6" fill="#000" />
<circle cx="82.90" cy="416.50" r="1.6" fill="#000" />
<circle cx="83.70" cy="401.90" r="1.6" fill="#000" />
<circle cx="84.80" cy="427.80" r="1.6" fill="#000" />
<circle cx="85.70" cy="454.50" r="1.6" fill="#000" />
<circle cx="87.90" cy="478.40" r="1.6" fill="#000" />
<circle cx="89.22" cy="487.56" r="1.6" fill="#000" />
<circle cx="91.30" cy="498.10" r="1.6" fill="#000" />
<circle cx="92.41" cy="502.39" r="1.6" fill="#000" />
<circle cx="94.00" cy="507.77" r="1.6" fill="#000" />
<circle cx="95.59" cy="512.17" r="1.6" fill="#000" />
<circle cx="96.90" cy="515.00" r="1.6" fill="#000" />
<circle cx="98.78" cy="518.28" r="1.6" fill="#000" />
<circle cx="100.37" cy="520.69" r="1.6" fill="#000" />
<circle cx="101.96" cy="522.76" r="1.6" fill="#000" />
<circle cx="103.55" cy="524.52" r="1.6" fill="#000" />
<circle cx="105.40" cy="526.20" r="1.6" fill="#000" />
<circle cx="106.74" cy="527.29" r="1.6" fill="#000" />
<circle cx="107.60" cy="527.60" r="1.6" fill="#000" />
<circle cx="108.33" cy="527.12" r="1.6" fill="#000" />
<circle cx="109.92" cy="523.28" r="1.6" fill="#000" />
<circle cx="111.51" cy="516.91" r="1.6" fill="#000" />
<circle cx="113.80" cy="506.50" r="1.6" fill="#000" />
<circle cx="114.70" cy="502.56" r="1.6" fill="#000" />
<circle cx="116.29" cy="494.31" r="1.6" fill="#000" />
<circle cx="117.40" cy="486.80" r="1.6" fill="#000" />
<circle cx="119.40" cy="464.30" r="1.6" fill="#000" />
<circle cx="121.40" cy="436.20" r="1.6" fill="#000" />
<circle cx="123.10" cy="470.00" r="1.6" fill="#000" />
<circle cx="124.25" cy="483.61" r="1.6" fill="#000" />
<circle cx="125.00" cy="489.60" r="1.6" fill="#000" />
<circle cx="125.84" cy="494.18" r="1.6" fill="#000" />
<circle cx="127.43" cy="500.73" r="1.6" fill="#000" />
<circle cx="129.30" cy="506.50" r="1.6" fill="#000" />
<circle cx="130.62" cy="510.17" r="1.6" fill="#000" />
<circle cx="132.21" cy="514.12" r="1.6" fill="#000" />
<circle cx="133.80" cy="517.40" r="1.6" fill="#000" />
<circle cx="134.90" cy="519.20" r="1.6" fill="#000" />
<circle cx="136.98" cy="522.23" r="1.6" fill="#000" />
<circle cx="138.58" cy="524.37" r="1.6" fill="#000" />
<circle cx="140.17" cy="526.12" r="1.6" fill="#000" />
<circle cx="141.76" cy="527.26" r="1.6" fill="#000" />
<circle cx="143.10" cy="527.60" r="1.6" fill="#000" />
<circle cx="144.94" cy="526.70" r="1.6" fill="#000" />
<circle cx="146.54" cy="524.68" r="1.6" fill="#000" />
<circle cx="148.13" cy="521.82" r="1.6" fill="#000" />
<circle cx="149.00" cy="520.00" r="1.6" fill="#000" />
<circle cx="149.72" cy="517.70" r="1.6" fill="#000" />
<circle cx="151.60" cy="508.10" r="1.6" fill="#000" />
<circle cx="153.30" cy="498.20" r="1.6" fill="#000" />
<circle cx="154.60" cy="489.40" r="1.6" fill="#000" />
<circle cx="156.40" cy="487.20" r="1.6" fill="#000" />
<circle cx="158.20" cy="487.60" r="1.6" fill="#000" />
<circle cx="159.50" cy="483.20" r="1.6" fill="#000" />
<circle cx="161.20" cy="483.70" r="1.6" fill="#000" />
<circle cx="163.00" cy="485.00" r="1.6" fill="#000" />
<circle cx="164.05" cy="487.07" r="1.6" fill="#000" />
<circle cx="165.00" cy="490.70" r="1.6" fill="#000" />
<circle cx="166.00" cy="501.20" r="1.6" fill="#000" />
<circle cx="167.60" cy="507.40" r="1.6" fill="#000" />
<circle cx="168.82" cy="512.69" r="1.6" fill="#000" />
<circle cx="169.90" cy="516.30" r="1.6" fill="#000" />
<circle cx="172.01" cy="520.24" r="1.6" fill="#000" />
<circle cx="173.60" cy="522.43" r="1.6" fill="#000" />
<circle cx="175.80" cy="523.70" r="1.6" fill="#000" />
<circle cx="176.78" cy="523.35" r="1.6" fill="#000" />
<circle cx="178.38" cy="521.52" r="1.6" fill="#000" />
<circle cx="179.97" cy="518.51" r="1.6" fill="#000" />
<circle cx="181.56" cy="514.74" r="1.6" fill="#000" />
<circle cx="183.30" cy="510.30" r="1.6" fill="#000" />
<circle cx="184.74" cy="504.76" r="1.6" fill="#000" />
<circle cx="186.34" cy="497.09" r="1.6" fill="#000" />
<circle cx="187.80" cy="492.40" r="1.6" fill="#000" />
<circle cx="189.52" cy="490.04" r="1.6" fill="#000" />
<circle cx="190.70" cy="489.40" r="1.6" fill="#000" />
<circle cx="192.70" cy="493.63" r="1.6" fill="#000" />
<circle cx="194.30" cy="499.18" r="1.6" fill="#000" />
<circle cx="195.20" cy="501.30" r="1.6" fill="#000" />
<circle cx="197.48" cy="504.14" r="1.6" fill="#000" />
<circle cx="199.07" cy="505.63" r="1.6" fill="#000" />
<circle cx="200.66" cy="506.96" r="1.6" fill="#000" />
<circle cx="202.70" cy="508.80" r="1.6" fill="#000" />
<circle cx="203.85" cy="510.11" r="1.6" fill="#000" />
<circle cx="205.44" cy="512.22" r="1.6" fill="#000" />
<circle cx="207.03" cy="514.25" r="1.6" fill="#000" />
<circle cx="208.62" cy="515.76" r="1.6" fill="#000" />
<circle cx="210.10" cy="516.30" r="1.6" fill="#000" />
<circle cx="211.81" cy="514.92" r="1.6" fill="#000" />
<circle cx="213.40" cy="511.76" r="1.6" fill="#000" />
<circle cx="214.99" cy="507.69" r="1.6" fill="#000" />
<circle cx="216.58" cy="503.56" r="1.6" fill="#000" />
<circle cx="217.60" cy="501.30" r="1.6" fill="#000" />
<circle cx="219.77" cy="495.94" r="1.6" fill="#000" />
<circle cx="221.36" cy="492.84" r="1.6" fill="#000" />
<circle cx="222.10" cy="492.40" r="1.6" fill="#000" />
<circle cx="222.95" cy="492.91" r="1.6" fill="#000" />
<circle cx="224.54" cy="495.90" r="1.6" fill="#000" />
<circle cx="226.14" cy="500.08" r="1.6" fill="#000" />
<circle cx="228.10" cy="504.30" r="1.6" fill="#000" />
<circle cx="229.32" cy="505.92" r="1.6" fill="#000" />
<circle cx="230.91" cy="507.86" r="1.6" fill="#000" />
<circle cx="232.50" cy="509.60" r="1.6" fill="#000" />
<circle cx="234.10" cy="511.12" r="1.6" fill="#000" />
<circle cx="235.69" cy="512.44" r="1.6" fill="#000" />
<circle cx="236.90" cy="513.30" r="1.6" fill="#000" />
<circle cx="238.87" cy="514.64" r="1.6" fill="#000" />
<circle cx="240.46" cy="515.60" r="1.6" fill="#000" />
<circle cx="242.06" cy="516.21" r="1.6" fill="#000" />
<circle cx="242.90" cy="516.30" r="1.6" fill="#000" />
<circle cx="243.65" cy="516.07" r="1.6" fill="#000" />
<circle cx="245.24" cy="514.34" r="1.6" fill="#000" />
<circle cx="246.83" cy="511.49" r="1.6" fill="#000" />
<circle cx="248.90" cy="507.30" r="1.6" fill="#000" />
<circle cx="250.02" cy="504.38" r="1.6" fill="#000" />
<circle cx="251.61" cy="498.72" r="1.6" fill="#000" />
<circle cx="253.20" cy="493.44" r="1.6" fill="#000" />
<circle cx="254.90" cy="490.90" r="1.6" fill="#000" />
<circle cx="256.38" cy="492.57" r="1.6" fill="#000" />
<circle cx="257.98" cy="496.81" r="1.6" fill="#000" />
<circle cx="259.57" cy="501.56" r="1.6" fill="#000" />
<circle cx="260.80" cy="504.30" r="1.6" fill="#000" />
<circle cx="262.75" cy="507.16" r="1.6" fill="#000" />
<circle cx="264.34" cy="509.19" r="1.6" fill="#000" />
<circle cx="265.94" cy="510.98" r="1.6" fill="#000" />
<circle cx="267.53" cy="512.58" r="1.6" fill="#000" />
<circle cx="268.30" cy="513.30" r="1.6" fill="#000" />
<circle cx="269.12" cy="514.09" r="1.6" fill="#000" />
<circle cx="270.71" cy="515.69" r="1.6" fill="#000" />
<circle cx="272.30" cy="517.04" r="1.6" fill="#000" />
<circle cx="274.30" cy="517.80" r="1.6" fill="#000" />
<circle cx="275.49" cy="517.37" r="1.6" fill="#000" />
<circle cx="277.08" cy="515.65" r="1.6" fill="#000" />
<circle cx="278.67" cy="513.03" r="1.6" fill="#000" />
<circle cx="280.26" cy="509.91" r="1.6" fill="#000" />
<circle cx="281.86" cy="506.73" r="1.6" fill="#000" />
<circle cx="283.20" cy="504.30" r="1.6" fill="#000" />
<circle cx="285.04" cy="500.55" r="1.6" fill="#000" />
<circle cx="286.63" cy="496.79" r="1.6" fill="#000" />
<circle cx="288.22" cy="493.42" r="1.6" fill="#000" />
<circle cx="289.82" cy="491.26" r="1.6" fill="#000" />
<circle cx="290.70" cy="490.90" r="1.6" fill="#000" />
<circle cx="293.00" cy="493.49" r="1.6" fill="#000" />
<circle cx="294.59" cy="497.04" r="1.6" fill="#000" />
<circle cx="296.60" cy="501.30" r="1.6" fill="#000" />
<circle cx="297.78" cy="503.31" r="1.6" fill="#000" />
<circle cx="299.37" cy="506.06" r="1.6" fill="#000" />
<circle cx="300.96" cy="508.74" r="1.6" fill="#000" />
<circle cx="302.55" cy="511.21" r="1.6" fill="#000" />
<circle cx="304.10" cy="513.30" r="1.6" fill="#000" />
<circle cx="305.74" cy="515.42" r="1.6" fill="#000" />
<circle cx="307.33" cy="517.51" r="1.6" fill="#000" />
<circle cx="308.92" cy="519.29" r="1.6" fill="#000" />
<circle cx="310.51" cy="520.44" r="1.6" fill="#000" />
<circle cx="311.60" cy="520.70" r="1.6" fill="#000" />
<circle cx="313.70" cy="519.06" r="1.6" fill="#000" />
<circle cx="315.29" cy="516.26" r="1.6" fill="#000" />
<circle cx="316.88" cy="512.91" r="1.6" fill="#000" />
<circle cx="319.00" cy="508.80" r="1.6" fill="#000" />
<line x1="83.70" y1="388.40" x2="83.70" y2="402.00" stroke="#222" stroke-width="0.6" />
<line x1="82.40" y1="388.40" x2="85.00" y2="388.40" stroke="#222" stroke-width="0.6" />
<line x1="121.40" y1="428.40" x2="121.40" y2="437.00" stroke="#222" stroke-width="0.6" />
<line x1="120.10" y1="428.40" x2="122.70" y2="428.40" stroke="#222" stroke-width="0.6" />
<rect x="68.4" y="370.6" width="252.79999999999998" height="167.60000000000002" fill="none" stroke="#333" stroke-width="0.7"/>
<line x1="64.10" y1="538.20" x2="321.20" y2="538.20" stroke="#333" stroke-width="0.9" />
<line x1="64.00" y1="392.60" x2="68.40" y2="392.60" stroke="#333" stroke-width="0.7" />
<text x="62.60" y="395.55" font-size="8.2" text-anchor="end" font-weight="normal" fill="#000" stroke="#000" stroke-width="0.14" >6000</text>
<line x1="64.00" y1="441.00" x2="68.40" y2="441.00" stroke="#333" stroke-width="0.7" />
<text x="62.60" y="443.95" font-size="8.2" text-anchor="end" font-weight="normal" fill="#000" stroke="#000" stroke-width="0.14" >4000</text>
<line x1="64.00" y1="489.40" x2="68.40" y2="489.40" stroke="#333" stroke-width="0.7" />
<text x="62.60" y="492.35" font-size="8.2" text-anchor="end" font-weight="normal" fill="#000" stroke="#000" stroke-width="0.14" >2000</text>
<line x1="80.31" y1="538.20" x2="80.31" y2="541.60" stroke="#333" stroke-width="0.7" />
<text x="80.31" y="550.00" font-size="8.2" text-anchor="middle" font-weight="normal" fill="#000" stroke="#000" stroke-width="0.14" >24</text>
<line x1="118.52" y1="538.20" x2="118.52" y2="541.60" stroke="#333" stroke-width="0.7" />
<text x="118.52" y="550.00" font-size="8.2" text-anchor="middle" font-weight="normal" fill="#000" stroke="#000" stroke-width="0.14" >48</text>
<line x1="156.72" y1="538.20" x2="156.72" y2="541.60" stroke="#333" stroke-width="0.7" />
<text x="156.72" y="550.00" font-size="8.2" text-anchor="middle" font-weight="normal" fill="#000" stroke="#000" stroke-width="0.14" >72</text>
<line x1="195.43" y1="538.20" x2="195.43" y2="541.60" stroke="#333" stroke-width="0.7" />
<text x="195.43" y="550.00" font-size="8.2" text-anchor="middle" font-weight="normal" fill="#000" stroke="#000" stroke-width="0.14" >98</text>
<line x1="233.14" y1="538.20" x2="233.14" y2="541.60" stroke="#333" stroke-width="0.7" />
<text x="233.14" y="550.00" font-size="8.2" text-anchor="middle" font-weight="normal" fill="#000" stroke="#000" stroke-width="0.14" >120</text>
<line x1="271.35" y1="538.20" x2="271.35" y2="541.60" stroke="#333" stroke-width="0.7" />
<text x="271.35" y="550.00" font-size="8.2" text-anchor="middle" font-weight="normal" fill="#000" stroke="#000" stroke-width="0.14" >144</text>
<line x1="309.56" y1="538.20" x2="309.56" y2="541.60" stroke="#333" stroke-width="0.7" />
<text x="309.56" y="550.00" font-size="8.2" text-anchor="middle" font-weight="normal" fill="#000" stroke="#000" stroke-width="0.14" >168</text>
<text x="183.90" y="562.00" font-size="8.2" text-anchor="middle" font-weight="normal" fill="#000" stroke="#000" stroke-width="0.14" >hour</text>
<text transform="translate(32.3,450.5) rotate(-90)" font-size="8.2" text-anchor="middle" fill="#000" stroke="#000" stroke-width="0.14">Luminescence (cps)</text>
<line x1="93.90" y1="360.60" x2="104.50" y2="360.60" stroke="#111" stroke-width="0.9" />
<circle cx="100.60" cy="360.60" r="2.1" fill="#111" />
<text x="111.00" y="363.50" font-size="8.2" text-anchor="start" font-weight="normal" fill="#000" stroke="#000" stroke-width="0.14" >p<tspan font-style="italic">CCA1</tspan>::LUC</text>
<line x1="205.80" y1="360.10" x2="219.90" y2="360.10" stroke="#ff8a12" stroke-width="0.9" />
<circle cx="212.80" cy="360.10" r="2.1" fill="#ff8a12" />
<text x="224.90" y="363.00" font-size="8.2" text-anchor="start" font-weight="normal" fill="#000" stroke="#000" stroke-width="0.14" >ABF1-OX/p<tspan font-style="italic">CCA1</tspan>::LUC</text>
<line x1="449.60" y1="388.10" x2="449.60" y2="528.00" stroke="#3b2e2c" stroke-width="0.9" />
<line x1="449.20" y1="528.00" x2="660.80" y2="528.00" stroke="#3b2e2c" stroke-width="0.9" />
<line x1="449.80" y1="528.00" x2="449.80" y2="531.50" stroke="#3b2e2c" stroke-width="0.8" />
<text x="449.80" y="544.40" font-size="8.2" text-anchor="middle" font-weight="normal" fill="#000" stroke="#000" stroke-width="0.14" >18</text>
<line x1="491.92" y1="528.00" x2="491.92" y2="531.50" stroke="#3b2e2c" stroke-width="0.8" />
<text x="491.92" y="544.40" font-size="8.2" text-anchor="middle" font-weight="normal" fill="#000" stroke="#000" stroke-width="0.14" >20</text>
<line x1="534.04" y1="528.00" x2="534.04" y2="531.50" stroke="#3b2e2c" stroke-width="0.8" />
<text x="534.04" y="544.40" font-size="8.2" text-anchor="middle" font-weight="normal" fill="#000" stroke="#000" stroke-width="0.14" >22</text>
<line x1="576.16" y1="528.00" x2="576.16" y2="531.50" stroke="#3b2e2c" stroke-width="0.8" />
<text x="576.16" y="544.40" font-size="8.2" text-anchor="middle" font-weight="normal" fill="#000" stroke="#000" stroke-width="0.14" >24</text>
<line x1="618.28" y1="528.00" x2="618.28" y2="531.50" stroke="#3b2e2c" stroke-width="0.8" />
<text x="618.28" y="544.40" font-size="8.2" text-anchor="middle" font-weight="normal" fill="#000" stroke="#000" stroke-width="0.14" >26</text>
<line x1="660.40" y1="528.00" x2="660.40" y2="531.50" stroke="#3b2e2c" stroke-width="0.8" />
<text x="660.40" y="544.40" font-size="8.2" text-anchor="middle" font-weight="normal" fill="#000" stroke="#000" stroke-width="0.14" >28</text>
<text x="557.40" y="562.10" font-size="8.2" text-anchor="middle" font-weight="normal" fill="#000" stroke="#000" stroke-width="0.14" >Period (h)</text>
<line x1="444.20" y1="428.30" x2="449.60" y2="428.30" stroke="#3b2e2c" stroke-width="0.8" />
<line x1="444.20" y1="488.40" x2="449.60" y2="488.40" stroke="#3b2e2c" stroke-width="0.8" />
<text x="441.60" y="431.30" font-size="8.2" text-anchor="end" font-weight="normal" fill="#000" stroke="#000" stroke-width="0.14" >p<tspan font-style="italic">CCA1</tspan>::LUC</text>
<text x="446.20" y="491.40" font-size="8.2" text-anchor="end" font-weight="normal" fill="#000" stroke="#000" stroke-width="0.14" >ABF1-OX/p<tspan font-style="italic">CCA1</tspan>::LUC</text>
<line x1="507.40" y1="428.30" x2="516.30" y2="428.30" stroke="#3b2e2c" stroke-width="0.8" />
<line x1="507.40" y1="418.30" x2="507.40" y2="437.90" stroke="#3b2e2c" stroke-width="0.8" />
<line x1="633.60" y1="428.30" x2="643.30" y2="428.30" stroke="#3b2e2c" stroke-width="0.8" />
<line x1="643.30" y1="418.30" x2="643.30" y2="437.90" stroke="#3b2e2c" stroke-width="0.8" />
<rect x="516.3" y="409.3" width="117.3" height="37.9" fill="#6b6b6b" stroke="#3b2e2c" stroke-width="0.9"/>
<line x1="590.30" y1="409.30" x2="590.30" y2="447.20" stroke="#3b2e2c" stroke-width="0.9" />
<line x1="473.10" y1="488.40" x2="487.60" y2="488.40" stroke="#3b2e2c" stroke-width="0.8" />
<line x1="473.10" y1="478.40" x2="473.10" y2="498.30" stroke="#3b2e2c" stroke-width="0.8" />
<line x1="530.10" y1="488.40" x2="574.30" y2="488.40" stroke="#3b2e2c" stroke-width="0.8" />
<line x1="574.30" y1="478.40" x2="574.30" y2="498.30" stroke="#3b2e2c" stroke-width="0.8" />
<rect x="487.6" y="469.4" width="42.5" height="37.8" fill="#fa6c08" stroke="#3b2e2c" stroke-width="0.9"/>
<line x1="503.20" y1="469.40" x2="503.20" y2="507.20" stroke="#3b2e2c" stroke-width="0.9" />
<line x1="658.40" y1="428.20" x2="658.40" y2="489.40" stroke="#3b2e2c" stroke-width="0.8" />
<text x="666.90" y="468.60" font-size="21" text-anchor="middle" font-weight="bold" fill="#111" >*</text>
</svg>
</body></html>
